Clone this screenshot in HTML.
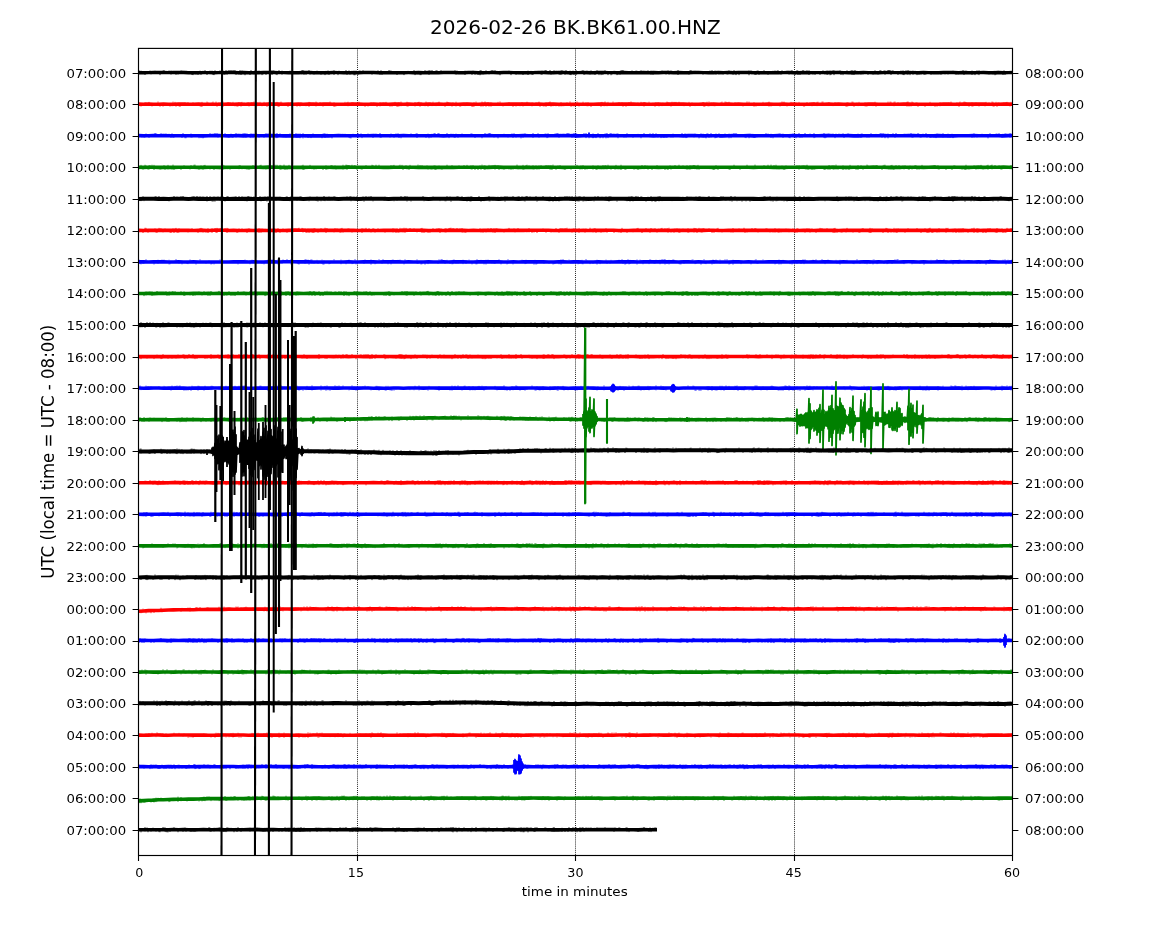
<!DOCTYPE html>
<html><head><meta charset="utf-8"><title>dayplot</title><style>html,body{margin:0;padding:0;background:#fff;overflow:hidden}svg{display:block}</style></head><body>
<svg width="1150" height="950" viewBox="0 0 1150 950">
<rect width="1150" height="950" fill="#fff"/>
<defs><clipPath id="ax"><rect x="138.5" y="48.4" width="874" height="807.1"/></clipPath></defs>
<line x1="357.5" y1="48.4" x2="357.5" y2="855.5" stroke="#1a1a1a" stroke-width="0.95" stroke-dasharray="1 1.06"/>
<line x1="575.5" y1="48.4" x2="575.5" y2="855.5" stroke="#1a1a1a" stroke-width="0.95" stroke-dasharray="1 1.06"/>
<line x1="794.5" y1="48.4" x2="794.5" y2="855.5" stroke="#1a1a1a" stroke-width="0.95" stroke-dasharray="1 1.06"/>
<g clip-path="url(#ax)">
<path d="M138.5 72.75l5 0.02l5 -0.13l5 -0.08l5 0.02l5 -0.03l5 0.06l5 -0.06l5 0.04l5 0l5 0.08l5 0.07l5 -0.03l5 -0.08l5 0l5 0.03l5 -0.04l5 -0.01l5 -0.07l5 0.06l5 0.16l5 -0.2l5 0.09l5 0.03l5 0.06l5 -0.16l5 0.02l5 -0.01l5 0.04l5 0.01l5 0.12l5 -0.03l5 0.01l5 -0.2l5 0l5 0.16l5 0.04l5 -0.1l5 0.03l5 -0.14l5 0.09l5 0.13l5 -0.02l5 0.01l5 0.02l5 -0.17l5 -0.03l5 0.01l5 0.09l5 0.03l5 0.07l5 -0.06l5 -0.01l5 0.02l5 -0.07l5 0.02l5 -0.12l5 0.18l5 -0.13l5 0.16l5 -0.07l5 -0.08l5 -0.04l5 0.03l5 0.09l5 0.02l5 -0.14l5 -0.01l5 0.11l5 0.01l5 -0.05l5 -0.04l5 0.09l5 -0.14l5 0.07l5 0.04l5 0.12l5 -0.08l5 0.06l5 -0.1l5 -0.05l5 0l5 0.17l5 -0.06l5 -0.1l5 -0.06l5 0.11l5 0.04l5 -0.06l5 -0.04l5 0.1l5 0.06l5 -0.17l5 -0.04l5 0.07l5 0.02l5 0.06l5 -0.11l5 0.14l5 -0.01l5 -0.06l5 -0.07l5 0.18l5 -0.16l5 0.13l5 -0.14l5 -0.01l5 0.13l5 -0.11l5 0.16l5 -0.11l5 -0.08l5 0.01l5 0.05l5 0.06l5 0.07l5 -0.19l5 0.05l5 -0.04l5 0.18l5 -0.2l5 -0.02l5 0l5 0.08l5 0.13l5 -0.01l5 -0.03l5 0.06l5 -0.02l5 -0.14l5 -0.04l5 0.18l5 -0.04l5 -0.17l5 0.15l5 -0.07l5 0l5 -0.01l5 -0.04l5 -0.04l5 0.07l5 0.01l5 0.15l5 -0.2l5 0.2l5 -0.18l5 0.04l5 0.11l5 0l5 -0.1l5 -0.09l5 0.1l5 -0.02l5 0.13l5 -0.17l5 0.04l5 0.13l5 -0.21l5 0.09l5 0.09l5 -0.01l5 -0.17l5 0l5 0.01l5 0.2l5 -0.16l5 0.12l5 0.04l5 -0.14l5 -0.01l5 0.16l5 -0.08l5 -0.09l5 0.11l5 -0.09l4 -0.01" fill="none" stroke="#000000" stroke-width="3.46"/>
<path d="M139 71.2v-0.9m2 0.9v-0.5m4 3.4v0.9m5 -3.8v-0.5m1 3.4v0.3m4 -3.2v-0.4m5 3.3v1m3 -3.9v-0.5m1 0.5v-1m5 1v-0.7m2 0.7v-0.5m0 3.4v0.5m5 -0.5v0.8m2 -0.8v0.5m3 -3.4v-0.6m1 0.6v-0.5m2 0.5v-0.4m2 0.4v-0.4m6 3.3v0.9m1 -0.9v1m3 -1v0.3m2 -0.3v0.8m2 -3.7v-0.5m1 3.4v0.7m2 -3.6v-0.4m2 0.4v-1m2 3.9v0.9m3 -3.8v-0.5m2 0.5v-0.5m1 3.4v0.7m1 -0.7v1m1 -3.9v-0.8m5 0.8v-0.8m3 0.8v-0.7m0 3.6v0.4m1 -0.4v0.7m1 -0.7v0.8m1 -3.7v-0.9m1 3.8v0.7m2 -3.6v-1m2 1v-1.1m2 1.1v-0.9m1 0.9v-0.6m1 0.6v-1m1 3.9v0.7m3 -0.7v0.4m1 -3.3v-1m1 3.9v0.9m1 -3.8v-0.7m3 3.6v1.1m5 -1.1v0.9m1 -3.8v-1m3 3.9v0.3m1 -3.2v-0.8m2 0.8v-0.5m1 0.5v-0.3m1 0.3v-0.6m3 3.5v1m1 -1v0.4m3 -0.4v0.8m5 -3.7v-0.7m1 3.6v0.9m1 -3.8v-0.7m1 0.7v-0.5m2 3.4v0.5m1 -0.5v1m2 -3.9v-1m3 1v-0.5m0 3.4v0.6m8 -3.5v-0.5m12 0.5v-1m0 3.9v0.3m1 -3.2v-1m1 1v-0.3m0 3.2v0.9m2 -0.9v0.8m3 -3.7v-1m1 3.9v0.5m1 -3.4v-0.3m3 3.2v0.4m3 -3.3v-0.5m4 3.4v0.6m4 -0.6v1m1 -3.9v-0.3m2 0.3v-0.7m1 3.6v0.7m5 -3.6v-0.8m0 3.7v0.9m4 -0.9v1m1 -3.9v-0.5m7 0.5v-1m1 3.9v0.7m2 -3.6v-0.7m1 3.6v0.5m2 -3.4v-0.4m2 0.4v-0.6m0 3.5v1.1m1 -1.1v1.1m1 -4v-0.6m2 3.5v0.8m1 -3.7v-0.5m1 0.5v-0.6m3 0.6v-0.8m9 3.7v0.6m6 -3.5v-0.8m2 3.7v0.7m1 -3.6v-0.9m1 3.8v0.8m7 -3.7v-1.1m1 1.1v-0.5m1 0.5v-0.6m6 3.5v0.9m7 -0.9v1m4 -3.9v-0.3m6 0.3v-1m1 3.9v1m1 -1v0.3m2 -0.3v0.4m2 -0.4v1m1 -1v1m4 -3.9v-0.9m4 0.9v-0.7m0 3.6v0.7m1 -3.6v-0.7m2 0.7v-1m4 1v-0.8m1 0.8v-0.8m4 0.8v-0.9m14 0.9v-0.9m1 3.8v0.5m1 -3.4v-0.5m8 0.5v-0.4m0 3.3v0.9m7 -0.9v0.8m1 -3.7v-0.4m2 3.3v0.6m3 -0.6v0.8m1 -0.8v0.3m1 -3.2v-0.8m0 3.7v1.1m1 -4v-1m0 3.9v0.3m2 -0.3v0.3m3 -3.2v-0.8m3 3.7v0.3m2 -3.2v-0.5m1 0.5v-1m1 1v-0.6m2 0.6v-0.9m5 3.8v1.1m9 -4v-0.5m2 3.4v1m5 -1v0.7m7 -0.7v0.9m5 -3.8v-0.5m0 3.4v0.9m3 -3.8v-0.3m1 3.2v0.8m1 -0.8v0.8m2 -3.7v-0.3m6 3.2v0.5m1 -3.4v-0.4m0 3.3v0.7m3 -3.6v-0.8m1 0.8v-1.1m4 1.1v-1.1m1 4v0.5m3 -3.4v-0.9m2 0.9v-0.4m3 3.3v0.6m1 -0.6v0.7m1 -3.6v-0.5m0 3.4v0.8m1 -3.7v-0.9m0 3.8v0.3m3 -0.3v0.7m1 -3.6v-1m4 1v-0.5m0 3.4v0.9m1 -0.9v1m2 -3.9v-0.5m1 3.4v0.7m2 -3.6v-1.1m0 4v1m6 -3.9v-0.5m1 0.5v-0.9m1 3.8v0.9m1 -0.9v0.3m2 -3.2v-0.6m2 0.6v-0.4m1 3.3v0.4m1 -3.3v-0.8m4 3.7v0.9m2 -3.8v-0.9m2 3.8v1m2 -1v1m1 -1v0.6m1 -0.6v0.7m2 -3.6v-0.9m3 3.8v1m3 -1v1.1m1 -1.1v0.4m2 -3.3v-0.4m1 0.4v-0.3m2 3.2v1m1 -1v0.4m2 -0.4v0.6m1 -3.5v-0.8m1 0.8v-0.8m1 0.8v-1m9 1v-0.7m4 0.7v-0.6m1 0.6v-0.4m4 0.4v-0.8m7 0.8v-0.8m3 0.8v-0.4m0 3.3v0.5m2 -0.5v0.7m9 -3.6v-0.6m4 3.5v0.4m2 -3.3v-0.6m1 3.5v0.5m2 -3.4v-0.6m7 0.6v-1m0 3.9v0.9m11 -0.9v0.5m1 -3.4v-0.8m1 0.8v-1m4 1v-0.3m8 3.2v0.6m7 -3.5v-0.6m2 0.6v-1m3 1v-0.5m1 3.4v0.4m3 -0.4v0.6m2 -0.6v0.5m2 -0.5v0.7m4 -0.7v0.4m1 -0.4v0.4m1 -3.3v-0.7m2 0.7v-0.3m2 3.2v0.5m1 -3.4v-1m2 3.9v1m3 -1v1m10 -3.9v-0.6m0 3.5v1.1m2 -4v-0.7m1 3.6v0.4m2 -0.4v0.5m1 -0.5v0.8m1 -0.8v0.9m1 -3.8v-0.5m1 0.5v-0.7m1 3.6v0.6m5 -3.5v-0.9m4 3.8v0.7m5 -3.6v-0.4m2 0.4v-0.7m2 0.7v-0.5m1 0.5v-0.9m3 3.8v0.5m1 -3.4v-0.8m5 0.8v-0.4m2 0.4v-0.3m0 3.2v0.5m2 -3.4v-0.5m1 0.5v-1m3 3.9v1m2 -3.9v-1m1 1v-0.5m0 3.4v0.9m2 -0.9v0.9m3 -3.8v-1.1m4 1.1v-0.9m2 0.9v-0.9m0 3.8v0.9m4 -0.9v0.6m2 -0.6v0.9m5 -0.9v0.8m3 -3.7v-0.8m2 3.7v0.5m2 -3.4v-0.5m0 3.4v0.9m1 -0.9v0.6m2 -3.5v-0.4m0 3.3v1.1m1 -1.1v0.9m2 -3.8v-0.7m1 0.7v-0.7m0 3.6v1m4 -3.9v-0.3m2 0.3v-0.8m1 3.7v0.9m2 -0.9v1m4 -3.9v-0.8m4 0.8v-0.5m1 0.5v-0.9m0 3.8v0.7m1 -0.7v0.3m1 -0.3v0.9m1 -3.8v-1m6 3.9v0.5m2 -0.5v0.4m5 -0.4v0.8m5 -0.8v0.5m2 -3.4v-0.8m3 3.7v0.4m2 -3.3v-1m1 1v-0.7m3 0.7v-0.7m1 0.7v-0.6m0 3.5v0.7m3 -3.6v-1.1m1 1.1v-1m1 1v-1.1m1 4v0.9m1 -3.8v-0.5m1 0.5v-0.8m5 3.7v0.9m3 -3.8v-0.6m2 0.6v-0.8m0 3.7v0.7m1 -0.7v1m2 -3.9v-0.7m1 3.6v0.3m1 -3.2v-0.9m0 3.8v0.7m2 -0.7v1m3 -3.9v-0.6m0 3.5v0.7m2 -3.6v-0.4m2 3.3v1m2 -1v0.6m2 -0.6v0.4m3 -0.4v0.8m1 -0.8v0.7m1 -0.7v0.4m5 -0.4v0.7m10 -0.7v0.6m4 -0.6v0.3m3 -0.3v0.4m5 -3.3v-0.4m3 3.3v0.7m2 -0.7v0.4m5 -3.3v-0.9m1 3.8v0.9m2 -3.8v-0.5m6 0.5v-0.6m0 3.5v0.8m3 -0.8v1m2 -3.9v-0.8m1 3.7v0.4m1 -3.3v-0.9m0 3.8v1m10 -1v0.3m4 -0.3v0.3m1 -3.2v-0.3m1 3.2v1.1m1 -1.1v0.4m2 -3.3v-0.3m5 3.2v0.9m1 -3.8v-0.8m1 3.7v0.8" fill="none" stroke="#000000" stroke-width="0.9"/>
<path d="M138.5 104.13l5 0.08l5 -0.1l5 0.17l5 0l5 -0.14l5 0.12l5 0.01l5 -0.13l5 0.01l5 0.04l5 0.1l5 -0.18l5 0.13l5 -0.02l5 -0.04l5 0.03l5 0.08l5 -0.16l5 0.16l5 -0.13l5 0.1l5 0.02l5 -0.16l5 0.16l5 0.03l5 -0.16l5 -0.07l5 0.02l5 0.21l5 -0.23l5 0.21l5 -0.18l5 0.14l5 -0.15l5 0.02l5 0.12l5 -0.14l5 0.06l5 0.14l5 -0.05l5 0.04l5 0.02l5 -0.23l5 0.05l5 0.14l5 -0.03l5 -0.16l5 0.12l5 -0.07l5 0.05l5 -0.08l5 -0.02l5 0.23l5 -0.16l5 0.14l5 -0.19l5 0.09l5 -0.08l5 0.07l5 -0.06l5 0.12l5 -0.13l5 0.14l5 -0.05l5 -0.1l5 0.06l5 0.03l5 0.11l5 -0.14l5 -0.03l5 0.18l5 -0.02l5 -0.04l5 -0.11l5 -0.02l5 0.02l5 -0.05l5 0l5 0.11l5 -0.03l5 0.04l5 -0.05l5 -0.08l5 0.16l5 -0.01l5 -0.02l5 0l5 0.03l5 0.07l5 -0.03l5 -0.03l5 -0.08l5 -0.02l5 0.03l5 0.13l5 -0.14l5 0l5 0l5 -0.06l5 0.2l5 -0.23l5 0.14l5 0.08l5 -0.16l5 0.08l5 -0.05l5 -0.04l5 -0.01l5 -0.02l5 0.18l5 -0.02l5 0.03l5 -0.2l5 0.15l5 -0.09l5 0.08l5 -0.02l5 -0.06l5 0.16l5 -0.23l5 0.17l5 0.03l5 -0.08l5 0.02l5 0.09l5 -0.18l5 0.1l5 0.02l5 -0.08l5 0.08l5 -0.08l5 0.03l5 0.02l5 0.02l5 -0.09l5 0.08l5 -0.02l5 -0.08l5 0.09l5 -0.08l5 0.15l5 -0.1l5 0.06l5 -0.05l5 -0.01l5 -0.06l5 -0.02l5 0.19l5 -0.1l5 0l5 0l5 0.07l5 -0.14l5 -0.01l5 0.15l5 -0.08l5 0.04l5 0.04l5 0.02l5 -0.01l5 -0.19l5 0.08l5 0.1l5 0l5 -0.17l5 0.01l5 0.03l5 -0.04l5 0.06l5 0.11l5 -0.07l5 -0.02l5 -0.08l5 0.07l4 0.14" fill="none" stroke="#ff0000" stroke-width="3.6"/>
<path d="M141 105.7v0.8m4 -3.8v-0.5m1 0.5v-0.4m3 0.4v-0.8m3 3.8v0.7m6 -3.7v-1.1m2 4.1v0.9m3 -0.9v0.8m7 -0.8v0.8m2 -0.8v0.5m1 -3.5v-1m0 4v0.4m2 -3.4v-0.8m1 3.8v0.9m3 -0.9v0.6m1 -0.6v1.1m5 -4.1v-0.5m3 0.5v-0.7m5 0.7v-0.6m7 3.6v0.6m1 -0.6v1m1 -4v-0.8m0 3.8v1m5 -4v-1m1 1v-0.4m4 0.4v-0.3m1 0.3v-1m3 1v-1m1 4v0.9m2 -3.9v-0.6m2 0.6v-0.7m2 0.7v-1m0 4v1m5 -4v-0.7m2 0.7v-0.4m3 0.4v-0.8m2 3.8v0.6m2 -0.6v0.9m1 -0.9v0.7m1 -3.7v-0.7m2 0.7v-0.7m0 3.7v0.8m1 -3.8v-0.8m2 0.8v-0.4m3 0.4v-0.4m1 0.4v-0.7m1 0.7v-0.7m0 3.7v0.7m2 -3.7v-0.6m1 0.6v-0.5m2 0.5v-1.1m3 4.1v0.5m1 -3.5v-0.6m2 0.6v-0.8m2 3.8v0.5m2 -3.5v-0.8m3 3.8v1.1m2 -4.1v-0.5m1 3.5v0.6m1 -3.6v-0.5m6 0.5v-0.8m1 3.8v0.9m1 -0.9v1.1m2 -4.1v-1m7 4v1.1m3 -4.1v-0.7m6 3.7v0.8m3 -0.8v0.7m1 -3.7v-0.4m5 3.4v0.5m3 -3.5v-0.8m0 3.8v1m1 -4v-0.5m6 0.5v-1m0 4v0.7m1 -3.7v-0.4m3 0.4v-0.7m3 3.7v0.8m7 -3.8v-1m4 1v-0.6m0 3.6v1.1m1 -1.1v0.8m1 -0.8v0.6m9 -3.6v-0.8m2 0.8v-0.7m1 0.7v-0.9m0 3.9v0.5m1 -3.5v-0.5m2 0.5v-0.5m1 0.5v-0.6m1 0.6v-0.5m6 0.5v-0.9m6 3.9v1m3 -1v0.7m3 -3.7v-0.5m6 3.5v1m3 -4v-0.6m0 3.6v0.6m6 -3.6v-0.8m4 3.8v0.9m2 -0.9v0.8m3 -3.8v-0.8m2 3.8v1m1 -1v0.8m1 -3.8v-0.5m0 3.5v0.7m2 -3.7v-1m0 4v0.5m6 -3.5v-0.9m0 3.9v0.7m1 -0.7v0.8m7 -3.8v-0.7m0 3.7v0.7m3 -3.7v-0.6m1 0.6v-0.9m1 3.9v0.9m1 -3.9v-0.5m4 3.5v0.5m1 -3.5v-1m2 4v0.8m2 -3.8v-0.4m2 3.4v0.4m1 -3.4v-0.9m3 3.9v0.4m3 -3.4v-1m4 4v0.3m2 -0.3v1m2 -4v-1m1 1v-0.6m4 3.6v0.8m1 -3.8v-0.5m3 0.5v-0.9m0 3.9v0.7m4 -0.7v1m1 -1v0.5m4 -0.5v0.4m2 -3.4v-0.3m4 3.3v0.3m1 -0.3v1.1m1 -1.1v0.9m1 -3.9v-0.7m0 3.7v0.9m2 -3.9v-1m3 4v0.3m2 -0.3v0.9m1 -3.9v-1m1 4v0.8m2 -3.8v-1.1m1 4.1v0.9m2 -3.9v-0.6m1 3.6v0.8m2 -3.8v-0.4m0 3.4v0.9m7 -3.9v-0.8m2 0.8v-1.1m3 4.1v0.7m6 -3.7v-0.5m4 3.5v1m3 -1v0.7m4 -0.7v0.5m2 -3.5v-0.5m1 3.5v0.7m4 -3.7v-0.9m5 0.9v-0.4m0 3.4v0.6m1 -3.6v-0.4m3 0.4v-0.4m3 0.4v-1m1 4v1m3 -1v0.5m1 -0.5v0.8m2 -3.8v-0.4m0 3.4v1.1m3 -4.1v-0.3m1 0.3v-1.1m1 4.1v0.9m2 -0.9v0.5m3 -0.5v0.5m3 -0.5v0.8m2 -3.8v-0.7m0 3.7v0.7m1 -0.7v0.4m1 -0.4v0.5m1 -0.5v0.4m3 -3.4v-0.5m3 0.5v-1.1m1 4.1v1m1 -1v0.5m2 -0.5v0.7m3 -3.7v-1.1m1 1.1v-0.3m1 3.3v0.7m4 -3.7v-0.9m3 0.9v-0.5m1 3.5v0.5m1 -3.5v-0.7m0 3.7v0.5m3 -0.5v1.1m10 -4.1v-0.6m0 3.6v1m1 -4v-0.8m2 3.8v0.5m1 -3.5v-1.1m0 4.1v0.4m2 -0.4v0.5m1 -3.5v-0.8m5 0.8v-1m0 4v0.3m6 -3.3v-0.5m3 0.5v-0.4m1 3.4v0.9m3 -0.9v0.9m3 -3.9v-0.7m2 0.7v-1.1m7 1.1v-0.5m1 3.5v0.4m2 -3.4v-0.8m3 0.8v-0.7m0 3.7v0.8m1 -3.8v-0.6m4 0.6v-0.9m4 0.9v-0.3m2 0.3v-0.3m0 3.3v0.9m1 -3.9v-0.5m2 0.5v-0.4m1 3.4v0.6m3 -0.6v0.4m1 -3.4v-0.4m4 0.4v-1m1 1v-0.4m3 3.4v0.8m1 -3.8v-0.9m2 0.9v-0.8m1 0.8v-0.5m1 0.5v-0.8m3 0.8v-0.9m5 3.9v0.5m5 -3.5v-0.8m0 3.8v0.3m1 -0.3v1m2 -4v-0.4m3 3.4v0.4m8 -3.4v-0.7m1 3.7v1.1m1 -1.1v0.7m2 -3.7v-0.9m1 3.9v0.6m1 -3.6v-1.1m0 4.1v0.5m1 -0.5v0.4m1 -3.4v-0.4m1 3.4v0.4m2 -0.4v0.5m1 -0.5v0.5m6 -3.5v-0.5m1 0.5v-1m3 1v-1m1 1v-0.9m1 0.9v-0.6m2 0.6v-0.9m6 0.9v-0.5m8 3.5v0.7m4 -3.7v-1.1m2 1.1v-1m5 1v-0.6m0 3.6v0.9m1 -0.9v0.4m1 -0.4v0.7m7 -3.7v-0.8m6 0.8v-1m0 4v0.8m2 -0.8v0.7m9 -0.7v0.7m2 -3.7v-1.1m2 1.1v-1m3 4v0.7m4 -3.7v-0.8m4 3.8v0.3m4 -3.3v-0.8m5 3.8v1.1m1 -1.1v0.4m2 -3.4v-0.7m3 0.7v-0.4m2 0.4v-0.5m0 3.5v0.5m2 -3.5v-0.7m3 0.7v-0.8m0 3.8v0.4m1 -3.4v-0.9m4 0.9v-1m1 1v-1m6 1v-0.6m4 3.6v0.4m2 -3.4v-0.6m11 3.6v0.9m1 -3.9v-0.5m0 3.5v0.9m1 -3.9v-0.5m0 3.5v0.5m4 -3.5v-1m1 1v-0.9m1 3.9v1m2 -1v0.3m1 -3.3v-0.3m1 3.3v0.4m1 -3.4v-0.8m6 0.8v-0.4m0 3.4v0.6m1 -0.6v0.7m1 -0.7v0.7m6 -0.7v0.4m2 -3.4v-0.9m1 3.9v0.9m12 -3.9v-1m2 1v-1m1 1v-0.9m3 0.9v-0.9m0 3.9v0.5m1 -3.5v-1m3 1v-0.7m9 0.7v-0.9m0 3.9v0.8m1 -3.8v-1.1m1 4.1v0.8m2 -0.8v0.7m1 -3.7v-1m1 1v-0.7m3 0.7v-0.4m1 0.4v-0.4m1 3.4v1m7 -1v1m5 -4v-0.8m1 3.8v0.4m4 -0.4v1m2 -1v0.8m3 -3.8v-0.5m0 3.5v0.5m9 -3.5v-0.3m2 0.3v-1m3 4v0.3m3 -3.3v-0.6m2 0.6v-0.5m0 3.5v1m1 -4v-1m4 1v-1m1 1v-0.9m1 0.9v-0.6m3 3.6v0.9m3 -3.9v-0.4m0 3.4v0.8m1 -0.8v0.7m3 -3.7v-0.3m3 3.3v0.7m6 -3.7v-0.4m0 3.4v0.6m1 -3.6v-0.8m3 0.8v-0.5m2 3.5v0.3m1 -3.3v-1m1 1v-0.8m0 3.8v0.7m1 -0.7v0.9m2 -3.9v-0.8m1 3.8v1m1 -4v-0.5m1 0.5v-0.4m5 0.4v-0.4m2 0.4v-0.7m1 0.7v-0.8m3 3.8v0.7m1 -3.7v-0.8" fill="none" stroke="#ff0000" stroke-width="0.9"/>
<path d="M138.5 135.63l5 0.16l5 0.02l5 -0.16l5 0.05l5 -0.07l5 0.13l5 0.03l5 -0.09l5 0.09l5 -0.08l5 0.08l5 -0.1l5 0.16l5 -0.12l5 -0.11l5 0.02l5 0.15l5 0.04l5 -0.06l5 -0.11l5 0.17l5 -0.04l5 -0.14l5 0.06l5 0.07l5 -0.16l5 0.01l5 0.07l5 0.13l5 0.03l5 -0.16l5 0.14l5 -0.03l5 0.02l5 -0.07l5 0.09l5 -0.08l5 0.08l5 -0.09l5 -0.09l5 0.07l5 0l5 -0.04l5 0.01l5 0.03l5 0.02l5 -0.09l5 0.02l5 0.05l5 0l5 -0.02l5 0.06l5 -0.12l5 0.09l5 -0.06l5 0.11l5 -0.01l5 0.02l5 -0.07l5 -0.06l5 0.16l5 -0.1l5 -0.03l5 -0.02l5 0.03l5 0.07l5 0.03l5 -0.08l5 0.06l5 -0.13l5 0.06l5 -0.02l5 -0.02l5 0.02l5 0.09l5 0l5 -0.13l5 0.01l5 0.13l5 -0.03l5 0l5 -0.01l5 0.02l5 -0.1l5 -0.06l5 0.08l5 -0.08l5 0.22l5 -0.1l5 0.03l5 0.07l5 -0.04l5 -0.13l5 0.02l5 -0.05l5 0.16l5 -0.01l5 -0.06l5 -0.03l5 -0.03l5 0.06l5 0.05l5 0.04l5 -0.01l5 0.01l5 -0.1l5 -0.01l5 -0.02l5 0.15l5 -0.19l5 0l5 0.03l5 0.15l5 -0.02l5 -0.12l5 0.12l5 0.01l5 -0.11l5 -0.05l5 0.14l5 -0.1l5 -0.06l5 0.19l5 -0.11l5 -0.01l5 0.04l5 -0.08l5 -0.06l5 0.09l5 0l5 -0.09l5 0.09l5 0.09l5 -0.1l5 0.08l5 -0.01l5 -0.1l5 -0.05l5 0.16l5 -0.01l5 -0.08l5 -0.02l5 0.16l5 0.01l5 -0.16l5 0.08l5 0l5 -0.06l5 -0.07l5 0.07l5 0.07l5 -0.01l5 -0.02l5 -0.09l5 0.02l5 0.02l5 0.03l5 -0.01l5 0.13l5 -0.19l5 0.21l5 -0.18l5 0.15l5 -0.15l5 0.08l5 -0.05l5 -0.08l5 0.18l5 0l5 -0.13l5 0.13l5 -0.08l5 0.13l5 -0.23l4 0.08" fill="none" stroke="#0000ff" stroke-width="3.6"/>
<path d="M142 137.2v0.5m2 -0.5v0.7m1 -0.7v0.4m1 -3.4v-0.6m3 3.6v0.7m6 -3.7v-1.1m1 1.1v-0.8m5 0.8v-0.8m5 0.8v-0.5m3 0.5v-0.4m2 3.4v0.8m1 -3.8v-0.7m1 3.7v0.7m1 -0.7v0.5m8 -0.5v0.8m1 -3.8v-1m2 4v1m1 -1v1m5 -4v-0.6m0 3.6v0.4m1 -0.4v0.4m7 -0.4v1m2 -1v0.9m2 -0.9v1.1m7 -4.1v-0.9m5 0.9v-1m2 1v-0.9m1 3.9v0.5m4 -3.5v-0.9m3 0.9v-0.9m4 3.9v0.4m2 -3.4v-0.5m1 3.5v0.4m1 -0.4v0.7m3 -3.7v-1m0 4v0.3m7 -3.3v-0.8m1 0.8v-0.7m1 0.7v-1m1 1v-0.5m0 3.5v0.5m1 -3.5v-0.7m3 3.7v0.5m1 -3.5v-0.6m0 3.6v0.9m2 -0.9v0.9m3 -3.9v-1.1m3 4.1v0.6m5 -0.6v0.6m2 -3.6v-0.8m2 0.8v-0.5m3 3.5v0.7m2 -0.7v0.8m3 -0.8v0.9m1 -3.9v-1m0 4v0.9m1 -0.9v0.6m2 -3.6v-0.7m6 3.7v0.3m4 -3.3v-0.7m3 3.7v0.7m3 -3.7v-1m0 4v0.5m1 -0.5v0.6m1 -3.6v-0.7m0 3.7v0.4m1 -0.4v0.4m1 -3.4v-0.7m0 3.7v1m3 -4v-0.9m0 3.9v1.1m2 -1.1v0.4m3 -0.4v0.6m3 -0.6v0.9m2 -3.9v-0.7m9 3.7v1m1 -4v-0.5m1 0.5v-0.7m1 0.7v-0.8m0 3.8v0.7m2 -3.7v-0.5m5 3.5v1.1m11 -4.1v-0.4m2 0.4v-0.4m4 3.4v0.6m1 -0.6v1m1 -1v1.1m2 -4.1v-0.4m5 0.4v-1m0 4v0.9m3 -3.9v-0.7m1 3.7v0.9m6 -3.9v-0.6m5 3.6v0.8m3 -3.8v-0.4m4 0.4v-1.1m0 4.1v0.4m1 -0.4v0.7m9 -0.7v0.4m1 -3.4v-0.6m3 3.6v0.6m2 -3.6v-0.7m2 0.7v-0.9m1 3.9v0.8m2 -0.8v1m10 -4v-0.7m5 0.7v-0.6m1 0.6v-0.9m0 3.9v0.8m9 -0.8v0.7m2 -3.7v-0.5m1 3.5v1m2 -1v0.6m1 -3.6v-0.4m2 0.4v-0.9m1 0.9v-1m3 1v-1m1 1v-0.9m8 0.9v-1m2 4v0.9m2 -3.9v-0.5m2 0.5v-0.4m1 3.4v0.4m1 -0.4v0.8m1 -3.8v-0.5m2 3.5v0.6m4 -3.6v-0.6m9 0.6v-0.7m1 0.7v-0.6m3 3.6v0.8m7 -0.8v1m3 -4v-1m4 1v-0.9m1 0.9v-1.1m4 4.1v0.4m4 -0.4v1.1m6 -4.1v-0.4m4 3.4v0.4m4 -3.4v-0.7m1 3.7v0.7m1 -3.7v-0.9m2 3.9v0.4m5 -0.4v1.1m2 -1.1v0.6m2 -3.6v-0.7m8 0.7v-1m0 4v0.7m5 -3.7v-0.9m1 3.9v0.5m6 -3.5v-0.5m1 0.5v-0.6m1 3.6v0.9m1 -3.9v-0.9m0 3.9v0.4m7 -3.4v-0.6m1 0.6v-0.6m1 0.6v-1m1 1v-1m1 4v0.6m1 -3.6v-0.4m7 0.4v-1m1 1v-1m1 1v-0.9m3 3.9v0.8m2 -3.8v-0.9m0 3.9v0.5m1 -3.5v-0.4m1 0.4v-0.9m0 3.9v0.8m1 -0.8v0.5m7 -3.5v-1m2 1v-1.1m0 4.1v0.9m3 -0.9v1m4 -4v-0.7m0 3.7v1m3 -1v0.9m2 -3.9v-1m2 4v1m1 -1v0.4m2 -0.4v1m2 -4v-0.6m1 0.6v-0.6m0 3.6v1.1m1 -4.1v-1.1m1 4.1v0.9m2 -3.9v-0.7m1 0.7v-1m6 1v-0.6m1 0.6v-0.6m0 3.6v1m6 -1v0.6m2 -0.6v0.5m1 -3.5v-0.9m6 3.9v0.6m5 -3.6v-0.3m3 3.3v1m3 -4v-1m6 1v-0.8m2 0.8v-0.3m1 0.3v-0.9m3 0.9v-0.8m2 3.8v0.5m3 -0.5v0.9m3 -0.9v0.6m2 -0.6v0.4m1 -0.4v0.5m4 -0.5v0.5m2 -3.5v-0.5m0 3.5v0.5m9 -3.5v-1m3 1v-0.6m1 3.6v0.9m1 -0.9v0.5m7 -0.5v0.3m1 -3.3v-0.5m4 3.5v1.1m2 -4.1v-0.8m2 0.8v-0.5m3 3.5v1.1m1 -4.1v-0.8m1 0.8v-0.6m1 3.6v0.8m2 -3.8v-1m0 4v0.4m4 -0.4v1m1 -4v-0.6m0 3.6v0.8m1 -0.8v0.5m2 -3.5v-0.8m1 3.8v0.8m1 -0.8v0.4m1 -0.4v0.6m3 -3.6v-0.6m4 0.6v-0.5m0 3.5v1m2 -1v0.9m3 -3.9v-0.9m2 0.9v-1m9 4v0.5m1 -0.5v0.9m3 -0.9v1m1 -4v-0.4m3 0.4v-0.3m1 3.3v0.7m1 -0.7v0.7m11 -3.7v-1m2 1v-0.6m3 0.6v-0.4m0 3.4v0.8m2 -0.8v1m6 -4v-0.4m1 0.4v-0.6m3 0.6v-0.5m0 3.5v0.7m6 -0.7v0.7m1 -0.7v1m3 -4v-0.5m1 3.5v0.3m2 -0.3v1m3 -4v-1.1m1 4.1v0.7m2 -0.7v0.6m3 -3.6v-1.1m5 1.1v-0.6m4 0.6v-1m0 4v0.9m1 -0.9v0.4m9 -3.4v-1m0 4v0.7m1 -0.7v1m1 -1v0.6m2 -3.6v-0.4m1 0.4v-0.5m2 0.5v-0.3m2 0.3v-0.6m2 3.6v0.9m1 -3.9v-0.5m3 0.5v-0.6m2 0.6v-0.4m2 0.4v-0.9m1 3.9v0.8m4 -3.8v-0.7m10 0.7v-0.5m3 0.5v-0.4m0 3.4v0.6m1 -3.6v-0.7m5 3.7v0.5m2 -0.5v0.5m2 -3.5v-0.9m5 0.9v-0.3m4 0.3v-0.6m1 0.6v-1.1m1 4.1v0.6m1 -3.6v-0.9m2 0.9v-0.3m0 3.3v1m3 -4v-0.6m0 3.6v1.1m5 -4.1v-0.9m2 3.9v0.6m1 -3.6v-1.1m8 1.1v-0.4m1 0.4v-0.3m6 0.3v-1m1 4v0.5m1 -0.5v0.5m5 -3.5v-1.1m1 1.1v-0.4m1 3.4v0.3m1 -0.3v0.5m2 -3.5v-0.5m3 0.5v-1m1 4v0.5m3 -0.5v0.7m1 -0.7v0.6m3 -0.6v0.3m2 -0.3v0.9m1 -3.9v-0.6m6 0.6v-0.9m0 3.9v0.4m5 -3.4v-0.5m0 3.5v0.4m2 -0.4v0.5m2 -3.5v-0.4m1 3.4v0.9m19 -0.9v0.7m2 -3.7v-0.7m0 3.7v0.4m3 -0.4v0.3m5 -3.3v-0.4m6 3.4v1.1m2 -4.1v-0.9m6 0.9v-0.5m1 0.5v-0.6m2 0.6v-1m3 4v0.7m1 -3.7v-0.4m2 0.4v-0.7m1 0.7v-0.5m4 0.5v-1m0 4v0.5m1 -3.5v-0.7" fill="none" stroke="#0000ff" stroke-width="0.9"/>
<path d="M589 132.5L589 137" fill="none" stroke="#0000ff" stroke-width="1.75" stroke-linejoin="round"/>
<path d="M138.5 167.2l5 0.14l5 -0.05l5 -0.05l5 0.13l5 0.02l5 0l5 0.01l5 -0.22l5 0.08l5 0.01l5 -0.04l5 0.11l5 0.04l5 -0.18l5 0.09l5 0.11l5 -0.02l5 -0.11l5 -0.08l5 0.08l5 0.02l5 0.06l5 -0.14l5 0.02l5 0.17l5 -0.23l5 0.14l5 -0.12l5 0.16l5 -0.08l5 0.12l5 -0.17l5 0.16l5 -0.16l5 -0.04l5 0.01l5 -0.01l5 0.08l5 0.14l5 -0.15l5 0.09l5 -0.17l5 0.12l5 0l5 -0.1l5 0.11l5 -0.03l5 -0.03l5 0.12l5 -0.03l5 -0.14l5 0l5 -0.01l5 0.05l5 0.09l5 0.08l5 0l5 -0.03l5 -0.18l5 0.17l5 -0.01l5 -0.07l5 0.12l5 -0.09l5 -0.12l5 0.03l5 -0.02l5 0.11l5 0l5 0.06l5 -0.2l5 0l5 0.23l5 -0.17l5 0l5 0.14l5 -0.18l5 0.17l5 0.02l5 -0.08l5 0.01l5 -0.14l5 0.14l5 0l5 0.04l5 -0.06l5 -0.1l5 0.03l5 0.1l5 -0.14l5 0.01l5 0.04l5 0.13l5 -0.06l5 -0.05l5 0.15l5 -0.1l5 -0.08l5 0.08l5 0.07l5 -0.12l5 0.02l5 0.03l5 0.1l5 -0.08l5 -0.11l5 0.09l5 -0.06l5 0.04l5 0.06l5 -0.17l5 0.12l5 -0.05l5 0.07l5 0.05l5 -0.08l5 0.04l5 -0.09l5 0l5 0.06l5 0l5 -0.07l5 0.13l5 -0.07l5 -0.03l5 -0.02l5 0.14l5 0.01l5 0.01l5 -0.17l5 -0.04l5 0.14l5 -0.15l5 0.2l5 -0.04l5 -0.08l5 0.02l5 0.06l5 -0.13l5 0.05l5 0.1l5 -0.02l5 -0.02l5 -0.12l5 0.03l5 0.01l5 -0.06l5 0.15l5 -0.02l5 0.09l5 -0.09l5 0.09l5 -0.11l5 0.01l5 -0.06l5 0.05l5 0.11l5 -0.11l5 -0.11l5 0.08l5 -0.04l5 0.1l5 -0.02l5 -0.01l5 0.11l5 -0.04l5 -0.16l5 -0.02l5 0.16l5 -0.02l5 0.01l5 -0.03l5 -0.12l5 0.1l4 0.1" fill="none" stroke="#008000" stroke-width="3.6"/>
<path d="M139 168.8v0.4m2 -3.4v-0.9m2 3.9v0.7m2 -3.7v-1m1 1v-0.4m2 3.4v0.8m1 -3.8v-0.6m0 3.6v0.7m1 -3.7v-0.8m2 0.8v-1m2 1v-0.9m0 3.9v1.1m6 -1.1v0.7m1 -0.7v0.5m3 -3.5v-0.7m1 3.7v0.9m3 -3.9v-0.9m0 3.9v0.5m4 -0.5v0.6m1 -3.6v-1.1m1 4.1v1m7 -1v1m3 -4v-0.6m6 3.6v0.6m1 -3.6v-0.7m3 0.7v-1m1 1v-1.1m4 4.1v0.9m2 -3.9v-0.4m2 3.4v0.8m1 -3.8v-0.7m1 0.7v-0.9m5 3.9v0.6m3 -0.6v0.3m1 -0.3v1.1m6 -1.1v0.4m2 -0.4v1m1 -4v-1m0 4v0.8m1 -3.8v-0.5m4 3.5v0.4m2 -0.4v0.8m9 -3.8v-0.4m0 3.4v0.4m1 -3.4v-0.8m2 3.8v0.4m5 -0.4v0.6m2 -0.6v0.9m4 -3.9v-0.8m3 3.8v0.4m4 -3.4v-0.7m1 0.7v-1m5 4v0.7m2 -0.7v0.5m2 -0.5v0.4m2 -3.4v-0.7m3 0.7v-1m2 1v-1m3 1v-0.9m0 3.9v0.8m1 -3.8v-0.3m0 3.3v0.8m3 -3.8v-1.1m1 4.1v1m2 -1v0.8m2 -3.8v-0.9m13 0.9v-0.3m1 0.3v-1m0 4v1m1 -1v0.9m6 -3.9v-0.9m2 3.9v0.4m2 -0.4v0.9m2 -0.9v0.6m7 -0.6v1.1m3 -4.1v-0.5m0 3.5v1m1 -1v0.5m1 -0.5v0.5m3 -3.5v-0.7m1 0.7v-0.7m3 0.7v-0.4m1 3.4v0.6m7 -3.6v-1m0 4v0.6m3 -3.6v-1.1m1 1.1v-0.9m0 3.9v0.9m1 -3.9v-0.4m1 0.4v-0.7m3 0.7v-1m2 1v-0.6m1 0.6v-0.8m2 3.8v1m4 -1v0.5m1 -0.5v0.8m4 -3.8v-0.7m6 0.7v-1m1 1v-0.7m3 0.7v-1m3 1v-1m12 1v-0.7m2 0.7v-0.5m1 0.5v-0.9m5 0.9v-0.3m1 0.3v-1m2 1v-0.9m1 3.9v1m3 -4v-0.6m1 3.6v0.5m1 -0.5v0.3m1 -0.3v1m1 -4v-0.9m8 0.9v-1.1m2 1.1v-0.8m2 0.8v-0.7m5 0.7v-0.4m1 3.4v0.6m3 -0.6v0.5m1 -0.5v0.5m2 -3.5v-0.4m1 0.4v-0.4m0 3.4v0.9m1 -0.9v0.9m3 -3.9v-0.3m2 3.3v0.4m1 -0.4v0.8m5 -3.8v-1m5 1v-0.7m7 0.7v-0.5m5 0.5v-0.8m3 0.8v-0.9m4 0.9v-0.6m0 3.6v0.5m1 -0.5v0.7m1 -3.7v-0.8m2 3.8v1m3 -1v1.1m2 -4.1v-0.5m1 3.5v0.8m1 -3.8v-1.1m2 1.1v-0.5m0 3.5v0.7m1 -3.7v-0.5m0 3.5v1m2 -1v0.4m2 -3.4v-0.9m2 0.9v-0.4m2 0.4v-0.5m2 0.5v-0.9m0 3.9v0.7m3 -3.7v-0.3m1 3.3v1m5 -1v0.7m5 -0.7v0.7m2 -0.7v1.1m2 -1.1v0.8m4 -3.8v-1.1m1 4.1v0.4m5 -3.4v-0.9m0 3.9v0.8m1 -0.8v0.6m2 -3.6v-0.7m1 0.7v-1m2 1v-0.5m4 0.5v-0.6m0 3.6v0.4m1 -0.4v0.5m2 -3.5v-0.4m1 3.4v0.7m2 -3.7v-0.4m0 3.4v0.7m2 -3.7v-0.7m5 0.7v-0.6m4 3.6v0.8m1 -3.8v-0.5m0 3.5v0.6m1 -0.6v1m1 -4v-1.1m3 4.1v0.9m2 -3.9v-0.4m2 0.4v-0.8m4 3.8v0.4m1 -0.4v1m6 -1v0.8m6 -3.8v-0.9m3 3.9v0.7m1 -3.7v-0.4m1 3.4v0.6m1 -3.6v-0.8m2 3.8v0.9m2 -0.9v0.6m6 -3.6v-0.5m0 3.5v0.7m3 -0.7v0.9m1 -0.9v1m1 -4v-0.5m1 3.5v0.5m2 -0.5v0.5m2 -3.5v-0.8m2 0.8v-0.7m1 0.7v-0.5m1 3.5v0.5m1 -3.5v-1m3 4v0.8m4 -0.8v0.7m1 -3.7v-0.9m5 0.9v-1m0 4v1m4 -1v0.9m1 -0.9v0.7m8 -0.7v0.8m4 -0.8v1m4 -4v-0.8m2 3.8v0.4m1 -3.4v-0.7m2 0.7v-0.3m1 3.3v0.8m4 -0.8v1m5 -4v-0.7m8 3.7v1.1m2 -1.1v0.6m1 -0.6v1.1m2 -4.1v-0.5m1 3.5v0.7m4 -3.7v-0.8m4 0.8v-1m4 1v-0.5m4 0.5v-0.5m0 3.5v0.7m2 -0.7v0.3m1 -3.3v-0.5m0 3.5v0.6m4 -3.6v-0.8m1 3.8v0.4m2 -0.4v0.8m1 -3.8v-0.9m1 3.9v0.9m14 -0.9v0.7m1 -0.7v1.1m2 -4.1v-0.6m2 3.6v1m11 -1v0.7m1 -0.7v1m4 -4v-1m6 4v0.9m7 -3.9v-1m8 1v-1.1m7 4.1v0.3m2 -3.3v-0.7m4 0.7v-1m3 1v-1.1m3 1.1v-0.8m2 0.8v-1m1 4v0.4m2 -0.4v0.5m3 -3.5v-0.3m1 3.3v0.3m1 -0.3v1m1 -1v0.6m1 -3.6v-0.4m11 0.4v-0.7m2 0.7v-0.7m0 3.7v0.8m7 -0.8v0.6m1 -3.6v-1m1 4v0.9m4 -0.9v1m2 -1v0.7m1 -0.7v0.4m9 -0.4v0.9m1 -0.9v1m3 -1v0.6m1 -3.6v-0.8m1 0.8v-0.4m0 3.4v0.7m2 -3.7v-0.7m1 0.7v-0.3m0 3.3v0.6m1 -3.6v-0.7m0 3.7v0.9m2 -3.9v-1.1m0 4.1v0.8m2 -0.8v0.9m5 -3.9v-0.5m0 3.5v1m3 -1v0.6m3 -0.6v1m1 -4v-0.9m6 3.9v0.9m1 -0.9v0.4m1 -3.4v-0.7m0 3.7v1m3 -4v-0.6m2 3.6v0.8m4 -3.8v-1.1m1 1.1v-0.4m8 0.4v-0.5m1 0.5v-0.8m5 3.8v1m1 -4v-0.4m1 0.4v-0.9m1 0.9v-1m4 4v0.6m2 -3.6v-0.7m0 3.7v0.7m1 -3.7v-0.9m1 3.9v0.8m1 -0.8v0.8m2 -3.8v-0.7m3 0.7v-0.7m1 3.7v0.4m3 -3.4v-0.4m1 3.4v0.6m1 -3.6v-0.6m3 3.6v0.4m1 -0.4v1m1 -4v-0.3m2 3.3v0.6m3 -3.6v-0.7m1 0.7v-0.6m1 3.6v0.9m2 -0.9v0.8m3 -3.8v-0.9m12 0.9v-0.4m1 0.4v-0.8m3 0.8v-0.6m0 3.6v0.4m1 -0.4v0.8m7 -0.8v1m5 -1v0.3m1 -0.3v1m2 -4v-0.6m1 0.6v-0.3m7 3.3v0.6m3 -0.6v1m1 -4v-1m0 4v0.7m3 -0.7v0.5m5 -3.5v-0.6m2 3.6v0.8m2 -0.8v0.5m3 -3.5v-0.9m2 3.9v0.5m4 -3.5v-0.6m1 0.6v-1m0 4v0.8m3 -3.8v-0.8m1 0.8v-1.1m0 4.1v0.5m3 -3.5v-0.8m4 0.8v-0.6m2 3.6v0.8m1 -0.8v0.6m9 -3.6v-0.7" fill="none" stroke="#008000" stroke-width="0.9"/>
<path d="M138.5 198.94l5 -0.09l5 -0.06l5 0.05l5 0.09l5 -0.05l5 0.03l5 -0.06l5 0.01l5 -0.12l5 0.17l5 -0.05l5 0.01l5 -0.09l5 0.11l5 -0.05l5 -0.05l5 0.16l5 -0.05l5 -0.03l5 0.04l5 -0.03l5 -0.08l5 0.14l5 -0.01l5 -0.06l5 -0.06l5 0.02l5 -0.11l5 0.2l5 -0.01l5 -0.06l5 -0.03l5 0.08l5 -0.18l5 0.09l5 -0.04l5 0.09l5 -0.07l5 0.07l5 0.07l5 -0.12l5 -0.07l5 -0.03l5 0.2l5 -0.09l5 0l5 -0.1l5 0.01l5 -0.02l5 0.21l5 -0.2l5 0.07l5 0.03l5 0.03l5 -0.09l5 0.1l5 0l5 0.09l5 -0.22l5 0.05l5 -0.05l5 0.05l5 -0.02l5 -0.04l5 0.18l5 -0.12l5 0.11l5 0.02l5 -0.01l5 -0.18l5 0.13l5 0.06l5 -0.05l5 -0.01l5 -0.04l5 0.1l5 -0.07l5 -0.05l5 0.04l5 -0.01l5 -0.07l5 0.12l5 0.04l5 -0.04l5 -0.16l5 0.1l5 0.08l5 -0.15l5 0.09l5 0.04l5 -0.03l5 -0.05l5 -0.08l5 0.17l5 -0.13l5 0.1l5 -0.01l5 0.04l5 -0.14l5 0.2l5 -0.05l5 0.03l5 -0.17l5 0.13l5 -0.08l5 0.08l5 0l5 -0.07l5 0.13l5 -0.12l5 0l5 0.06l5 -0.13l5 0.17l5 -0.13l5 0.13l5 -0.18l5 0l5 0.11l5 -0.08l5 0.05l5 -0.06l5 0.12l5 0.01l5 -0.02l5 -0.13l5 -0.02l5 0.13l5 -0.12l5 0.15l5 -0.04l5 0.09l5 -0.02l5 -0.04l5 0.04l5 -0.08l5 -0.05l5 -0.06l5 0.16l5 -0.01l5 -0.01l5 -0.03l5 -0.01l5 0.11l5 -0.13l5 -0.06l5 0.2l5 -0.05l5 0.04l5 0.02l5 -0.14l5 -0.06l5 0.08l5 0l5 -0.03l5 0.1l5 -0.13l5 0.17l5 -0.18l5 0.02l5 0.13l5 -0.14l5 0.11l5 -0.1l5 0.03l5 0.01l5 -0.05l5 0.14l5 0.03l5 -0.01l5 -0.18l5 -0.03l5 0.1l5 0.07l4 -0.05" fill="none" stroke="#000000" stroke-width="4.02"/>
<path d="M141 200.5v0.6m2 -4v-0.7m1 4.1v0.6m11 -4v-0.6m1 0.6v-0.9m2 0.9v-0.4m1 0.4v-1m10 4.4v0.8m5 -4.2v-1m3 1v-0.4m4 0.4v-0.8m2 0.8v-1.1m9 1.1v-0.5m1 0.5v-0.5m1 0.5v-0.8m3 0.8v-1m3 1v-0.6m3 0.6v-0.4m4 0.4v-0.9m0 4.3v0.9m3 -4.3v-0.9m2 4.3v0.9m1 -0.9v1m1 -4.4v-0.5m0 3.9v0.7m1 -0.7v1m3 -4.4v-0.5m3 0.5v-0.6m2 0.6v-0.7m2 4.1v0.9m2 -4.3v-0.8m1 0.8v-0.9m7 0.9v-0.4m1 0.4v-0.7m3 0.7v-1m3 1v-0.7m3 4.1v0.6m2 -0.6v0.9m1 -4.3v-1m1 1v-0.7m2 0.7v-0.4m3 0.4v-0.7m6 0.7v-0.9m1 4.3v0.8m2 -0.8v0.3m2 -3.7v-0.5m2 3.9v1m1 -4.4v-0.8m8 4.2v0.5m4 -3.9v-0.4m6 0.4v-0.4m1 0.4v-0.8m2 4.2v0.3m1 -0.3v0.7m1 -4.1v-0.7m6 4.1v0.5m3 -3.9v-0.6m1 0.6v-0.7m8 4.1v0.7m1 -4.1v-0.5m6 3.9v0.5m1 -3.9v-0.5m0 3.9v0.6m1 -0.6v0.9m3 -0.9v0.7m3 -4.1v-1.1m0 4.5v0.5m1 -0.5v0.6m3 -0.6v0.5m1 -3.9v-0.5m1 3.9v0.5m2 -0.5v0.3m2 -3.7v-0.7m1 0.7v-0.5m12 0.5v-0.6m3 0.6v-0.8m1 0.8v-0.5m0 3.9v0.7m3 -4.1v-0.3m3 0.3v-0.8m1 4.2v0.5m3 -0.5v0.5m2 -3.9v-0.5m1 3.9v1m2 -4.4v-0.8m3 0.8v-0.5m2 0.5v-1m2 4.4v0.8m11 -0.8v0.5m1 -3.9v-0.4m4 3.8v0.5m5 -0.5v0.7m3 -0.7v0.5m4 -3.9v-0.9m4 0.9v-1.1m2 1.1v-0.8m0 4.2v0.9m4 -0.9v0.9m12 -4.3v-0.9m1 4.3v0.7m9 -4.1v-0.5m7 3.9v0.6m5 -0.6v0.7m1 -0.7v0.7m1 -4.1v-0.8m3 0.8v-0.5m1 3.9v1.1m6 -4.5v-0.7m1 0.7v-0.7m4 0.7v-0.8m5 4.2v0.9m3 -0.9v0.9m1 -4.3v-0.8m0 4.2v0.9m1 -4.3v-0.4m7 0.4v-1m2 4.4v1.1m3 -1.1v0.6m5 -4v-0.9m0 4.3v0.7m1 -0.7v0.8m3 -0.8v0.5m5 -3.9v-0.4m1 3.8v0.3m1 -0.3v0.3m1 -3.7v-0.4m4 0.4v-0.8m0 4.2v1m2 -4.4v-0.7m6 0.7v-0.9m4 0.9v-0.4m1 0.4v-0.6m1 0.6v-1m3 1v-0.7m2 4.1v0.6m1 -0.6v0.9m1 -4.3v-0.8m1 0.8v-1.1m3 1.1v-0.6m6 0.6v-0.9m1 4.3v1m1 -1v0.4m5 -3.8v-1m4 4.4v0.5m2 -0.5v0.8m1 -4.2v-0.5m0 3.9v0.7m3 -0.7v1m2 -4.4v-1m1 4.4v0.7m3 -0.7v0.9m6 -4.3v-0.9m2 0.9v-1m2 1v-0.6m1 0.6v-0.6m0 4v0.4m2 -3.8v-1m1 1v-0.4m2 0.4v-0.6m1 0.6v-0.7m1 4.1v0.8m1 -4.2v-0.4m0 3.8v0.7m1 -4.1v-0.5m0 3.9v1m1 -4.4v-0.8m3 4.2v0.9m1 -4.3v-0.7m0 4.1v0.7m2 -0.7v0.7m5 -0.7v0.5m3 -0.5v0.8m1 -4.2v-0.7m3 0.7v-1m4 1v-0.3m4 0.3v-0.5m3 0.5v-0.6m0 4v1m1 -4.4v-0.6m1 0.6v-0.5m6 3.9v1m10 -1v0.7m2 -4.1v-0.5m1 3.9v0.9m1 -4.3v-0.6m1 0.6v-0.8m1 4.2v0.8m3 -4.2v-1.1m2 1.1v-0.9m3 0.9v-0.8m0 4.2v0.5m1 -3.9v-0.4m4 3.8v1m2 -4.4v-0.4m3 0.4v-0.9m1 4.3v1m3 -1v1.1m1 -1.1v1m2 -4.4v-0.5m1 0.5v-0.5m0 3.9v0.8m1 -4.2v-0.9m2 4.3v0.6m6 -0.6v0.4m4 -0.4v0.6m5 -0.6v0.4m5 -0.4v0.5m1 -3.9v-0.4m4 0.4v-0.8m0 4.2v0.4m2 -3.8v-0.3m2 0.3v-0.3m3 3.7v0.4m2 -3.8v-0.5m3 0.5v-0.6m1 0.6v-0.7m8 0.7v-0.4m1 0.4v-1.1m12 1.1v-0.9m2 0.9v-0.7m2 4.1v0.3m1 -0.3v0.5m4 -0.5v0.6m1 -4v-1.1m1 4.5v1m3 -4.4v-0.7m2 4.1v0.7m2 -0.7v0.4m3 -0.4v1m4 -1v0.8m4 -0.8v1m11 -1v0.4m3 -3.8v-0.6m1 0.6v-0.7m3 0.7v-0.3m2 0.3v-0.9m1 4.3v0.7m2 -0.7v1m3 -1v0.7m1 -4.1v-0.3m0 3.7v0.6m1 -0.6v0.4m4 -0.4v0.4m2 -0.4v0.8m3 -0.8v0.9m2 -0.9v0.5m4 -0.5v0.3m1 -3.7v-0.3m1 0.3v-0.7m3 4.1v0.4m1 -3.8v-0.5m1 0.5v-0.8m0 4.2v0.7m4 -4.1v-0.9m1 4.3v0.4m9 -0.4v0.3m4 -0.3v0.5m7 -0.5v0.7m11 -0.7v0.4m1 -3.8v-0.8m1 4.2v0.8m8 -4.2v-0.5m0 3.9v0.5m3 -3.9v-0.6m0 4v0.5m2 -3.9v-0.5m3 3.9v0.8m2 -4.2v-0.3m1 0.3v-0.6m8 4v0.6m5 -4v-0.3m0 3.7v0.6m4 -0.6v0.7m2 -0.7v0.7m1 -0.7v0.4m1 -0.4v0.9m2 -4.3v-0.9m1 0.9v-0.4m1 3.8v0.4m1 -0.4v0.6m1 -4v-0.4m2 0.4v-0.6m0 4v0.7m1 -4.1v-0.6m4 0.6v-1m2 4.4v0.5m3 -3.9v-0.6m1 0.6v-0.8m4 0.8v-1m1 4.4v0.9m1 -4.3v-0.4m0 3.8v0.6m5 -4v-0.5m3 0.5v-0.5m7 3.9v0.7m1 -4.1v-0.7m1 0.7v-0.4m2 0.4v-0.6m1 0.6v-0.8m2 0.8v-0.7m5 4.1v1m2 -1v0.7m1 -4.1v-0.3m2 0.3v-1m6 1v-0.4m8 0.4v-0.8m3 0.8v-0.9m1 0.9v-0.7m0 4.1v1.1m1 -4.5v-0.8m1 0.8v-1m2 1v-0.6m0 4v0.5m2 -0.5v0.5m3 -3.9v-0.6m3 4v1.1m6 -1.1v0.8m1 -4.2v-1.1m2 4.5v0.7m1 -4.1v-0.7m4 0.7v-0.7m1 4.1v0.6m1 -0.6v0.6m3 -4v-0.7m1 0.7v-0.7m2 4.1v0.3m6 -0.3v0.9m5 -0.9v0.8m2 -4.2v-0.5m1 0.5v-1m8 4.4v0.7m3 -0.7v0.8" fill="none" stroke="#000000" stroke-width="0.9"/>
<path d="M138.5 230.33l5 0.16l5 -0.09l5 -0.12l5 0.05l5 -0.05l5 0.09l5 0.01l5 -0.05l5 0.09l5 -0.06l5 0.09l5 -0.03l5 -0.1l5 0.13l5 -0.19l5 0.05l5 -0.05l5 0.22l5 -0.1l5 0.08l5 0.03l5 -0.21l5 0.19l5 -0.21l5 0.16l5 0.03l5 -0.1l5 0.12l5 -0.03l5 -0.07l5 -0.05l5 -0.03l5 -0.02l5 0.11l5 0l5 -0.08l5 0.08l5 -0.11l5 0.06l5 0.09l5 -0.13l5 0.09l5 -0.09l5 0.18l5 -0.16l5 0.17l5 0l5 0.01l5 -0.17l5 0.1l5 -0.15l5 0.22l5 -0.07l5 -0.16l5 0.03l5 -0.01l5 0.06l5 0.14l5 -0.04l5 -0.11l5 0.12l5 -0.19l5 0.13l5 -0.04l5 -0.08l5 0.21l5 -0.07l5 0.08l5 -0.08l5 -0.01l5 -0.11l5 0.08l5 0.1l5 -0.08l5 0.02l5 -0.04l5 -0.03l5 -0.08l5 0.05l5 -0.01l5 -0.02l5 -0.01l5 0.17l5 0.05l5 -0.07l5 0.03l5 -0.14l5 0.15l5 -0.11l5 0.11l5 -0.15l5 0.02l5 0.05l5 -0.07l5 0.01l5 0.11l5 0.01l5 0.05l5 -0.08l5 -0.07l5 0.03l5 0.03l5 0l5 0.08l5 -0.09l5 0.1l5 -0.12l5 -0.01l5 -0.1l5 0.07l5 0.04l5 -0.11l5 0.1l5 -0.08l5 0.04l5 0.15l5 0l5 -0.19l5 0.12l5 -0.03l5 -0.1l5 0.06l5 0.05l5 -0.02l5 0.03l5 -0.12l5 0.13l5 0l5 -0.1l5 0.09l5 0.09l5 -0.01l5 -0.07l5 -0.02l5 0.05l5 -0.07l5 0.06l5 -0.08l5 0.05l5 0.04l5 -0.03l5 0l5 -0.05l5 -0.01l5 0.07l5 -0.05l5 0l5 -0.01l5 -0.03l5 0.09l5 0.06l5 -0.17l5 0.11l5 -0.03l5 0.03l5 0l5 -0.06l5 -0.09l5 0.08l5 0.04l5 0.03l5 0.07l5 -0.07l5 0l5 -0.07l5 0.11l5 -0.16l5 0.18l5 -0.1l5 -0.01l5 0.06l5 -0.03l5 0.1l5 -0.21l4 -0.01" fill="none" stroke="#ff0000" stroke-width="3.6"/>
<path d="M143 231.9v1.1m2 -4.1v-1.1m1 1.1v-1m2 4v0.8m7 -3.8v-0.5m1 3.5v0.7m1 -0.7v0.9m2 -3.9v-1m1 1v-0.4m1 0.4v-0.6m2 3.6v0.4m2 -3.4v-0.4m5 3.4v0.6m1 -0.6v1.1m2 -4.1v-0.5m1 3.5v1m1 -4v-0.4m1 0.4v-1m1 4v0.7m1 -0.7v0.9m1 -3.9v-0.6m0 3.6v0.4m9 -0.4v0.5m4 -3.5v-0.7m6 3.7v0.9m2 -3.9v-0.8m1 0.8v-1m1 1v-0.7m1 3.7v0.5m3 -0.5v0.6m2 -3.6v-0.8m0 3.8v1.1m4 -4.1v-0.6m0 3.6v0.9m3 -3.9v-0.9m1 0.9v-0.6m0 3.6v0.9m1 -3.9v-1m0 4v1m1 -4v-0.7m2 0.7v-0.9m1 0.9v-0.7m1 0.7v-0.9m3 0.9v-0.9m1 0.9v-0.4m1 0.4v-1m0 4v1m1 -4v-0.8m9 3.8v1m1 -1v0.4m1 -3.4v-0.5m3 0.5v-0.5m5 3.5v1m2 -4v-0.5m7 0.5v-0.7m3 0.7v-0.6m0 3.6v0.9m2 -0.9v0.8m4 -3.8v-0.3m9 0.3v-0.7m0 3.7v0.7m2 -0.7v1m2 -4v-0.8m2 3.8v0.8m3 -3.8v-0.5m4 3.5v0.8m6 -0.8v0.4m1 -3.4v-0.9m1 0.9v-0.4m1 0.4v-0.9m2 0.9v-0.9m1 0.9v-1.1m3 1.1v-1m1 1v-0.7m0 3.7v0.6m2 -3.6v-0.5m1 3.5v0.8m1 -0.8v0.8m1 -3.8v-0.4m1 3.4v0.9m1 -3.9v-0.3m0 3.3v0.3m2 -3.3v-0.4m0 3.4v0.6m1 -0.6v1m1 -4v-0.8m0 3.8v0.8m1 -3.8v-0.5m3 3.5v0.8m3 -3.8v-0.7m4 0.7v-1.1m1 1.1v-0.4m0 3.4v1m1 -4v-0.8m7 3.8v0.4m1 -3.4v-0.8m2 0.8v-0.5m3 3.5v0.7m1 -3.7v-0.5m0 3.5v0.6m1 -3.6v-1m1 4v0.6m5 -3.6v-0.5m1 0.5v-0.4m3 3.4v0.6m10 -3.6v-0.6m0 3.6v1m4 -4v-1m3 1v-0.8m2 3.8v0.5m2 -3.5v-0.8m1 0.8v-0.4m1 3.4v0.6m3 -3.6v-0.7m7 3.7v0.7m8 -3.7v-0.7m0 3.7v0.5m2 -3.5v-0.4m1 3.4v0.9m1 -3.9v-0.7m1 3.7v0.7m1 -0.7v0.5m1 -3.5v-1m2 1v-0.7m1 3.7v0.3m1 -3.3v-1.1m1 4.1v0.8m1 -3.8v-1m4 1v-0.9m4 0.9v-0.5m3 3.5v0.5m4 -3.5v-0.6m1 0.6v-1m0 4v0.9m2 -0.9v0.9m4 -0.9v0.8m1 -0.8v0.4m1 -0.4v0.7m3 -3.7v-0.8m4 0.8v-0.5m2 0.5v-0.9m1 3.9v1m1 -4v-0.5m4 0.5v-0.5m0 3.5v0.4m1 -3.4v-0.6m0 3.6v0.5m3 -3.5v-0.9m1 0.9v-1m1 1v-1.1m2 1.1v-0.9m1 0.9v-0.3m3 0.3v-0.9m3 0.9v-0.5m2 0.5v-0.9m0 3.9v0.5m1 -0.5v0.6m2 -0.6v0.9m1 -0.9v0.6m14 -3.6v-0.6m1 3.6v0.5m2 -0.5v0.7m3 -0.7v0.4m2 -3.4v-0.5m3 0.5v-0.9m2 3.9v0.6m1 -3.6v-0.5m1 3.5v1m1 -4v-0.6m1 0.6v-0.5m7 3.5v0.5m5 -3.5v-1m5 1v-0.5m1 3.5v0.4m3 -3.4v-0.9m9 3.9v0.4m2 -3.4v-0.8m0 3.8v0.5m3 -0.5v1m2 -1v0.6m3 -0.6v1.1m6 -4.1v-0.4m3 3.4v0.8m5 -0.8v0.5m5 -3.5v-0.9m3 3.9v0.8m1 -3.8v-0.7m1 0.7v-0.6m1 0.6v-0.5m1 0.5v-0.4m2 0.4v-0.8m1 0.8v-0.5m1 0.5v-1.1m2 1.1v-0.4m3 3.4v0.6m2 -3.6v-0.5m3 0.5v-0.4m2 0.4v-0.9m0 3.9v0.8m6 -0.8v0.7m1 -3.7v-0.4m4 0.4v-1.1m3 4.1v0.4m1 -3.4v-0.4m1 0.4v-0.7m1 3.7v0.9m5 -0.9v0.7m5 -3.7v-0.6m1 3.6v0.7m7 -0.7v1m5 -1v0.4m2 -0.4v1m1 -4v-1m5 4v0.9m6 -0.9v0.3m4 -3.3v-0.7m1 0.7v-1m4 4v1.1m4 -4.1v-0.8m4 3.8v0.8m1 -3.8v-0.9m4 0.9v-0.7m2 3.7v0.6m1 -3.6v-0.3m1 0.3v-0.5m2 0.5v-0.9m1 0.9v-1m3 1v-0.8m2 0.8v-0.9m1 0.9v-0.7m0 3.7v0.7m1 -3.7v-1.1m2 4.1v0.5m3 -0.5v0.7m1 -3.7v-0.4m2 0.4v-0.7m2 0.7v-0.3m0 3.3v0.9m1 -0.9v0.6m3 -3.6v-0.3m5 0.3v-0.6m0 3.6v0.8m1 -0.8v0.4m5 -3.4v-1m0 4v0.5m1 -3.5v-0.8m1 0.8v-0.7m1 3.7v0.9m2 -3.9v-1m2 1v-0.6m0 3.6v0.4m1 -0.4v0.6m1 -3.6v-0.9m1 0.9v-0.6m5 0.6v-0.6m3 3.6v1m1 -1v0.3m1 -0.3v0.9m3 -3.9v-0.6m1 0.6v-1m4 4v0.5m9 -0.5v0.5m2 -3.5v-0.9m0 3.9v0.6m6 -3.6v-0.5m5 0.5v-1.1m1 4.1v0.9m2 -0.9v0.5m5 -3.5v-0.8m3 0.8v-0.9m1 0.9v-0.5m2 3.5v0.5m8 -3.5v-0.6m1 0.6v-0.5m3 3.5v0.4m3 -0.4v0.4m2 -3.4v-0.7m0 3.7v0.5m3 -0.5v0.5m1 -3.5v-0.3m0 3.3v0.7m2 -0.7v0.4m5 -3.4v-0.3m3 3.3v0.3m4 -3.3v-0.7m2 3.7v1m2 -4v-0.8m0 3.8v0.7m1 -3.7v-0.6m7 3.6v0.7m2 -3.7v-0.5m2 0.5v-0.4m1 3.4v0.6m2 -3.6v-0.4m4 3.4v0.9m4 -3.9v-1m1 1v-0.4m1 0.4v-0.7m5 0.7v-0.7m6 3.7v0.8m1 -3.8v-0.7m0 3.7v0.7m1 -3.7v-1m0 4v0.9m2 -0.9v0.8m4 -0.8v0.5m1 -0.5v0.6m4 -0.6v0.5m1 -3.5v-1m6 4v0.6m6 -0.6v0.8m1 -0.8v0.6m2 -3.6v-0.4m1 0.4v-0.9m6 3.9v0.6m1 -3.6v-1m0 4v1m1 -1v0.9m1 -3.9v-0.6m11 3.6v1m3 -4v-1m1 1v-0.7m1 3.7v0.9m3 -0.9v0.5m3 -3.5v-1m0 4v0.5m2 -3.5v-0.6m0 3.6v0.6m1 -0.6v0.9m1 -3.9v-0.5m7 3.5v0.8m3 -3.8v-0.7m9 0.7v-0.9m4 3.9v1m4 -4v-0.6m2 3.6v0.9m1 -0.9v0.7m1 -3.7v-0.7m0 3.7v0.7m1 -3.7v-1.1m2 4.1v1m1 -1v0.6m4 -0.6v0.6m2 -3.6v-0.8m0 3.8v0.4m7 -3.4v-1m0 4v0.8m1 -3.8v-0.9m1 0.9v-1m5 4v0.5m2 -3.5v-0.4m1 3.4v1m3 -4v-0.3m0 3.3v0.7m2 -3.7v-0.4m0 3.4v0.6m2 -3.6v-0.8m0 3.8v0.5m5 -0.5v0.8m4 -3.8v-0.7m2 0.7v-1.1m0 4.1v0.9m3 -3.9v-0.8m0 3.8v0.6m1 -3.6v-0.5m0 3.5v0.7m1 -3.7v-0.5m4 3.5v1.1m2 -1.1v0.5m1 -0.5v1m2 -4v-0.7m2 0.7v-0.9m5 3.9v0.3m1 -0.3v0.8m1 -3.8v-0.9m0 3.9v0.9m5 -3.9v-0.5m1 3.5v1m2 -1v0.8m1 -0.8v0.6m1 -3.6v-1m4 1v-0.8" fill="none" stroke="#ff0000" stroke-width="0.9"/>
<path d="M138.5 261.88l5 -0.05l5 0.11l5 -0.1l5 0.01l5 0.04l5 0.15l5 -0.07l5 -0.12l5 0.15l5 0.03l5 -0.15l5 0.11l5 -0.04l5 -0.02l5 0.09l5 -0.06l5 0l5 0.06l5 -0.11l5 -0.08l5 -0.03l5 0.17l5 -0.06l5 0.1l5 0.02l5 -0.17l5 -0.01l5 0.09l5 -0.13l5 0.01l5 0l5 0.05l5 0.04l5 -0.06l5 0.12l5 0.01l5 0.02l5 -0.07l5 0.05l5 0.01l5 -0.02l5 -0.09l5 0.06l5 0.06l5 -0.14l5 0.03l5 -0.09l5 0.14l5 -0.11l5 0.08l5 -0.07l5 -0.01l5 0.18l5 -0.13l5 0.15l5 -0.05l5 -0.04l5 -0.02l5 0.04l5 0.03l5 -0.14l5 0.08l5 -0.07l5 -0.02l5 0.01l5 0.14l5 0.03l5 -0.12l5 -0.06l5 0l5 0.03l5 0.02l5 0.12l5 -0.08l5 -0.01l5 0.03l5 -0.11l5 0.05l5 0.02l5 -0.09l5 0.05l5 0.07l5 0l5 -0.08l5 -0.04l5 0.12l5 -0.1l5 -0.04l5 0.23l5 -0.05l5 0.04l5 -0.14l5 0.1l5 0.02l5 -0.05l5 -0.14l5 0.06l5 0.02l5 0.02l5 0.03l5 -0.1l5 0.01l5 -0.04l5 0.09l5 -0.07l5 0.03l5 -0.06l5 0.2l5 -0.15l5 0.07l5 0.02l5 -0.13l5 0.12l5 0.06l5 -0.13l5 0.09l5 0.02l5 -0.04l5 -0.04l5 0.03l5 0.04l5 -0.06l5 0.08l5 0l5 0l5 -0.08l5 -0.06l5 0l5 0.03l5 0.06l5 -0.12l5 0.06l5 -0.03l5 0.09l5 -0.08l5 0.15l5 -0.18l5 0.07l5 0.09l5 0.02l5 -0.11l5 0.14l5 -0.02l5 -0.07l5 -0.06l5 -0.03l5 0.12l5 -0.16l5 0.15l5 -0.1l5 -0.02l5 0.11l5 -0.06l5 -0.08l5 0.03l5 0.15l5 -0.1l5 0.1l5 -0.04l5 -0.15l5 0.08l5 0.06l5 -0.08l5 -0.03l5 0.21l5 -0.16l5 0.08l5 -0.05l5 0.13l5 -0.19l5 -0.04l5 0.15l5 0.01l5 0.03l4 -0.17" fill="none" stroke="#0000ff" stroke-width="3.6"/>
<path d="M139 260.4v-0.7m1 0.7v-0.4m0 3.4v0.6m1 -3.6v-0.3m0 3.3v0.9m2 -0.9v0.6m1 -0.6v0.4m2 -3.4v-1m8 4v1m3 -4v-0.4m1 0.4v-0.6m0 3.6v0.5m4 -3.5v-0.7m2 0.7v-0.7m5 0.7v-0.6m0 3.6v0.9m1 -0.9v0.8m6 -3.8v-1.1m3 4.1v0.4m3 -0.4v0.9m5 -0.9v0.6m1 -0.6v0.7m2 -3.7v-0.8m6 3.8v1m4 -4v-1m6 4v0.4m3 -3.4v-0.4m2 3.4v1m1 -1v0.7m2 -0.7v0.9m6 -3.9v-0.9m18 3.9v0.9m6 -3.9v-0.3m1 0.3v-0.7m2 0.7v-0.4m3 3.4v0.8m2 -3.8v-0.6m10 3.6v0.4m2 -0.4v0.9m4 -3.9v-0.6m4 0.6v-0.9m6 0.9v-0.9m0 3.9v1m1 -4v-1m3 4v0.4m1 -3.4v-0.8m4 0.8v-1.1m4 1.1v-1m0 4v1m7 -4v-0.4m0 3.4v0.7m1 -0.7v1m6 -4v-0.9m0 3.9v0.5m1 -3.5v-1m2 1v-0.7m1 3.7v1.1m2 -4.1v-0.9m1 0.9v-0.7m0 3.7v0.3m2 -0.3v0.5m3 -3.5v-0.5m1 3.5v0.6m4 -3.6v-0.7m0 3.7v0.5m1 -0.5v1.1m1 -4.1v-0.3m0 3.3v1m5 -1v0.8m1 -0.8v0.6m4 -3.6v-1m7 1v-0.7m0 3.7v0.8m5 -0.8v0.8m3 -3.8v-0.7m3 3.7v0.7m1 -0.7v0.6m2 -3.6v-1.1m1 4.1v0.9m8 -0.9v0.6m1 -3.6v-0.8m6 0.8v-0.8m0 3.8v1.1m4 -1.1v0.8m1 -0.8v0.3m3 -3.3v-1m3 4v0.5m1 -3.5v-1m5 4v0.8m3 -3.8v-0.4m0 3.4v0.9m1 -3.9v-0.5m1 0.5v-0.8m5 0.8v-0.5m1 0.5v-0.4m1 0.4v-0.7m4 3.7v0.9m1 -3.9v-0.9m12 0.9v-0.9m0 3.9v0.4m1 -0.4v0.6m3 -0.6v1m1 -1v0.8m3 -0.8v1.1m3 -1.1v0.7m10 -0.7v0.6m1 -3.6v-0.9m2 0.9v-0.9m1 0.9v-1.1m3 4.1v0.6m2 -3.6v-0.5m3 3.5v0.6m2 -0.6v0.8m1 -3.8v-0.5m0 3.5v0.7m1 -3.7v-0.8m2 3.8v0.4m2 -0.4v0.4m5 -3.4v-0.6m0 3.6v0.7m3 -3.7v-0.4m0 3.4v0.6m3 -3.6v-0.7m3 3.7v0.9m4 -0.9v0.9m1 -3.9v-1m0 4v0.8m4 -3.8v-0.5m3 3.5v0.9m2 -3.9v-0.6m0 3.6v1m2 -4v-0.7m4 3.7v0.3m2 -0.3v0.5m1 -0.5v0.6m4 -3.6v-0.9m2 3.9v0.9m6 -0.9v0.9m1 -3.9v-1m0 4v0.4m5 -0.4v0.9m9 -3.9v-0.6m3 3.6v0.7m1 -3.7v-0.6m0 3.6v0.6m8 -0.6v1.1m1 -4.1v-0.5m1 3.5v1.1m1 -1.1v0.7m7 -0.7v0.5m5 -0.5v0.5m4 -0.5v1m1 -1v0.7m1 -0.7v0.6m4 -0.6v0.8m2 -3.8v-0.9m0 3.9v1.1m2 -4.1v-1.1m6 1.1v-0.7m2 3.7v0.5m2 -0.5v0.5m5 -0.5v0.8m1 -0.8v0.5m1 -0.5v0.4m2 -3.4v-0.5m0 3.5v0.7m1 -0.7v0.8m3 -3.8v-1.1m1 1.1v-0.3m3 3.3v0.7m3 -0.7v0.5m4 -3.5v-0.6m0 3.6v1m3 -1v0.7m6 -3.7v-0.7m1 3.7v0.6m3 -0.6v0.4m1 -3.4v-0.5m8 0.5v-0.6m3 0.6v-1m1 4v0.6m2 -0.6v1.1m1 -1.1v0.7m2 -3.7v-1m1 4v0.9m1 -3.9v-0.5m0 3.5v0.6m7 -3.6v-0.8m0 3.8v1m3 -4v-0.7m1 0.7v-0.4m2 3.4v0.8m6 -0.8v0.7m1 -3.7v-1m1 1v-0.5m3 3.5v0.4m1 -0.4v0.5m1 -3.5v-0.6m4 0.6v-0.6m0 3.6v0.8m2 -3.8v-1.1m1 1.1v-0.6m1 0.6v-0.9m1 0.9v-1.1m0 4.1v1m2 -1v0.5m2 -3.5v-0.5m0 3.5v0.9m4 -3.9v-0.9m1 0.9v-0.6m5 3.6v0.7m1 -0.7v0.9m1 -3.9v-0.4m0 3.4v0.9m3 -0.9v0.5m8 -3.5v-0.7m1 0.7v-0.8m2 3.8v0.7m1 -0.7v0.5m5 -0.5v1.1m3 -4.1v-1m1 4v0.5m1 -0.5v0.7m6 -0.7v1m1 -4v-0.7m1 3.7v0.5m2 -3.5v-0.7m1 0.7v-0.4m3 0.4v-0.7m0 3.7v0.3m5 -3.3v-0.9m2 0.9v-1m2 4v1m1 -1v0.7m3 -3.7v-0.6m0 3.6v1.1m8 -1.1v0.7m10 -0.7v0.9m4 -3.9v-0.5m1 0.5v-1m1 4v0.5m1 -0.5v0.5m5 -3.5v-0.8m12 3.8v0.9m1 -0.9v0.3m3 -3.3v-0.7m0 3.7v1m2 -1v0.9m2 -3.9v-0.5m7 3.5v0.7m2 -0.7v1m5 -1v0.5m4 -0.5v0.6m2 -3.6v-0.9m1 3.9v0.7m1 -3.7v-0.9m8 0.9v-0.6m3 0.6v-0.9m6 0.9v-1m3 4v0.7m3 -3.7v-0.7m8 0.7v-0.5m1 3.5v0.6m2 -0.6v0.5m1 -3.5v-0.5m0 3.5v1m7 -4v-0.5m6 3.5v0.5m1 -0.5v0.7m3 -3.7v-1m3 4v0.5m1 -3.5v-0.4m4 3.4v0.5m2 -0.5v0.8m3 -0.8v0.5m3 -3.5v-0.6m0 3.6v0.9m1 -3.9v-0.8m3 3.8v0.7m1 -0.7v0.3m6 -0.3v0.6m3 -0.6v0.7m1 -0.7v0.4m4 -0.4v0.6m3 -3.6v-0.9m2 0.9v-1m1 1v-1m6 4v0.7m8 -0.7v0.8m8 -0.8v0.4m1 -3.4v-0.4m3 3.4v1.1m1 -4.1v-0.4m6 0.4v-0.5m0 3.5v0.3m2 -3.3v-0.4m4 0.4v-1.1m2 1.1v-0.3m1 0.3v-0.5m4 0.5v-0.8m2 3.8v0.5m1 -3.5v-0.4m4 0.4v-0.5m2 3.5v0.9m5 -0.9v0.5m1 -3.5v-0.6m0 3.6v0.5m1 -3.5v-0.7m3 0.7v-0.3m1 0.3v-0.6m8 0.6v-0.4m5 3.4v0.6m3 -0.6v0.5m6 -0.5v1.1m3 -1.1v0.6m1 -3.6v-1m2 1v-0.5m2 0.5v-0.4m4 3.4v0.3m5 -3.3v-0.6m2 0.6v-0.9m1 3.9v1m2 -4v-0.6m1 3.6v0.6m2 -0.6v0.5m1 -3.5v-0.7" fill="none" stroke="#0000ff" stroke-width="0.9"/>
<path d="M138.5 293.53l5 -0.01l5 -0.14l5 0.2l5 -0.23l5 0.04l5 0.11l5 0l5 -0.06l5 0.07l5 -0.06l5 -0.03l5 0l5 0.03l5 -0.08l5 0.15l5 -0.13l5 0.09l5 0.09l5 -0.03l5 0l5 -0.15l5 0.15l5 -0.19l5 0.05l5 0.01l5 0.1l5 0.07l5 -0.18l5 0.06l5 -0.05l5 0.11l5 -0.17l5 0.21l5 -0.14l5 -0.03l5 0.15l5 -0.02l5 0.01l5 0.03l5 -0.11l5 0l5 0.09l5 -0.08l5 -0.06l5 0.09l5 -0.04l5 0.08l5 0.02l5 -0.01l5 -0.18l5 0.12l5 -0.03l5 -0.09l5 0.05l5 -0.06l5 0.16l5 -0.11l5 -0.01l5 0.16l5 -0.14l5 0.1l5 -0.01l5 0l5 -0.14l5 0.04l5 0.14l5 -0.1l5 -0.02l5 0.04l5 -0.11l5 0.17l5 0.01l5 0.05l5 -0.16l5 0.09l5 0.06l5 -0.02l5 -0.09l5 0.11l5 -0.09l5 0l5 0l5 -0.09l5 0.05l5 0.03l5 0.06l5 -0.05l5 -0.05l5 0.15l5 -0.22l5 0.03l5 0.04l5 0.15l5 -0.12l5 -0.02l5 0.1l5 -0.14l5 0.14l5 -0.18l5 0.13l5 0.08l5 -0.08l5 -0.09l5 0l5 0.14l5 -0.13l5 0.16l5 -0.12l5 -0.08l5 0.15l5 0l5 -0.01l5 -0.16l5 0.08l5 0.03l5 0.1l5 -0.19l5 0.08l5 -0.02l5 0.07l5 -0.05l5 -0.03l5 0.04l5 0.02l5 -0.13l5 0.07l5 -0.01l5 0l5 0.02l5 -0.02l5 0.02l5 0.08l5 -0.11l5 0.17l5 -0.21l5 0.06l5 0.1l5 -0.02l5 -0.08l5 -0.01l5 0.11l5 -0.08l5 0.1l5 0.02l5 -0.18l5 0.13l5 -0.11l5 0.08l5 0.08l5 -0.06l5 0.06l5 -0.13l5 -0.02l5 0.07l5 -0.05l5 0.04l5 -0.06l5 -0.02l5 0.1l5 -0.12l5 0.03l5 -0.03l5 0.14l5 -0.13l5 0.03l5 0.14l5 -0.08l5 -0.01l5 -0.04l5 0.05l5 0.06l5 -0.1l5 -0.05l5 0.01l4 0.12" fill="none" stroke="#008000" stroke-width="3.6"/>
<path d="M144 295v1.1m2 -4.1v-0.4m0 3.4v0.4m4 -3.4v-0.5m2 0.5v-0.5m0 3.5v0.8m5 -3.8v-1m9 1v-0.6m1 3.6v0.8m2 -3.8v-0.4m0 3.4v0.7m1 -3.7v-0.5m2 0.5v-0.7m1 0.7v-1m2 1v-0.9m6 0.9v-0.7m3 0.7v-0.5m0 3.5v1m1 -1v0.5m5 -0.5v0.3m3 -0.3v1m2 -1v0.5m4 -3.5v-0.4m3 3.4v0.4m2 -3.4v-0.8m4 3.8v0.8m2 -0.8v0.8m1 -3.8v-0.9m8 0.9v-1.1m5 4.1v1m2 -1v0.4m1 -0.4v0.4m2 -3.4v-0.7m2 3.7v0.8m2 -0.8v0.7m2 -0.7v1m3 -4v-1m6 1v-0.4m2 3.4v0.5m4 -3.5v-0.9m5 0.9v-1m2 4v0.7m8 -0.7v1.1m1 -4.1v-0.3m0 3.3v0.6m3 -3.6v-0.9m1 3.9v0.9m2 -3.9v-0.7m1 0.7v-0.6m1 0.6v-1.1m6 1.1v-1.1m1 1.1v-1m0 4v0.9m5 -3.9v-0.6m0 3.6v1m2 -4v-0.7m2 3.7v1m2 -1v0.5m4 -0.5v0.7m1 -3.7v-0.5m1 3.5v0.3m11 -0.3v0.3m1 -3.3v-1m2 4v0.7m2 -3.7v-1m1 4v0.9m4 -3.9v-0.8m1 3.8v0.9m1 -0.9v0.5m2 -0.5v1m2 -4v-0.9m2 0.9v-1.1m2 1.1v-0.7m2 0.7v-0.7m4 0.7v-0.5m1 0.5v-0.3m3 0.3v-0.9m2 0.9v-0.7m3 0.7v-0.9m0 3.9v1m2 -4v-0.7m1 3.7v0.5m2 -0.5v1.1m5 -4.1v-0.8m1 0.8v-0.8m2 0.8v-0.9m0 3.9v1m7 -4v-0.7m2 0.7v-0.9m1 0.9v-0.3m1 3.3v0.4m2 -3.4v-0.7m1 3.7v0.3m1 -0.3v0.7m2 -0.7v0.4m10 -0.4v0.7m2 -0.7v0.8m3 -3.8v-0.7m0 3.7v0.9m1 -0.9v1.1m4 -1.1v0.3m8 -3.3v-0.8m3 0.8v-0.7m1 3.7v0.4m1 -3.4v-0.9m0 3.9v0.7m7 -0.7v0.8m2 -3.8v-0.5m4 0.5v-0.5m1 3.5v0.5m6 -3.5v-0.9m1 0.9v-1.1m1 4.1v0.4m4 -0.4v0.5m2 -0.5v0.6m1 -0.6v0.8m1 -3.8v-0.7m1 0.7v-1m1 4v0.8m3 -0.8v0.6m4 -0.6v0.9m2 -3.9v-0.8m2 3.8v1.1m2 -4.1v-1m4 1v-0.3m0 3.3v0.4m3 -3.4v-0.6m5 0.6v-0.5m6 3.5v0.6m8 -0.6v1m7 -1v0.5m1 -0.5v0.9m9 -0.9v0.8m2 -3.8v-0.5m1 3.5v0.5m1 -0.5v0.7m2 -0.7v0.7m1 -3.7v-0.7m1 3.7v0.7m1 -0.7v0.4m3 -3.4v-1.1m1 4.1v0.9m1 -3.9v-0.8m1 3.8v0.7m1 -3.7v-0.4m1 3.4v1.1m1 -4.1v-0.5m2 0.5v-0.9m2 0.9v-0.5m0 3.5v1m3 -1v0.6m4 -3.6v-1m0 4v0.6m1 -0.6v0.7m1 -0.7v0.8m4 -3.8v-0.9m1 3.9v1m6 -1v1m2 -4v-0.4m4 3.4v0.7m1 -0.7v1m7 -4v-0.9m5 3.9v0.3m1 -0.3v1m2 -4v-0.6m0 3.6v0.9m1 -3.9v-0.4m1 0.4v-1m3 1v-0.4m0 3.4v0.5m1 -0.5v0.8m2 -3.8v-0.6m2 3.6v0.9m1 -3.9v-0.7m1 0.7v-0.3m5 0.3v-0.5m9 3.5v0.6m2 -3.6v-0.8m1 3.8v0.7m3 -0.7v0.3m1 -0.3v0.3m2 -3.3v-0.4m2 0.4v-0.6m4 3.6v0.3m3 -0.3v0.7m1 -3.7v-0.5m3 3.5v0.9m2 -3.9v-0.7m2 3.7v0.6m5 -0.6v0.4m7 -3.4v-0.6m2 0.6v-0.6m4 3.6v0.9m7 -0.9v0.4m3 -3.4v-0.5m1 0.5v-0.4m4 3.4v0.7m2 -3.7v-0.9m1 3.9v1m1 -4v-0.3m2 3.3v0.3m5 -0.3v0.9m7 -0.9v0.9m4 -3.9v-0.4m1 0.4v-0.8m2 0.8v-1m6 1v-0.9m4 3.9v0.4m3 -0.4v0.9m1 -3.9v-0.4m0 3.4v1m3 -4v-0.7m1 0.7v-0.9m0 3.9v0.7m1 -3.7v-0.4m0 3.4v0.6m1 -0.6v0.7m3 -0.7v1m3 -1v0.9m2 -0.9v0.8m1 -0.8v0.7m8 -3.7v-0.3m1 3.3v0.5m2 -0.5v1m4 -4v-0.6m0 3.6v0.4m4 -0.4v0.7m1 -3.7v-0.9m1 0.9v-0.6m0 3.6v1m4 -4v-0.6m4 3.6v0.9m1 -0.9v0.9m1 -3.9v-0.6m1 0.6v-0.8m2 3.8v0.5m4 -0.5v0.5m3 -0.5v0.9m1 -0.9v0.5m2 -3.5v-0.8m4 0.8v-1m1 4v0.5m1 -0.5v0.5m1 -3.5v-0.8m5 0.8v-1.1m2 4.1v1.1m2 -1.1v0.6m2 -3.6v-0.8m0 3.8v0.7m1 -0.7v0.7m1 -0.7v0.7m8 -3.7v-0.4m1 0.4v-0.3m3 0.3v-0.4m0 3.4v0.9m5 -0.9v0.9m1 -3.9v-1.1m8 4.1v0.8m1 -0.8v1m1 -1v1.1m2 -1.1v0.5m7 -3.5v-0.4m1 3.4v0.6m8 -3.6v-0.6m1 3.6v0.8m1 -3.8v-0.5m1 3.5v0.8m1 -3.8v-0.4m1 0.4v-0.9m2 3.9v1m10 -1v0.6m2 -3.6v-0.3m1 0.3v-0.6m1 0.6v-0.7m1 0.7v-0.6m5 0.6v-0.8m1 3.8v1m1 -4v-0.3m1 3.3v1.1m1 -1.1v0.8m1 -0.8v0.4m1 -3.4v-0.6m1 0.6v-1.1m6 1.1v-1m1 1v-0.6m3 0.6v-0.6m2 3.6v0.9m1 -0.9v1.1m1 -4.1v-0.7m7 0.7v-0.4m0 3.4v0.5m5 -3.5v-0.8m1 3.8v1.1m4 -4.1v-1m2 4v0.7m3 -3.7v-1m1 4v1m3 -1v0.7m1 -3.7v-1m3 1v-0.6m5 0.6v-1.1m1 1.1v-1m4 1v-0.4m3 3.4v1m1 -1v0.5m2 -0.5v0.3m1 -3.3v-0.4m2 0.4v-0.8m1 3.8v0.9m1 -3.9v-1m3 1v-0.8m1 3.8v0.6m1 -0.6v0.4m4 -0.4v0.4m3 -3.4v-0.6m4 3.6v0.8m4 -3.8v-0.4m1 0.4v-0.9m1 0.9v-1.1m3 4.1v0.6m4 -3.6v-0.9m1 3.9v0.8m1 -0.8v0.7m1 -3.7v-0.8m6 0.8v-0.5m0 3.5v0.9m4 -3.9v-0.5m2 0.5v-0.6m2 0.6v-1.1m3 4.1v1m1 -4v-1m7 1v-0.3m2 0.3v-1.1m3 4.1v0.4m1 -0.4v0.8m4 -3.8v-0.5m6 3.5v0.3m2 -3.3v-0.4m2 3.4v1.1m3 -1.1v1.1m1 -4.1v-0.6m2 0.6v-0.6m0 3.6v0.8m4 -3.8v-0.6m4 0.6v-0.7m4 0.7v-0.8m2 0.8v-0.8m2 3.8v1m2 -4v-0.7m2 0.7v-0.4m1 3.4v0.4m1 -3.4v-1m0 4v0.4" fill="none" stroke="#008000" stroke-width="0.9"/>
<path d="M138.5 324.96l5 -0.06l5 0.18l5 -0.01l5 -0.05l5 0.11l5 -0.02l5 -0.08l5 -0.1l5 0.14l5 -0.18l5 0.23l5 -0.04l5 -0.03l5 -0.13l5 0.16l5 0l5 0.04l5 -0.13l5 -0.01l5 0.12l5 -0.11l5 0.06l5 0.02l5 -0.13l5 0.09l5 0.05l5 0.05l5 -0.18l5 0.02l5 0.03l5 -0.07l5 -0.04l5 0.16l5 0.02l5 -0.08l5 -0.07l5 0.07l5 -0.07l5 0.12l5 -0.13l5 0.05l5 -0.06l5 0.11l5 0.1l5 -0.06l5 -0.13l5 0l5 0.13l5 -0.14l5 0.12l5 -0.13l5 0.01l5 0.19l5 -0.11l5 -0.02l5 -0.07l5 0.17l5 -0.05l5 0.04l5 -0.15l5 0.07l5 -0.01l5 -0.08l5 0.1l5 0.03l5 -0.01l5 0.05l5 -0.06l5 0l5 -0.07l5 0.06l5 -0.04l5 0.04l5 0.06l5 -0.04l5 -0.07l5 0.13l5 -0.15l5 0.17l5 0.01l5 -0.16l5 -0.01l5 0.09l5 -0.12l5 0.11l5 0l5 0.07l5 -0.14l5 0.13l5 -0.16l5 0.1l5 -0.02l5 -0.01l5 0.03l5 -0.04l5 0.09l5 -0.01l5 -0.16l5 0.1l5 -0.03l5 0.09l5 0.04l5 -0.01l5 0.03l5 0l5 -0.09l5 -0.13l5 0.17l5 0.04l5 0.01l5 -0.12l5 -0.07l5 0.09l5 -0.08l5 0.03l5 -0.03l5 0.16l5 0.03l5 -0.03l5 -0.06l5 0.07l5 0.01l5 -0.12l5 -0.01l5 -0.02l5 -0.02l5 0.15l5 -0.12l5 0.02l5 0.11l5 -0.07l5 -0.13l5 0.14l5 -0.13l5 0.1l5 -0.06l5 0.13l5 -0.05l5 -0.03l5 0.07l5 0.04l5 -0.12l5 0.07l5 -0.13l5 0.19l5 -0.21l5 0.14l5 -0.07l5 -0.07l5 0.01l5 0.07l5 -0.06l5 0.09l5 0.11l5 -0.06l5 0.03l5 -0.1l5 -0.07l5 -0.03l5 0.13l5 -0.04l5 0.06l5 -0.09l5 0l5 0.08l5 0.07l5 -0.11l5 0.07l5 -0.17l5 0.11l5 0.09l5 -0.2l5 0.18l5 -0.09l4 -0.08" fill="none" stroke="#000000" stroke-width="4.02"/>
<path d="M140 326.7v0.7m1 -4.1v-1.1m1 4.5v0.6m1 -4v-0.4m2 3.8v1.1m2 -4.5v-1.1m3 1.1v-1m3 1v-0.7m3 4.1v0.9m1 -4.3v-0.4m0 3.8v0.5m3 -0.5v1m3 -4.4v-1m1 4.4v0.3m4 -3.7v-0.8m1 0.8v-0.7m8 4.1v0.8m3 -0.8v0.6m2 -0.6v0.6m1 -0.6v0.6m4 -4v-0.7m0 4.1v0.4m3 -3.8v-0.8m1 4.2v0.5m3 -0.5v0.8m2 -4.2v-0.6m4 4v0.8m3 -4.2v-0.6m3 0.6v-0.5m4 0.5v-0.8m1 0.8v-0.6m1 4v0.6m3 -4v-0.3m6 0.3v-0.4m3 0.4v-1m5 4.4v0.5m5 -0.5v1m1 -1v0.4m1 -0.4v0.7m1 -4.1v-0.7m0 4.1v0.5m1 -0.5v0.7m2 -4.1v-0.5m2 3.9v0.3m3 -0.3v0.5m2 -3.9v-0.8m0 4.2v0.8m1 -0.8v0.5m1 -3.9v-0.7m3 4.1v1m2 -4.4v-0.7m0 4.1v1m1 -4.4v-0.4m5 0.4v-0.9m2 0.9v-0.4m1 3.8v0.6m2 -4v-0.8m1 0.8v-0.3m3 0.3v-1.1m1 1.1v-0.5m1 3.9v0.3m17 -0.3v0.4m5 -3.8v-0.9m1 4.3v0.6m1 -4v-0.8m0 4.2v0.4m1 -0.4v0.3m4 -3.7v-0.3m5 3.7v0.7m1 -0.7v0.9m2 -0.9v1m4 -1v0.5m1 -3.9v-0.7m5 0.7v-0.5m2 0.5v-0.5m1 0.5v-0.8m0 4.2v0.4m2 -0.4v0.5m3 -0.5v0.5m4 -0.5v0.5m1 -0.5v1m8 -1v1m1 -1v1m2 -4.4v-0.8m3 0.8v-0.5m5 0.5v-0.4m1 0.4v-0.5m1 3.9v0.6m7 -4v-0.6m0 4v0.5m1 -3.9v-0.8m1 0.8v-1m2 1v-0.3m0 3.7v0.4m2 -3.8v-1m3 4.4v0.6m7 -0.6v0.9m3 -0.9v0.9m3 -4.3v-0.7m0 4.1v0.6m3 -4v-0.7m0 4.1v0.9m1 -0.9v0.6m2 -0.6v0.9m2 -4.3v-0.4m0 3.8v0.7m1 -4.1v-0.3m1 0.3v-0.3m4 0.3v-0.8m3 0.8v-1m2 1v-0.4m5 3.8v0.9m2 -0.9v1.1m8 -1.1v0.7m2 -4.1v-1.1m1 1.1v-0.6m0 4v1m2 -4.4v-0.7m1 0.7v-0.6m2 4v0.8m1 -0.8v0.4m2 -3.8v-1m4 4.4v0.6m1 -4v-1m0 4.4v0.7m2 -4.1v-0.5m5 0.5v-1m0 4.4v0.8m2 -4.2v-0.4m3 3.8v0.8m1 -4.2v-0.3m2 3.7v1m1 -4.4v-0.7m3 0.7v-1.1m5 1.1v-0.5m1 0.5v-0.8m0 4.2v0.9m3 -4.3v-0.8m7 4.2v0.6m3 -4v-0.6m1 0.6v-0.4m1 3.8v0.7m1 -0.7v0.9m4 -0.9v0.6m10 -4v-1m2 1v-0.8m0 4.2v0.8m6 -0.8v0.6m7 -4v-0.7m0 4.1v1m1 -1v0.6m2 -4v-0.6m3 0.6v-0.5m3 3.9v0.4m1 -0.4v0.9m3 -0.9v0.7m2 -4.1v-0.7m2 0.7v-0.3m3 3.7v0.3m3 -3.7v-0.4m1 3.8v0.4m6 -3.8v-0.8m4 0.8v-0.8m2 4.2v1.1m5 -4.5v-0.7m0 4.1v1m2 -4.4v-1m0 4.4v0.3m3 -0.3v0.4m1 -3.8v-1.1m0 4.5v0.8m1 -0.8v0.9m2 -4.3v-0.4m2 0.4v-0.8m0 4.2v0.5m4 -0.5v0.5m1 -0.5v0.7m4 -4.1v-0.7m1 0.7v-0.4m1 3.8v0.5m3 -3.9v-0.4m1 3.8v0.7m7 -4.1v-0.9m1 0.9v-0.6m1 4v1m1 -1v0.9m2 -0.9v0.6m4 -0.6v1m1 -4.4v-0.4m2 3.8v0.9m2 -0.9v1m4 -4.4v-0.9m1 0.9v-1m2 4.4v0.8m2 -4.2v-0.5m3 0.5v-0.7m0 4.1v0.6m2 -4v-0.7m4 4.1v0.8m1 -4.2v-0.8m0 4.2v0.7m4 -0.7v0.4m1 -3.8v-0.3m1 3.7v1.1m2 -4.5v-0.8m5 4.2v0.6m2 -4v-0.9m1 0.9v-0.7m4 0.7v-0.6m0 4v1m1 -4.4v-1m0 4.4v0.4m6 -0.4v0.7m1 -0.7v0.6m3 -0.6v1m1 -1v0.7m1 -4.1v-0.7m5 0.7v-0.8m0 4.2v1m1 -4.4v-1m3 4.4v0.7m2 -0.7v0.3m1 -3.7v-0.3m0 3.7v0.5m2 -3.9v-1m1 4.4v0.7m1 -4.1v-0.4m5 0.4v-0.4m0 3.8v0.9m1 -0.9v1m1 -4.4v-0.5m9 3.9v0.6m3 -4v-0.3m2 0.3v-1.1m1 1.1v-0.7m1 0.7v-0.5m3 0.5v-0.4m1 0.4v-0.5m4 0.5v-1m1 4.4v0.8m3 -4.2v-1.1m1 4.5v0.4m8 -3.8v-0.6m1 4v0.6m5 -4v-0.5m0 3.9v0.8m1 -4.2v-0.5m4 3.9v0.3m3 -0.3v0.5m1 -0.5v0.8m3 -4.2v-0.7m1 0.7v-0.7m0 4.1v0.6m2 -4v-0.6m2 4v0.9m1 -0.9v0.6m1 -0.6v0.4m1 -0.4v0.6m5 -4v-1m1 4.4v1m3 -1v0.5m8 -3.9v-0.6m6 0.6v-0.8m1 0.8v-0.5m0 3.9v0.7m1 -0.7v1m7 -4.4v-0.7m1 0.7v-1m3 1v-0.7m1 0.7v-0.5m7 3.9v0.7m1 -0.7v0.4m1 -3.8v-0.5m5 0.5v-0.9m5 0.9v-0.7m3 0.7v-0.6m5 4v1m1 -4.4v-0.8m5 4.2v0.6m1 -0.6v0.9m1 -0.9v0.9m4 -4.3v-0.4m10 0.4v-0.4m3 0.4v-0.9m3 4.3v1.1m4 -1.1v0.5m5 -3.9v-0.4m2 3.8v0.6m3 -0.6v0.8m8 -0.8v0.5m5 -0.5v0.9m2 -4.3v-0.7m5 0.7v-1m2 1v-0.6m0 4v0.5m2 -3.9v-0.9m0 4.3v0.3m1 -0.3v0.8m1 -0.8v1m4 -4.4v-0.8m1 0.8v-0.7m3 0.7v-0.9m4 0.9v-0.7m2 4.1v1.1m4 -1.1v0.9m1 -0.9v0.6m3 -4v-0.3m1 3.7v0.8m1 -4.2v-0.3m2 3.7v1m3 -4.4v-1.1m0 4.5v0.8m2 -0.8v0.5m6 -3.9v-1m3 4.4v0.7m2 -4.1v-1m2 4.4v0.9m3 -0.9v1m2 -1v0.9m1 -0.9v0.4m1 -3.8v-0.6m5 4v0.4m1 -3.8v-0.7m1 0.7v-0.7m3 4.1v1.1m1 -1.1v1m2 -1v0.8m4 -0.8v0.7m2 -0.7v0.7m2 -4.1v-0.7m0 4.1v0.7m6 -4.1v-0.9m3 4.3v0.3m4 -3.7v-0.4m1 0.4v-0.3m1 0.3v-1m1 1v-0.8m1 0.8v-0.3m1 3.7v0.4m2 -0.4v0.4m8 -0.4v0.3m3 -0.3v0.5m1 -0.5v1m6 -4.4v-0.9m2 4.3v0.4m8 -3.8v-0.7m0 4.1v1m1 -4.4v-0.5m0 3.9v0.9m3 -0.9v0.7m1 -0.7v1.1m2 -1.1v0.4m4 -0.4v1m2 -4.4v-1m2 1v-0.6m2 0.6v-0.6m3 0.6v-0.6m4 4v1m3 -1v0.9m1 -0.9v0.6m2 -0.6v1.1" fill="none" stroke="#000000" stroke-width="0.9"/>
<path d="M138.5 356.58l5 -0.14l5 0.23l5 -0.13l5 0.04l5 0.05l5 -0.04l5 -0.15l5 0.16l5 -0.08l5 0.04l5 0.06l5 -0.16l5 0.01l5 0.02l5 0.18l5 -0.1l5 0l5 0.05l5 0.04l5 0.01l5 -0.18l5 0.18l5 0l5 -0.13l5 -0.1l5 0.16l5 -0.12l5 -0.03l5 0.11l5 0.09l5 -0.19l5 0.1l5 0.08l5 -0.07l5 0.09l5 -0.01l5 -0.19l5 0.03l5 0.12l5 -0.13l5 0.07l5 0.04l5 -0.13l5 0.06l5 0.12l5 0.03l5 -0.12l5 -0.1l5 0.02l5 -0.02l5 0.15l5 0.01l5 -0.08l5 0.05l5 0.09l5 -0.17l5 0.06l5 0.01l5 -0.08l5 -0.01l5 0.14l5 -0.06l5 0.1l5 -0.15l5 0.01l5 0.09l5 0.01l5 -0.04l5 0.09l5 -0.07l5 -0.05l5 -0.03l5 0.14l5 -0.1l5 0.04l5 -0.16l5 0.12l5 -0.01l5 0.09l5 -0.14l5 0.08l5 0.02l5 0.02l5 -0.02l5 -0.05l5 -0.07l5 0.01l5 0.09l5 -0.14l5 0.15l5 0.04l5 -0.14l5 0.1l5 -0.11l5 0.19l5 -0.07l5 0.06l5 -0.16l5 -0.06l5 0.16l5 0.05l5 -0.01l5 0.02l5 -0.19l5 0.06l5 0.14l5 -0.09l5 0.09l5 -0.14l5 -0.05l5 0.12l5 0.01l5 0.01l5 0l5 0.05l5 -0.01l5 -0.06l5 -0.09l5 0.04l5 -0.1l5 0.08l5 -0.01l5 0l5 0.11l5 -0.18l5 0.08l5 -0.01l5 0l5 0.08l5 -0.03l5 0.08l5 -0.03l5 0l5 0.03l5 0.01l5 -0.08l5 -0.09l5 0l5 0.1l5 0l5 -0.11l5 0.19l5 -0.1l5 -0.13l5 0.06l5 0.09l5 -0.09l5 0.08l5 -0.01l5 0.1l5 -0.23l5 0l5 0.06l5 0.13l5 -0.11l5 0.01l5 0.11l5 0.03l5 -0.04l5 0.01l5 -0.07l5 -0.03l5 -0.01l5 -0.07l5 0.08l5 -0.1l5 0.11l5 -0.02l5 -0.09l5 0.13l5 -0.05l5 0.06l5 0.07l5 0l4 -0.13" fill="none" stroke="#ff0000" stroke-width="3.6"/>
<path d="M141 358.1v1.1m6 -1.1v0.5m7 -0.5v1m3 -4v-0.4m4 3.4v1m1 -1v0.8m1 -3.8v-0.9m5 3.9v0.7m4 -0.7v0.6m4 -0.6v0.4m2 -3.4v-0.5m5 0.5v-0.7m1 0.7v-0.6m0 3.6v0.7m1 -0.7v1m2 -1v0.7m1 -0.7v0.4m1 -3.4v-1m4 1v-1.1m2 4.1v1m2 -1v0.8m8 -0.8v0.9m2 -0.9v0.7m4 -3.7v-0.9m0 3.9v0.8m7 -3.8v-0.6m1 3.6v0.9m1 -0.9v0.9m6 -3.9v-0.4m2 0.4v-0.9m0 3.9v0.5m1 -3.5v-0.4m4 0.4v-0.8m6 0.8v-1m3 4v1.1m1 -1.1v0.8m1 -3.8v-1m3 1v-0.8m5 0.8v-0.9m1 0.9v-0.9m3 3.9v0.5m3 -3.5v-0.6m1 3.6v1.1m8 -4.1v-0.8m0 3.8v0.6m5 -3.6v-0.7m2 3.7v1.1m3 -1.1v1m2 -1v0.8m2 -0.8v0.8m3 -0.8v1m8 -1v0.6m9 -0.6v0.4m2 -3.4v-0.8m3 3.8v0.9m12 -3.9v-1m0 4v1m6 -1v0.7m1 -0.7v0.3m1 -0.3v0.9m9 -3.9v-0.4m2 3.4v0.3m1 -3.3v-0.3m2 3.3v0.7m2 -3.7v-0.9m0 3.9v0.5m3 -3.5v-0.7m1 0.7v-0.9m5 0.9v-1m4 4v1.1m4 -4.1v-0.4m1 0.4v-0.7m3 0.7v-0.7m2 0.7v-0.9m2 0.9v-1m2 4v1m2 -4v-1m0 4v0.9m3 -0.9v0.7m1 -3.7v-0.7m8 0.7v-0.8m1 0.8v-0.4m0 3.4v1.1m1 -1.1v0.7m2 -0.7v0.6m8 -0.6v0.6m3 -3.6v-0.8m1 0.8v-1m0 4v0.5m1 -3.5v-0.8m0 3.8v0.4m1 -3.4v-0.7m0 3.7v0.8m2 -0.8v1.1m1 -1.1v0.9m1 -3.9v-0.6m5 3.6v1m4 -4v-0.6m2 3.6v0.7m6 -3.7v-0.6m2 0.6v-0.5m2 0.5v-0.3m0 3.3v0.8m3 -0.8v0.5m2 -3.5v-0.4m6 3.4v0.8m2 -3.8v-0.7m1 3.7v0.3m3 -3.3v-0.5m8 3.5v1.1m3 -4.1v-0.9m3 3.9v0.8m3 -0.8v0.9m2 -3.9v-0.8m0 3.8v0.4m3 -3.4v-0.7m1 0.7v-0.4m1 3.4v0.9m2 -3.9v-0.5m2 3.5v0.3m6 -3.3v-0.4m4 3.4v0.5m1 -0.5v1m2 -1v1.1m1 -1.1v0.6m3 -0.6v0.5m2 -0.5v0.8m6 -0.8v0.3m4 -3.3v-0.8m1 3.8v0.9m5 -0.9v0.4m2 -3.4v-0.9m0 3.9v0.8m2 -0.8v0.6m5 -3.6v-1m0 4v0.8m5 -3.8v-1m1 4v0.7m7 -3.7v-0.3m1 3.3v0.3m2 -0.3v0.7m5 -0.7v1m6 -4v-0.4m0 3.4v0.6m1 -3.6v-0.8m0 3.8v0.9m4 -3.9v-0.9m1 0.9v-0.5m3 0.5v-0.9m1 0.9v-0.8m1 3.8v1m10 -4v-0.6m1 0.6v-0.3m1 3.3v0.7m1 -0.7v0.5m3 -0.5v0.5m2 -3.5v-0.9m4 3.9v0.6m2 -3.6v-1.1m1 1.1v-0.6m0 3.6v0.6m1 -3.6v-0.6m3 3.6v1m2 -1v1m2 -4v-1m1 1v-0.8m3 0.8v-0.7m1 0.7v-1m8 1v-0.6m2 3.6v0.6m1 -0.6v0.4m7 -3.4v-0.6m1 3.6v0.3m1 -0.3v0.8m5 -3.8v-0.9m2 3.9v0.5m1 -3.5v-0.7m1 0.7v-0.7m2 3.7v0.5m3 -3.5v-0.5m0 3.5v0.7m2 -3.7v-1m0 4v1m8 -4v-0.6m4 3.6v0.9m2 -0.9v0.7m3 -3.7v-0.4m0 3.4v0.4m3 -3.4v-0.8m1 3.8v1m10 -1v0.4m3 -0.4v1m1 -4v-0.9m3 3.9v1m2 -1v0.7m4 -0.7v0.3m1 -0.3v0.8m1 -0.8v0.5m2 -0.5v1.1m5 -4.1v-1m2 1v-0.5m2 0.5v-0.5m0 3.5v0.4m1 -0.4v0.3m2 -0.3v0.8m1 -3.8v-0.6m1 0.6v-0.7m0 3.7v0.3m1 -0.3v0.4m1 -0.4v0.7m7 -0.7v0.6m4 -0.6v0.5m2 -3.5v-0.7m2 3.7v1m2 -1v1m2 -1v0.5m6 -0.5v0.7m1 -0.7v0.5m4 -3.5v-0.8m0 3.8v0.7m4 -3.7v-0.7m1 3.7v0.8m1 -3.8v-0.3m0 3.3v0.5m15 -0.5v0.3m4 -3.3v-0.9m1 3.9v0.6m1 -3.6v-0.5m7 0.5v-0.8m4 0.8v-0.9m7 0.9v-0.7m5 0.7v-0.3m0 3.3v1m4 -4v-0.7m2 0.7v-0.6m3 3.6v1.1m3 -4.1v-0.5m7 3.5v0.8m1 -3.8v-0.4m3 0.4v-0.6m1 0.6v-0.7m7 0.7v-0.4m0 3.4v0.6m5 -0.6v0.7m1 -3.7v-0.4m1 3.4v1m1 -4v-0.9m2 0.9v-0.7m0 3.7v0.9m2 -0.9v0.4m1 -3.4v-0.6m4 0.6v-1.1m4 1.1v-0.4m0 3.4v1.1m1 -4.1v-0.6m6 0.6v-1m5 4v0.3m1 -3.3v-0.7m0 3.7v0.7m1 -3.7v-0.4m2 0.4v-0.7m4 0.7v-0.4m0 3.4v1m3 -1v1.1m6 -4.1v-0.8m5 3.8v0.4m4 -0.4v0.8m1 -3.8v-0.7m5 3.7v1m3 -1v0.7m6 -3.7v-0.8m3 0.8v-0.3m1 0.3v-0.8m0 3.8v0.6m2 -3.6v-0.8m2 3.8v1.1m8 -4.1v-0.5m11 0.5v-1m3 1v-1m1 4v0.5m4 -0.5v0.8m2 -0.8v0.5m1 -3.5v-0.8m0 3.8v1m2 -1v0.8m2 -0.8v1m3 -1v0.9m4 -3.9v-0.5m1 3.5v0.7m2 -3.7v-0.7m1 3.7v0.5m5 -0.5v0.9m7 -3.9v-0.4m6 0.4v-0.9m0 3.9v0.5m1 -3.5v-1m1 4v0.5m1 -0.5v0.6m1 -0.6v0.4m4 -3.4v-0.3m1 0.3v-1m1 1v-0.9m2 3.9v0.9m2 -0.9v0.5m3 -3.5v-0.7m1 3.7v0.8m3 -3.8v-0.8m1 0.8v-0.7m3 3.7v0.4m2 -3.4v-0.4m3 3.4v0.6m4 -3.6v-1m2 4v0.5m2 -0.5v0.8m5 -0.8v0.9m2 -3.9v-0.6m1 0.6v-0.8m1 0.8v-0.5m2 0.5v-0.8m3 3.8v0.4m2 -0.4v0.9m1 -3.9v-1m6 4v0.6m3 -3.6v-0.4m0 3.4v0.8" fill="none" stroke="#ff0000" stroke-width="0.9"/>
<path d="M138.5 387.99l5 0.21l5 -0.07l5 -0.1l5 0.04l5 0.12l5 -0.18l5 0.1l5 -0.02l5 0.02l5 0.07l5 -0.14l5 0.07l5 -0.09l5 0.08l5 -0.1l5 0.01l5 0.1l5 0.05l5 -0.05l5 -0.12l5 0.14l5 0.05l5 0l5 -0.19l5 0.17l5 -0.17l5 0.16l5 -0.06l5 -0.09l5 0.06l5 -0.02l5 0.12l5 -0.09l5 0.01l5 0.01l5 -0.11l5 0l5 0.07l5 0.11l5 -0.07l5 -0.07l5 -0.02l5 0.15l5 -0.05l5 -0.11l5 0.08l5 0.15l5 -0.13l5 0.11l5 0.01l5 -0.22l5 0.04l5 0.16l5 -0.2l5 0.03l5 0.05l5 0.09l5 -0.09l5 -0.06l5 0.11l5 -0.03l5 0.01l5 -0.11l5 0.16l5 -0.07l5 -0.07l5 0.16l5 -0.08l5 0.04l5 -0.13l5 0.05l5 0.07l5 0l5 0.07l5 -0.13l5 0.07l5 0.02l5 -0.16l5 0.06l5 0.09l5 -0.16l5 0.2l5 -0.07l5 -0.04l5 0.01l5 0.1l5 -0.13l5 0.03l5 0.05l5 -0.07l5 0.04l5 0.09l5 -0.01l5 0.02l5 -0.1l5 -0.02l5 -0.06l5 0.17l5 -0.2l5 0.16l5 -0.03l5 0.03l5 -0.17l5 0.03l5 0.09l5 -0.06l5 0l5 0.15l5 -0.13l5 -0.04l5 0.01l5 0.01l5 0.02l5 0.09l5 -0.16l5 0.14l5 0l5 0.01l5 -0.02l5 -0.13l5 0.11l5 -0.05l5 0.05l5 0.04l5 -0.05l5 0.03l5 -0.01l5 0.1l5 -0.06l5 -0.02l5 -0.01l5 -0.11l5 -0.01l5 0.13l5 -0.07l5 0l5 -0.02l5 0l5 0.04l5 -0.07l5 0.04l5 0.02l5 -0.06l5 0.19l5 0.02l5 -0.1l5 0.09l5 -0.06l5 0.01l5 -0.11l5 0.13l5 -0.01l5 -0.12l5 -0.02l5 0.05l5 0.02l5 0.01l5 -0.02l5 -0.06l5 0.09l5 0.08l5 0l5 -0.08l5 0.05l5 0.03l5 -0.21l5 0.13l5 0.02l5 -0.15l5 -0.01l5 0.22l5 0l5 -0.15l5 0.17l4 -0.15" fill="none" stroke="#0000ff" stroke-width="3.6"/>
<path d="M140 386.6v-1m1 4v0.5m5 -3.5v-0.9m2 0.9v-0.4m3 0.4v-0.3m8 0.3v-0.5m4 0.5v-0.4m1 0.4v-0.7m1 0.7v-0.4m6 3.4v0.9m1 -3.9v-0.9m3 0.9v-0.7m1 0.7v-0.5m1 0.5v-1m2 1v-0.8m0 3.8v0.3m1 -3.3v-1m2 4v0.3m2 -0.3v1m2 -1v0.9m2 -0.9v0.8m1 -3.8v-0.4m2 3.4v1.1m1 -4.1v-0.8m6 0.8v-0.8m0 3.8v0.9m1 -3.9v-0.7m5 3.7v0.9m1 -3.9v-0.8m6 0.8v-0.7m0 3.7v0.5m1 -3.5v-0.8m0 3.8v0.4m1 -3.4v-0.6m6 0.6v-0.3m0 3.3v0.5m2 -3.5v-0.8m3 3.8v0.5m2 -3.5v-0.8m3 0.8v-0.5m2 0.5v-0.4m4 0.4v-0.8m4 0.8v-0.8m3 0.8v-1m1 1v-0.4m1 0.4v-1m1 1v-0.9m1 0.9v-0.6m2 3.6v0.3m3 -3.3v-1m9 1v-0.9m1 0.9v-0.8m7 0.8v-0.7m0 3.7v1.1m1 -1.1v0.4m2 -3.4v-0.4m2 0.4v-0.6m4 0.6v-1m2 1v-1m2 1v-1.1m1 1.1v-0.4m2 0.4v-0.3m9 0.3v-0.7m1 0.7v-0.8m3 0.8v-0.9m2 3.9v0.9m1 -0.9v0.5m3 -0.5v1m3 -1v0.5m1 -3.5v-0.7m2 3.7v0.3m3 -3.3v-1.1m0 4.1v0.8m3 -0.8v0.4m6 -3.4v-1m0 4v0.8m4 -3.8v-0.7m1 3.7v1m1 -4v-1m1 4v0.6m2 -0.6v1m2 -1v0.4m3 -3.4v-1.1m2 1.1v-0.7m2 0.7v-1m4 1v-1m6 4v0.7m3 -3.7v-1.1m2 1.1v-0.3m1 3.3v0.4m1 -0.4v0.9m7 -3.9v-0.4m2 0.4v-0.9m3 0.9v-0.4m3 3.4v0.7m5 -3.7v-0.7m0 3.7v0.4m1 -3.4v-0.7m0 3.7v0.5m2 -0.5v1m6 -1v0.7m1 -3.7v-0.7m0 3.7v1m2 -4v-0.7m2 3.7v0.7m1 -0.7v0.7m1 -0.7v1.1m2 -1.1v0.9m2 -0.9v0.3m13 -0.3v0.4m1 -0.4v0.5m4 -0.5v0.6m1 -3.6v-0.8m4 0.8v-1m0 4v0.7m9 -0.7v0.9m1 -3.9v-0.7m10 0.7v-0.6m0 3.6v1m3 -1v0.3m8 -0.3v0.8m2 -3.8v-0.9m0 3.9v0.9m2 -3.9v-0.3m1 0.3v-0.8m3 0.8v-1.1m4 4.1v0.8m2 -3.8v-0.7m1 0.7v-0.9m4 0.9v-0.5m0 3.5v0.4m1 -0.4v0.8m2 -0.8v0.5m1 -3.5v-0.5m0 3.5v0.6m1 -0.6v0.4m1 -0.4v0.7m3 -3.7v-0.5m1 0.5v-0.7m1 0.7v-0.5m2 0.5v-0.8m2 0.8v-0.4m0 3.4v0.9m2 -3.9v-0.6m3 3.6v0.3m6 -3.3v-0.7m2 3.7v0.7m7 -3.7v-1.1m0 4.1v0.3m1 -0.3v0.6m2 -0.6v1m3 -1v1m2 -4v-0.6m1 3.6v0.6m3 -3.6v-1.1m1 1.1v-0.7m3 3.7v0.9m5 -0.9v0.9m2 -0.9v0.4m5 -3.4v-1m3 4v0.8m1 -0.8v0.9m1 -3.9v-0.4m2 3.4v0.6m1 -0.6v0.8m3 -3.8v-0.4m0 3.4v0.6m7 -3.6v-0.5m0 3.5v0.7m5 -3.7v-0.3m2 3.3v0.7m1 -3.7v-0.6m0 3.6v1.1m5 -4.1v-0.7m1 3.7v0.8m4 -0.8v0.6m7 -0.6v1m2 -1v0.8m4 -3.8v-0.7m4 3.7v1m3 -4v-0.7m9 3.7v0.8m1 -3.8v-0.5m1 3.5v0.4m5 -3.4v-1.1m0 4.1v0.7m11 -0.7v1m1 -1v0.6m2 -0.6v1m2 -4v-0.7m4 3.7v1.1m2 -4.1v-0.3m1 3.3v0.4m2 -3.4v-0.9m4 0.9v-0.8m5 0.8v-0.8m0 3.8v0.5m1 -3.5v-0.9m1 3.9v0.5m1 -0.5v0.9m3 -0.9v0.6m3 -0.6v0.3m1 -3.3v-0.7m1 3.7v0.7m1 -3.7v-0.5m5 3.5v0.4m1 -3.4v-1.1m0 4.1v0.7m5 -3.7v-0.9m0 3.9v0.3m2 -3.3v-0.5m3 3.5v0.8m6 -3.8v-0.6m0 3.6v0.4m1 -3.4v-0.4m2 3.4v0.9m2 -0.9v0.4m2 -0.4v0.5m6 -0.5v0.3m3 -3.3v-1m5 1v-0.9m1 0.9v-0.7m1 3.7v1m1 -1v1.1m3 -1.1v1m1 -1v0.8m1 -0.8v1m6 -4v-0.4m1 0.4v-0.4m0 3.4v0.8m1 -3.8v-0.5m3 0.5v-0.6m0 3.6v1.1m3 -1.1v0.6m1 -0.6v0.8m1 -0.8v0.8m3 -3.8v-0.8m1 3.8v0.6m1 -3.6v-0.8m2 3.8v1m2 -4v-1m3 1v-0.7m1 3.7v0.4m4 -0.4v0.5m1 -3.5v-0.8m1 0.8v-0.6m1 0.6v-1m1 4v1.1m4 -1.1v0.6m2 -0.6v0.8m1 -3.8v-0.6m4 3.6v0.7m3 -0.7v0.7m1 -0.7v0.8m2 -3.8v-1m1 1v-0.9m1 0.9v-1m4 4v0.7m2 -3.7v-0.3m2 3.3v0.4m2 -0.4v0.7m4 -3.7v-0.7m1 0.7v-0.9m1 0.9v-0.5m5 3.5v0.7m1 -0.7v0.9m2 -0.9v0.9m2 -0.9v1m2 -4v-1m1 1v-0.9m1 0.9v-0.6m2 0.6v-1.1m0 4.1v0.9m1 -3.9v-0.7m3 3.7v0.9m4 -3.9v-0.4m1 3.4v0.7m2 -0.7v1.1m4 -4.1v-0.3m1 3.3v0.9m2 -3.9v-1m2 1v-0.7m1 0.7v-0.8m3 3.8v0.7m1 -3.7v-0.5m3 0.5v-0.4m10 0.4v-0.7m5 0.7v-1m6 4v0.4m6 -3.4v-0.4m1 3.4v0.5m5 -3.5v-1.1m1 1.1v-0.6m0 3.6v0.5m1 -0.5v1m2 -1v0.6m8 -3.6v-0.4m1 3.4v0.4m1 -3.4v-0.8m3 3.8v1m3 -1v0.8m8 -0.8v0.8m1 -0.8v1m4 -1v1m5 -4v-0.7m1 3.7v0.6m1 -0.6v0.7m4 -0.7v0.7m1 -3.7v-0.4m1 3.4v0.9m4 -3.9v-0.6m2 3.6v0.8m6 -3.8v-0.5m2 3.5v1m5 -1v0.5m5 -3.5v-0.8m1 3.8v0.5m2 -0.5v0.9m2 -0.9v0.8m1 -0.8v0.8m1 -3.8v-0.8m0 3.8v0.7m2 -0.7v1m9 -4v-0.6m0 3.6v0.9m5 -3.9v-0.8m8 0.8v-1m1 1v-0.7m3 0.7v-1.1m1 1.1v-0.8m2 0.8v-0.5m1 0.5v-0.3m1 0.3v-0.5m2 0.5v-0.9m0 3.9v0.8m4 -3.8v-0.9m0 3.9v0.4m2 -0.4v0.6m3 -3.6v-0.5m2 3.5v0.3m1 -3.3v-0.8m2 3.8v0.5m15 -0.5v0.8m1 -0.8v0.8m2 -0.8v0.6m1 -0.6v0.8m1 -3.8v-1m6 1v-0.9m0 3.9v1m5 -4v-1m2 1v-0.5m1 0.5v-0.7m1 3.7v0.8m1 -3.8v-0.9" fill="none" stroke="#0000ff" stroke-width="0.9"/>
<path d="M611 386.5L611 390.5L612 385.5L612 391L613 384.4L613 391.8L614 385L614 391.3L615 386.5L615 390.5M671 386.5L671 390.5L672 385.5L672 391L673 384.6L673 392L674 385L674 391.5L675 386.5L675 390.5" fill="none" stroke="#0000ff" stroke-width="1.75" stroke-linejoin="round"/>
<path d="M138.5 419.56l5 0.12l5 -0.01l5 0l5 -0.07l5 -0.02l5 0.17l5 -0.04l5 -0.16l5 0.03l5 0.03l5 0.02l5 -0.08l5 0.19l5 -0.05l5 -0.09l5 0.02l5 -0.06l5 0.02l5 0l5 0.15l5 -0.08l5 -0.12l5 0.19l5 -0.14l5 -0.07l5 0.16l5 0l5 0l5 -0.18l5 0.18l5 -0.19l5 0.09l5 0.07l5 -0.1l5 -0.1l5 0.03l5 -0.07l5 -0.01l5 -0.06l5 0.03l5 -0.1l5 -0.15l5 0.03l5 -0.09l5 -0.18l5 0.03l5 -0.11l5 -0.18l5 0.01l5 -0.09l5 -0.09l5 -0.02l5 -0.11l5 -0.03l5 -0.24l5 0.1l5 -0.06l5 -0.25l5 0.06l5 0.07l5 -0.16l5 0.15l5 -0.21l5 0.2l5 0.06l5 -0.05l5 0.01l5 0.07l5 0.02l5 0.05l5 0.18l5 0l5 0.13l5 -0.05l5 0.31l5 0.08l5 -0.08l5 0.19l5 0.03l5 0.14l5 -0.07l5 0.22l5 -0.02l5 0.09l5 0.06l5 -0.09l5 0.15l5 0.09l5 -0.1l5 0.1l5 0.05l5 -0.06l5 0.16l5 -0.1l5 0.06l5 0.04l5 -0.09l5 0.16l5 -0.18l5 0.04l5 0.15l5 -0.02l5 0.02l5 0.04l5 -0.04l5 0.02l5 -0.14l5 0.18l5 -0.06l5 -0.08l5 0.1l5 -0.13l5 0.14l5 -0.03l5 -0.13l5 0.18l5 -0.04l5 -0.07l5 0.09l5 -0.08l5 0.1l5 -0.21l5 0.01l5 0.15l5 -0.05l5 0.01l5 -0.05l5 0.09l5 0.07l5 -0.12l5 0.07l5 -0.09l5 0.02l5 0.01l5 0.08l5 -0.12l5 -0.07l5 0.17l5 0.03l5 0.01l5 -0.14l5 -0.04l5 -0.03l5 0.05l5 0.07l5 -0.06l5 0.03l5 0.06l5 -0.05l5 -0.03l5 -0.05l5 0.17l5 -0.2l5 0.12l5 0l5 0.09l5 -0.12l5 0.06l5 -0.03l5 0.07l5 -0.07l5 0.1l5 -0.09l5 -0.11l5 0.2l5 -0.2l5 -0.01l5 0.07l5 0.07l5 -0.01l5 -0.12l5 0.12l5 0.02l5 0l4 -0.02" fill="none" stroke="#008000" stroke-width="3.6"/>
<path d="M139 421.1v0.4m1 -3.4v-0.7m2 3.7v0.8m2 -3.8v-1m0 4v0.8m5 -0.8v0.6m1 -3.6v-0.5m4 0.5v-0.3m8 3.3v1m4 -4v-0.8m1 3.8v0.7m1 -0.7v0.3m1 -0.3v0.8m8 -0.8v0.6m3 -0.6v1.1m1 -1.1v0.4m1 -3.4v-0.8m0 3.8v0.9m2 -0.9v0.9m2 -0.9v1m1 -4v-0.6m6 0.6v-0.8m0 3.8v0.4m8 -0.4v1m2 -4v-0.6m3 3.6v0.5m5 -0.5v0.8m5 -0.8v0.4m1 -0.4v0.8m5 -0.8v0.3m2 -3.3v-0.8m1 0.8v-0.4m4 3.4v0.5m1 -3.5v-0.7m4 0.7v-0.6m4 0.6v-0.4m2 0.4v-0.5m3 0.5v-0.4m4 0.4v-0.9m1 3.9v0.3m2 -0.3v1m2 -4v-0.6m2 0.6v-0.9m2 0.9v-0.7m0 3.7v0.3m2 -0.3v1m4 -4v-0.5m1 0.5v-1.1m1 4.1v0.9m2 -0.9v0.5m1 -0.5v1.1m5 -1.1v1m2 -4v-0.5m0 3.5v0.3m1 -0.3v0.9m1 -3.9v-1.1m2 1.1v-1.1m1 4.1v0.5m5 -3.5v-1m0 4v0.3m2 -3.3v-1.1m2 1.1v-0.7m1 3.7v0.9m2 -3.9v-0.5m1 3.5v1m1 -4v-0.7m4 3.6v0.9m4 -3.9v-0.9m1 3.9v0.8m1 -0.8v0.6m8 -3.6v-0.9m0 3.9v0.9m7 -4v-0.6m2 3.6v0.6m7 -0.6v0.9m4 -4v-1.1m1 1.1v-0.5m2 0.5v-0.5m3 3.5v1m8 -4.1v-0.6m2 0.6v-0.6m1 3.5v0.4m2 -0.4v1.1m4 -4.1v-0.5m6 3.4v0.4m1 -3.4v-0.3m0 3.3v0.6m4 -0.7v0.9m2 -0.9v0.8m2 -3.9v-0.9m2 0.9v-0.9m1 0.9v-1.1m0 4.1v0.4m4 -3.5v-1m3 1v-0.7m5 0.6v-0.5m1 0.5v-0.8m4 3.7v0.8m3 -3.8v-0.4m0 3.4v1.1m7 -1.3v1m2 -4v-0.4m6 3.3v1.1m3 -4.1v-0.9m1 3.9v0.5m2 -3.6v-0.7m1 3.7v0.9m2 -3.9v-0.8m1 0.8v-0.6m2 3.5v0.5m1 -3.5v-0.9m3 0.9v-0.5m1 0.5v-1m3 4v0.9m5 -1v0.9m1 -0.9v0.9m2 -3.9v-0.6m4 3.6v0.6m6 -3.6v-0.7m1 3.6v0.4m2 -0.4v0.3m3 -3.3v-0.9m2 3.9v0.7m1 -3.7v-0.8m2 0.9v-0.8m3 0.8v-0.7m2 3.7v1m7 -4v-1m0 4v0.4m3 -0.4v0.6m7 -3.5v-1.1m0 4.1v0.4m1 -3.4v-0.7m2 0.7v-0.5m0 3.5v0.6m3 -3.5v-0.7m3 0.7v-0.6m1 0.6v-0.8m2 3.9v0.5m7 -3.4v-1m4 1v-0.8m0 3.8v0.7m1 -3.6v-0.8m2 0.8v-1.1m1 1.1v-0.4m0 3.4v0.8m1 -0.8v1.1m2 -4v-0.4m2 3.4v0.7m1 -3.7v-0.8m3 3.9v0.4m6 -3.3v-0.7m2 0.7v-0.3m1 3.3v0.4m2 -0.4v0.4m1 -0.3v0.6m2 -0.6v0.6m2 -3.6v-0.8m6 0.9v-1m2 4.1v0.4m2 -3.4v-0.7m2 0.7v-1.1m5 4.2v0.6m2 -3.6v-0.9m1 3.9v1m4 -0.9v0.7m1 -3.7v-0.5m1 0.5v-1m2 4v0.4m6 -3.3v-0.8m2 0.8v-0.3m3 0.3v-0.9m1 3.9v0.8m1 -3.8v-0.7m0 3.7v0.8m1 -3.7v-1.1m1 1.1v-0.3m4 3.3v0.7m3 -3.7v-0.4m1 0.4v-0.8m3 3.8v0.5m1 -3.4v-0.9m1 0.9v-0.6m0 3.6v0.8m2 -3.8v-1m2 4v0.8m3 -3.8v-0.4m0 3.4v0.6m1 -0.6v0.7m1 -0.7v0.4m2 -3.4v-1.1m5 4.1v0.4m2 -0.4v0.8m1 -0.7v0.7m5 -3.7v-0.8m2 0.8v-0.8m0 3.8v0.9m1 -0.9v0.8m1 -3.8v-0.9m1 0.9v-0.6m4 3.6v0.3m6 -0.3v0.6m2 -3.6v-0.6m0 3.6v0.7m1 -3.7v-1m1 4v0.6m1 -3.6v-0.6m5 0.6v-0.8m3 3.8v0.4m1 -3.4v-0.5m4 3.5v0.8m1 -0.8v0.6m1 -3.6v-1m2 1v-0.6m1 3.6v0.8m6 -3.8v-0.8m2 3.8v1m9 -1v0.9m1 -0.9v1m1 -1v0.8m2 -3.8v-0.9m2 0.9v-0.6m9 0.6v-0.8m1 3.8v0.5m1 -3.5v-0.5m3 3.5v0.8m4 -3.8v-0.7m0 3.7v1m3 -4v-0.4m4 3.4v0.7m2 -0.7v0.3m8 -3.3v-0.7m1 3.7v1m3 -1v0.5m3 -0.5v1m2 -4v-0.4m1 3.4v0.6m5 -0.6v0.7m5 -0.7v0.6m1 -3.6v-1m2 1v-0.7m2 0.7v-0.5m3 0.5v-0.6m2 0.6v-0.8m1 0.8v-1m3 4v0.6m2 -3.6v-0.6m4 3.6v0.8m2 -0.8v1m4 -4v-0.4m2 3.4v0.8m5 -3.8v-0.4m4 0.4v-1m1 4v0.7m4 -0.7v0.4m1 -3.4v-0.7m1 0.7v-0.7m2 0.7v-0.7m0 3.7v0.9m3 -0.9v0.4m5 -0.4v1m4 -1v0.6m2 -3.6v-0.8m1 0.8v-0.7m1 0.7v-1m2 1v-0.6m1 0.6v-0.7m2 0.7v-0.7m0 3.7v0.5m1 -0.5v0.9m1 -0.9v0.9m3 -3.9v-0.5m0 3.5v1.1m2 -1.1v0.8m1 -0.8v0.6m2 -0.6v1m4 -4v-0.5m2 0.5v-0.9m1 3.9v0.4m1 -3.4v-0.9m1 3.9v0.8m1 -3.8v-0.7m0 3.7v1m5 -1v0.6m1 -0.6v0.8m1 -3.8v-0.4m1 0.4v-0.9m1 0.9v-1m1 4v0.6m3 -3.6v-1m8 1v-0.7m1 0.7v-0.7m14 0.7v-0.9m0 3.9v0.8m1 -3.8v-0.7m1 0.7v-0.6m3 0.6v-0.3m4 0.3v-0.8m0 3.8v0.5m1 -3.5v-0.4m1 0.4v-1m2 4v0.7m1 -3.7v-0.9m0 3.9v1.1m2 -1.1v0.6m1 -0.6v0.9m6 -0.9v1m3 -4v-0.4m1 3.4v0.4m2 -3.4v-0.4m3 0.4v-0.6m2 0.6v-0.6m1 0.6v-0.5m2 0.5v-0.5m0 3.5v1.1m1 -4.1v-0.5m2 3.5v0.8m2 -3.8v-0.9m1 3.9v0.8m3 -0.8v0.9m1 -0.9v0.6m1 -3.6v-0.5m0 3.5v1.1m2 -4.1v-0.3m0 3.3v1.1m5 -1.1v0.5m6 -3.5v-0.9m1 0.9v-1m1 4v0.7m1 -3.7v-0.8m6 3.8v0.3m7 -0.3v0.7m3 -3.7v-1.1m1 1.1v-0.9m1 0.9v-1m2 1v-0.7m4 3.7v1m1 -4v-1m5 4v0.6m1 -0.6v0.5m4 -0.5v1m1 -4v-0.6m0 3.6v1m3 -4v-0.4m1 0.4v-0.5m3 3.5v0.4m2 -0.4v0.5m4 -0.5v0.7m3 -3.7v-0.7m1 3.7v0.3m1 -0.3v1m2 -4v-0.7m1 0.7v-0.9m6 0.9v-0.7m0 3.7v0.4m2 -0.4v1m1 -4v-0.4m5 0.4v-0.9m0 3.9v0.6m1 -3.6v-1m1 1v-0.9m3 0.9v-0.5m1 3.5v0.8m6 -3.8v-0.6m1 3.6v0.7m2 -0.7v0.5m10 -0.5v1m1 -1v0.7" fill="none" stroke="#008000" stroke-width="0.9"/>
<path d="M313 416.5L313 423L314 417L314 422.5M345 417L345 422M583 414L583 425L584 411L584 428L585 328L585 503.6L586 399L586 436.7L587 411L587 428L588 413L588 426L589 408L589 431L590 397.3L590 432.7L591 412L591 427L592 410L592 428L593 413L593 426L594 399L594 436.4L595 412L595 426L596 414L596 424L597 416.5L597 422M607 399L607 443.4M653 417.5L653 421.5M687 417L687 422M796 418.26L796 421.13L797 409.25L797 433.65L798 415.18L798 424.26L799 415.95L799 424.61L800 414.94L800 426.01L801 414.3L801 425.7L802 415.42L802 425.27L803 415.26L803 425.63L804 415.22L804 425.08L805 413.85L805 425.71L806 412.79L806 427.93L807 414.11L807 427.17L808 412.28L808 427.73L809 398.65L809 442.95L810 403.82L810 438.47L811 411.21L811 429.57L812 412.61L812 428.07L813 413.82L813 426.08L814 410.59L814 431.01L815 412.98L815 428.63L816 412.09L816 429.89L817 409.85L817 435.08L818 411.27L818 431.69L819 408.38L819 432.37L820 404.71L820 442.26L821 415.11L821 424.6L822 410.21L822 430.04L823 389.85L823 448.85L824 410.48L824 428.54L825 415.61L825 424.49L826 411.66L826 425.99L827 413.29L827 426.04L828 411.17L828 428.66L829 406.35L829 441.2L830 408.87L830 430.5L831 405.6L831 437.2L832 395.35L832 445.45L833 408.97L833 433.11L834 410.88L834 429.6L835 412.16L835 428.33L836 381.85L836 454.75L837 406.48L837 430.78L838 406.85L838 433.01L839 411.1L839 427.05L840 398.25L840 439.65L841 403.04L841 433.44L842 405.38L842 429.96L843 405.94L843 433.67L844 408.57L844 431.19L845 410.17L845 427.26L846 415.37L846 423.82L847 417.17L847 422.4L848 416.63L848 424.34L849 414.58L849 425.52L850 407.55L850 432.87L851 412.15L851 428.38L852 408.38L852 431.97L853 396.15L853 440.35L854 411.53L854 426.43L855 415.66L855 424.77L856 418.21L856 420.89L857 418.05L857 421.26L858 418.28L858 420.77L859 418.41L859 421.04L860 418.69L860 420.72L861 399.95L861 442.05L862 410.93L862 427.62L863 407.2L863 432.34L864 402.16L864 437.14L865 393.65L865 446.65L866 412.29L866 428.94L867 413.94L867 427.46L868 411.3L868 428.49L869 408.99L869 429.34L870 410.11L870 428.3L871 387.35L871 453.45L872 407.83L872 428.7L873 417.06L873 421.83L874 418.46L874 420.94L875 417.98L875 421.16L876 412.35L876 425.42L877 414.46L877 425.08L878 412.08L878 425.6L879 417.97L879 421.79L880 418.43L880 420.96L881 417.79L881 421.9L882 417.25L882 421.95L883 383.95L883 448.85L884 412.97L884 425.44L885 412.36L885 424.61L886 415.4L886 423.92L887 414.1L887 423.42L888 415.76L888 423.45L889 410.6L889 427.14L890 412.23L890 427.32L891 413.63L891 424.9L892 407.95L892 429.66L893 411.63L893 430.4L894 413.1L894 428.35L895 410.75L895 430.35L896 412.38L896 426.23L897 402.45L897 431.45L898 412.82L898 424.25L899 407.87L899 427.08L900 408.66L900 426.51L901 414.64L901 423.97L902 413.68L902 425.32L903 417.94L903 420.89L904 417.29L904 421.46L905 417.13L905 422.32L906 418.23L906 421.07L907 417.13L907 421.96L908 406.13L908 429.72L909 389.45L909 444.15L910 408.04L910 428.75L911 403.38L911 436.01L912 408.88L912 431.89L913 405.03L913 437.63L914 412.86L914 426.48L915 413.63L915 424.32L916 413.44L916 426.54L917 401.15L917 433.15L918 416.02L918 422.93L919 415.59L919 424.28L920 416.76L920 423.03L921 415.25L921 424.73L922 413.52L922 428.3L923 405.35L923 442.95L924 417.79L924 421.54L925 417.8L925 421.31" fill="none" stroke="#008000" stroke-width="1.75" stroke-linejoin="round"/>
<path d="M138.5 451.5l5 -0.05l5 -0.06l5 -0.07l5 0l5 0.02l5 0.15l5 -0.15l5 0.12l5 0.02l5 -0.05l5 -0.05l5 0.08l5 0.03l5 -0.07l5 0.01l5 0.03l5 -0.19l5 0.07l5 0.1l5 -0.08l5 0.01l5 -0.07l5 0.13l5 -0.02l5 -0.18l5 0.04l5 0.01l5 -0.01l5 0.06l5 -0.01l5 -0.01l5 -0.17l5 0.01l5 0.03l5 0.13l5 -0.13l5 0.24l5 -0.13l5 0.1l5 0.12l5 0.25l5 -0.05l5 0.1l5 0.11l5 0.25l5 -0.02l5 0.16l5 0.31l5 0.05l5 0.06l5 0.17l5 0.12l5 -0.13l5 0.23l5 -0.15l5 0.22l5 -0.09l5 0.07l5 -0.03l5 -0.21l5 -0.14l5 -0.06l5 0l5 -0.09l5 -0.08l5 -0.33l5 -0.16l5 -0.04l5 -0.12l5 -0.08l5 -0.23l5 -0.21l5 0.01l5 -0.05l5 -0.15l5 -0.13l5 -0.22l5 -0.01l5 -0.17l5 0.03l5 0.01l5 -0.06l5 -0.15l5 -0.06l5 0.12l5 -0.09l5 -0.06l5 0.01l5 -0.17l5 0.16l5 -0.06l5 0.04l5 -0.15l5 0.07l5 -0.08l5 0.14l5 -0.14l5 -0.02l5 0.01l5 0.06l5 -0.05l5 0.03l5 0.13l5 -0.14l5 -0.07l5 0.02l5 0.19l5 -0.22l5 0.03l5 -0.01l5 0.12l5 0.04l5 0l5 -0.11l5 0.01l5 0.15l5 -0.06l5 -0.03l5 -0.13l5 0.07l5 -0.07l5 0.01l5 0.06l5 -0.05l5 0.08l5 0.05l5 -0.13l5 0.11l5 -0.13l5 0.04l5 -0.03l5 0.14l5 -0.03l5 0.08l5 -0.08l5 0.03l5 0.07l5 -0.02l5 0l5 -0.06l5 -0.01l5 0.06l5 -0.03l5 -0.12l5 0.08l5 0.1l5 -0.05l5 -0.16l5 0.13l5 0.06l5 -0.12l5 0.02l5 -0.07l5 0.19l5 -0.06l5 -0.12l5 0.05l5 0.04l5 0l5 -0.09l5 0.07l5 0.03l5 0.05l5 -0.09l5 0.1l5 -0.18l5 0.17l5 -0.09l5 0.04l5 -0.03l5 0.06l5 -0.14l5 0.09l5 0.01l4 -0.11" fill="none" stroke="#000000" stroke-width="4.02"/>
<path d="M140 449.7v-1m1 1v-1.1m0 4.5v0.4m8 -0.4v0.6m1 -0.6v0.9m2 -0.9v0.4m2 -3.8v-0.4m0 3.8v0.5m1 -0.5v0.9m6 -4.3v-0.9m0 4.3v0.6m1 -0.6v0.9m2 -0.9v0.3m3 -0.3v0.9m1 -4.3v-0.5m2 0.5v-0.4m0 3.8v0.5m5 -3.9v-0.7m1 4.1v0.6m1 -4v-1.1m0 4.5v1m2 -4.4v-0.8m2 0.8v-0.3m0 3.7v0.7m1 -4.1v-0.5m1 3.9v1m4 -1v0.7m2 -0.7v0.6m2 -4v-0.9m0 4.3v0.7m1 -4.1v-1.1m2 1.1v-0.9m0 4.3v0.5m7 -3.9v-0.4m0 3.8v1m3 -4.4v-0.5m0 3.9v0.7m5 -4.1v-0.6m2 4v1m1 -1v0.8m5 -0.8v1m2 -1v1.1m1 -4.5v-1m2 4.4v0.6m4 -0.6v0.3m2 -0.3v0.7m6 -0.7v0.7m1 -0.7v0.6m2 -4v-0.6m9 4v0.8m1 -0.8v0.7m11 -0.7v0.7m6 -0.8v0.8m1 -4.2v-0.3m2 0.3v-0.9m1 4.3v0.4m5 -0.4v0.9m4 -0.9v0.5m1 -0.5v0.8m2 -4.2v-0.7m3 0.7v-0.6m3 4v0.5m2 -4v-0.4m1 3.9v0.7m1 -4.2v-0.8m5 0.8v-0.6m0 4v0.5m3 -0.5v0.8m4 -4.2v-1m0 4.4v0.5m1 -0.5v0.5m1 -3.9v-0.4m3 0.4v-0.4m1 0.4v-1m1 4.4v0.4m2 -3.8v-0.3m0 3.7v0.4m3 -0.3v0.4m1 -0.4v0.3m4 -0.3v0.6m2 -0.6v0.3m2 -3.7v-0.6m5 0.7v-0.3m1 3.7v0.9m1 -4.3v-1.1m2 4.5v0.3m1 -0.2v0.5m2 -3.9v-0.4m7 0.5v-0.7m3 0.8v-1m2 4.4v0.9m2 -0.8v1m1 -1v1m2 -4.4v-0.5m3 0.6v-0.6m1 0.6v-0.8m2 4.3v0.8m1 -0.8v0.9m2 -4.2v-0.9m0 4.3v0.7m4 -0.6v1m3 -0.9v0.9m1 -4.3v-0.5m2 3.9v1m3 -4.3v-1m5 1.1v-1m2 4.5v0.9m2 -4.3v-1m4 4.5v0.3m3 -3.6v-0.7m3 0.7v-0.7m2 4.2v0.9m2 -4.3v-1m2 4.4v0.7m2 -4v-1m1 4.4v0.8m2 -4.2v-0.4m0 3.8v0.5m2 -0.5v0.5m4 -3.9v-0.9m11 1v-1m4 1v-0.9m1 0.9v-1m2 1v-0.6m3 0.5v-0.6m2 4v0.8m1 -4.2v-1m2 1v-0.9m0 4.3v1.1m1 -1.1v0.9m2 -4.4v-1m7 0.9v-0.7m2 0.7v-1m0 4.4v0.7m5 -0.8v0.4m6 -0.5v1.1m8 -4.8v-0.4m1 0.4v-0.8m6 0.7v-0.5m2 3.8v0.9m12 -1.2v0.9m2 -4.4v-0.7m1 4.1v1m6 -1.2v0.4m1 -3.8v-1m0 4.4v0.5m1 -0.5v0.8m5 -4.4v-0.8m1 4.2v0.7m3 -4.2v-0.6m0 4.1v0.8m1 -4.3v-0.7m0 4.1v1.1m2 -1.1v0.8m4 -0.9v0.8m4 -0.9v0.4m1 -3.8v-0.8m3 0.7v-1m5 0.9v-1m5 1v-0.3m2 0.2v-0.9m2 0.9v-1m2 1v-0.5m2 3.9v1m4 -4.5v-0.5m1 0.5v-0.9m4 0.8v-1m3 1v-0.5m0 3.9v0.7m1 -0.7v0.8m2 -0.8v0.4m4 -0.4v0.8m1 -0.8v0.6m1 -4v-0.3m3 0.2v-0.9m4 0.9v-0.8m2 4.2v0.9m1 -4.3v-0.8m0 4.2v1m1 -4.4v-0.5m0 3.9v0.6m2 -4v-1m3 4.4v0.7m10 -4.2v-0.3m1 3.8v0.3m2 -3.8v-1m3 1v-0.4m1 3.8v0.4m5 -3.8v-0.7m2 4.1v0.4m2 -3.8v-0.8m4 0.8v-1.1m0 4.5v1.1m5 -4.5v-1.1m2 1.1v-0.5m1 0.5v-0.5m0 3.9v0.9m1 -4.3v-0.4m2 3.8v0.6m6 -0.6v1m1 -4.4v-0.9m1 0.9v-0.7m9 4.1v1m5 -1v0.4m1 -0.4v0.7m2 -4.1v-0.9m0 4.3v1m2 -1v0.5m1 -0.5v0.8m1 -4.2v-0.3m0 3.7v0.8m6 -4.2v-0.6m1 0.6v-1m0 4.4v0.4m4 -0.4v0.4m1 -3.8v-0.3m0 3.7v0.7m7 -4.1v-0.6m6 0.6v-1m3 1v-0.8m9 0.8v-0.5m5 0.5v-0.7m1 0.7v-0.9m9 0.9v-0.9m2 4.3v0.5m1 -3.9v-0.6m2 0.6v-0.7m3 4.1v1m1 -4.4v-0.8m1 4.2v0.6m7 -0.6v1.1m1 -1.1v0.8m1 -0.8v0.8m6 -0.8v0.7m1 -4.1v-0.7m8 4.1v0.5m1 -0.5v0.3m4 -3.7v-0.9m4 4.3v0.7m7 -0.7v0.4m2 -0.4v1m1 -4.4v-0.7m1 0.7v-1.1m1 4.5v0.4m3 -3.8v-0.7m1 0.7v-0.9m2 0.9v-0.5m0 3.9v0.6m6 -4v-0.7m1 0.7v-1.1m0 4.5v0.6m5 -4v-0.7m4 4.1v0.6m2 -4v-0.4m2 0.4v-0.3m9 0.3v-0.6m1 0.6v-0.8m0 4.2v0.5m2 -3.9v-1.1m3 1.1v-0.3m2 0.3v-0.3m1 0.3v-1m0 4.4v0.8m1 -4.2v-0.7m4 4.1v0.7m2 -4.1v-0.8m1 0.8v-0.6m0 4v0.9m1 -4.3v-1m1 4.4v0.8m1 -0.8v1.1m1 -4.5v-0.8m0 4.2v0.7m2 -4.1v-0.5m3 0.5v-1m1 4.4v0.6m2 -0.6v0.8m2 -0.8v0.6m2 -4v-0.8m6 4.2v0.6m2 -0.6v0.7m2 -0.7v0.9m1 -4.3v-1m0 4.4v0.4m4 -0.4v0.5m2 -3.9v-0.3m0 3.7v0.5m1 -0.5v0.9m1 -0.9v0.6m2 -0.6v0.5m2 -3.9v-0.4m0 3.8v0.9m1 -4.3v-1m1 4.4v0.6m1 -4v-0.3m1 3.7v0.7m4 -4.1v-0.4m2 3.8v1m1 -1v0.7m1 -0.7v0.9m4 -0.9v0.5m4 -3.9v-0.4m1 3.8v0.5m3 -3.9v-0.3m0 3.7v0.5m1 -3.9v-0.6m4 0.6v-0.7m7 0.7v-0.5m3 0.5v-0.4m4 0.4v-0.4m7 0.4v-0.4m1 0.4v-0.8m2 0.8v-0.4m1 0.4v-0.5m2 0.5v-0.8m1 0.8v-0.7m2 4.1v0.8m7 -4.2v-0.5m0 3.9v1m1 -1v0.8m7 -0.8v0.9m1 -0.9v1.1m1 -1.1v0.5m1 -3.9v-0.7m1 0.7v-1.1m0 4.5v0.3m2 -3.7v-0.7m1 0.7v-0.5m5 3.9v0.6m2 -4v-0.8m2 4.2v0.9m2 -0.9v0.3m6 -3.7v-1m1 1v-0.4m0 3.8v0.4m7 -0.4v0.8m2 -4.2v-0.8m4 4.2v0.6m2 -4v-0.8m1 4.2v1m1 -1v0.8m1 -0.8v0.3m1 -0.3v0.6m5 -4v-0.7m1 4.1v0.9m1 -0.9v0.9m1 -4.3v-0.5m5 3.9v1m1 -4.4v-0.3m0 3.7v0.9m2 -0.9v1m2 -1v0.7m3 -0.7v0.4m4 -0.4v1.1m1 -1.1v0.6m1 -4v-0.5m8 0.5v-0.7m2 4.1v1.1m2 -4.5v-0.7m1 4.1v0.5m1 -3.9v-0.7m3 4.1v0.9m1 -4.3v-1.1m0 4.5v0.9m1 -0.9v0.3m2 -0.3v0.4" fill="none" stroke="#000000" stroke-width="0.9"/>
<path d="M207 449.5L207 455M212 447.5L212 453L213 447.36L213 455.39L214 448.08L214 454.23L215 443.26L215 458.26L216 438.65L216 463.8L217 436.1L217 463.79L218 440.23L218 462.99L219 435.19L219 469.66L220 444.19L220 457.85L221 444.11L221 459.21L222 435.98L222 469.67L223 437.39L223 466.92L224 445.15L224 457.93L225 441.22L225 461.51L226 441.96L226 460.65L227 439.52L227 462.29L228 441.89L228 461.92L229 441.17L229 463.79L230 442.17L230 461.59L231 441.44L231 460.43L232 431.31L232 471.48L233 430.16L233 476.14L234 433.5L234 469.52L235 427.13L235 474.09L236 434.81L236 472.07L237 447.49L237 454.8L238 448.51L238 453.97L239 449L239 453.32L240 442.97L240 462.24L241 442.36L241 461.52L242 431.6L242 476.06L243 432.98L243 471.66L244 430.55L244 475.69L245 436.58L245 468.1L246 442.19L246 461.49L247 440.06L247 464.13L248 440.96L248 464.15L249 437.47L249 468.31L250 432.14L250 473.52L251 434.66L251 474.83L252 428.66L252 476.47L253 437.66L253 465.36L254 435.24L254 469.39L255 441.33L255 462.87L256 444.05L256 459.53L257 442.56L257 460.09L258 429.23L258 477.64L259 440.5L259 465.62L260 441.46L260 464.64L261 436.64L261 468.88L262 442.87L262 462.02L263 432.47L263 475.75L264 428.45L264 479.21L265 437.25L265 472.98L266 425.93L266 484.51L267 440.31L267 465.04L268 431.39L268 476.18L269 439.67L269 466.9L270 425.88L270 480.91L271 429.5L271 473.59L272 436.3L272 467.19L273 444.14L273 459.31L274 430.66L274 472.58L275 425.94L275 480.95L276 439.15L276 465.36L277 441.73L277 463.5L278 427.48L278 476.83L279 432.12L279 469.8L280 431.47L280 473.84L281 432.03L281 472.06L282 446.18L282 458.29L283 445.54L283 458.52L284 445.22L284 458.02L285 448.33L285 455.05L286 446.33L286 458.41L287 445.19L287 458.47L288 436.75L288 467.64L289 427.38L289 478.56L290 429.3L290 480.28L291 432.24L291 473.9L292 440.18L292 465.32L293 440.19L293 463.13L294 430.14L294 476.88L295 432.91L295 470.33L296 429.16L296 477.54L297 437.57L297 469.27L298 448.82L298 453.79L299 448.7L299 453.75M301 449L301 454L302 446.5L302 455.5L303 449L303 454" fill="none" stroke="#000000" stroke-width="1.75" stroke-linejoin="round"/>
<path d="M138.5 482.82l5 -0.12l5 0.04l5 -0.07l5 0.18l5 -0.01l5 -0.11l5 -0.09l5 0.01l5 0.15l5 -0.01l5 0.01l5 -0.11l5 -0.02l5 0.03l5 0.14l5 -0.13l5 0.08l5 0.02l5 -0.17l5 0.06l5 0.12l5 -0.16l5 0.07l5 0.07l5 -0.15l5 0.13l5 -0.11l5 0.03l5 0.01l5 0.11l5 0.02l5 -0.02l5 -0.09l5 -0.02l5 0.13l5 -0.14l5 0.02l5 0.12l5 -0.22l5 0.12l5 0.09l5 -0.1l5 0.05l5 0.01l5 0.03l5 -0.08l5 -0.12l5 0.08l5 0.07l5 -0.12l5 0.14l5 0.04l5 0l5 -0.19l5 0.17l5 -0.05l5 0.02l5 -0.06l5 0.01l5 -0.08l5 0.15l5 -0.04l5 -0.08l5 0.12l5 -0.17l5 0.12l5 0.05l5 -0.15l5 0.13l5 -0.12l5 0.1l5 0.06l5 -0.13l5 0.08l5 0.01l5 0.03l5 0.04l5 -0.21l5 0.13l5 -0.15l5 0.08l5 0.09l5 0.05l5 -0.06l5 0.07l5 -0.23l5 0.03l5 -0.03l5 0.13l5 0.09l5 -0.2l5 0l5 0.08l5 0.11l5 -0.02l5 -0.07l5 -0.06l5 -0.03l5 0.07l5 0.05l5 -0.11l5 0.18l5 0l5 -0.05l5 0.03l5 0l5 -0.17l5 0.04l5 0.05l5 -0.03l5 0.06l5 -0.09l5 -0.06l5 0.15l5 -0.09l5 -0.04l5 0.04l5 0.05l5 0.03l5 -0.01l5 0.02l5 -0.04l5 0.02l5 -0.11l5 0.19l5 -0.2l5 0.14l5 -0.08l5 -0.07l5 0.16l5 0.02l5 -0.04l5 -0.02l5 0.01l5 -0.1l5 0.01l5 0.02l5 -0.05l5 0.15l5 -0.13l5 0.11l5 -0.12l5 0.02l5 0.11l5 -0.07l5 -0.08l5 0.19l5 0.02l5 -0.13l5 0.15l5 0l5 -0.23l5 0.18l5 -0.16l5 0.09l5 -0.06l5 0.07l5 -0.03l5 0.11l5 -0.16l5 0.1l5 -0.12l5 0.19l5 -0.13l5 0.01l5 -0.02l5 0.14l5 -0.05l5 0.05l5 -0.03l5 -0.16l5 0.15l5 -0.13l5 0.05l4 -0.05" fill="none" stroke="#ff0000" stroke-width="3.6"/>
<path d="M139 484.2v0.5m6 -3.5v-0.5m1 0.5v-0.4m4 0.4v-1m3 4v0.7m2 -3.7v-0.5m2 3.5v0.6m1 -0.6v1m1 -4v-0.8m1 3.8v0.4m3 -3.4v-0.7m5 3.7v0.4m7 -3.4v-0.8m5 3.8v0.8m3 -3.8v-0.8m1 0.8v-0.8m0 3.8v0.7m1 -3.7v-0.7m0 3.7v0.8m2 -3.8v-0.5m1 3.5v0.7m2 -0.7v0.5m2 -3.5v-1.1m1 1.1v-0.6m0 3.6v0.6m3 -3.6v-0.7m3 3.7v0.9m1 -3.9v-0.9m5 3.9v0.5m1 -3.5v-0.7m1 0.7v-0.4m6 3.4v0.4m4 -0.4v0.5m2 -3.5v-0.7m6 0.7v-0.3m1 3.3v1m1 -1v0.7m2 -0.7v0.4m3 -0.4v0.3m2 -0.3v0.7m5 -0.7v1.1m1 -1.1v0.4m1 -3.4v-0.9m2 3.9v0.6m2 -0.6v0.7m2 -3.7v-0.3m0 3.3v0.4m3 -3.4v-1m3 1v-0.5m1 3.5v1.1m6 -4.1v-0.5m1 0.5v-1m1 1v-1m0 4v0.5m2 -0.5v0.4m1 -3.4v-0.9m2 3.9v0.5m4 -3.5v-0.3m1 3.3v0.9m2 -0.9v1m2 -1v0.5m4 -0.5v0.7m2 -3.7v-0.5m1 0.5v-0.4m2 3.4v0.5m6 -3.5v-0.7m0 3.7v0.3m2 -3.3v-0.7m5 3.7v0.7m1 -3.7v-0.9m0 3.9v0.7m2 -3.7v-0.4m0 3.4v0.4m7 -3.4v-0.4m0 3.4v0.5m1 -3.5v-0.8m1 0.8v-0.4m4 3.4v0.9m4 -3.9v-0.8m1 3.8v0.9m2 -3.9v-0.9m2 3.9v0.6m1 -3.6v-0.9m2 3.9v1.1m6 -4.1v-0.7m2 3.7v0.6m2 -3.6v-0.3m1 3.3v0.4m1 -0.4v0.6m5 -0.6v1m11 -1v1m1 -4v-0.4m11 3.4v1.1m15 -4.1v-0.6m1 0.6v-0.6m2 3.6v0.4m1 -0.4v0.5m2 -3.5v-1m1 1v-0.8m6 3.8v0.7m2 -3.7v-0.5m5 0.5v-1m0 4v0.9m6 -3.9v-0.5m5 0.5v-0.7m1 0.7v-1m1 1v-0.4m1 3.4v0.9m2 -3.9v-0.4m1 0.4v-0.7m1 3.7v0.5m3 -3.5v-0.6m3 0.6v-0.8m3 0.8v-0.5m1 0.5v-1m6 4v0.9m3 -3.9v-0.9m1 3.9v0.6m1 -3.6v-1.1m1 4.1v0.9m2 -3.9v-0.4m2 3.4v1m3 -1v0.7m1 -3.7v-0.5m1 3.5v0.6m1 -3.6v-0.6m3 0.6v-1m0 4v0.5m6 -0.5v1m2 -4v-0.7m0 3.7v0.4m3 -3.4v-0.8m0 3.8v0.7m2 -0.7v1m1 -1v0.9m2 -0.9v0.9m5 -3.9v-0.4m0 3.4v0.7m5 -3.7v-0.6m3 0.6v-0.8m5 3.8v0.6m3 -0.6v0.5m1 -3.5v-0.4m2 0.4v-0.5m0 3.5v0.3m3 -3.3v-0.7m1 3.7v0.3m5 -0.3v1m1 -4v-0.4m0 3.4v0.8m3 -0.8v0.9m5 -3.9v-0.7m0 3.7v0.4m1 -3.4v-0.4m4 0.4v-0.4m0 3.4v0.6m3 -0.6v0.5m1 -0.5v0.7m1 -3.7v-1m0 4v0.6m2 -0.6v1m6 -4v-1m2 1v-0.5m0 3.5v0.9m1 -0.9v0.6m3 -3.6v-0.8m1 0.8v-0.3m0 3.3v0.5m3 -0.5v0.9m2 -0.9v0.5m1 -3.5v-0.9m0 3.9v0.4m2 -0.4v0.8m1 -3.8v-0.7m4 3.7v1m2 -4v-0.7m0 3.7v0.5m1 -0.5v0.3m1 -0.3v0.7m1 -0.7v0.4m3 -3.4v-0.3m7 0.3v-0.9m1 0.9v-0.9m0 3.9v0.8m1 -3.8v-0.4m2 0.4v-1m2 1v-0.8m0 3.8v0.4m1 -3.4v-0.6m4 0.6v-0.4m3 0.4v-0.5m1 3.5v0.5m4 -3.5v-0.7m6 3.7v0.4m1 -0.4v0.9m10 -0.9v0.6m2 -3.6v-0.6m2 0.6v-0.6m11 3.6v0.9m5 -0.9v1.1m2 -4.1v-1.1m1 4.1v1m3 -4v-1m2 4v0.3m3 -3.3v-1m5 1v-0.5m2 0.5v-1.1m6 4.1v1m5 -4v-0.5m3 3.5v0.8m2 -0.8v0.7m1 -3.7v-1m0 4v1.1m1 -1.1v0.8m1 -0.8v0.5m6 -3.5v-0.8m0 3.8v0.4m1 -0.4v1.1m2 -4.1v-0.5m2 3.5v1m5 -4v-0.8m3 3.8v0.9m3 -3.9v-1m0 4v0.9m6 -3.9v-0.6m7 0.6v-0.5m3 3.5v0.4m5 -3.4v-0.7m1 0.7v-1m1 1v-0.5m1 3.5v0.4m1 -3.4v-1m1 1v-0.7m1 3.7v0.5m2 -3.5v-0.7m4 0.7v-0.4m10 0.4v-0.9m2 3.9v0.8m3 -0.8v0.4m7 -3.4v-1m1 1v-0.9m1 0.9v-1.1m2 4.1v0.4m4 -3.4v-0.5m4 0.5v-0.4m6 3.4v1m1 -4v-0.4m4 0.4v-1.1m0 4.1v0.8m1 -0.8v0.7m1 -3.7v-1.1m4 1.1v-0.9m0 3.9v0.8m1 -3.8v-0.6m0 3.6v0.3m2 -3.3v-0.9m1 3.9v0.7m1 -3.7v-0.7m0 3.7v0.4m2 -3.4v-0.4m2 3.4v1.1m2 -1.1v0.5m6 -0.5v0.5m3 -3.5v-0.5m2 0.5v-0.9m0 3.9v0.9m6 -3.9v-1m0 4v0.5m3 -0.5v0.9m2 -0.9v0.4m2 -3.4v-0.5m11 3.5v0.6m5 -3.6v-0.8m5 3.8v0.7m4 -0.7v1m1 -4v-1m2 4v0.7m1 -3.7v-0.5m0 3.5v1m1 -4v-0.4m1 0.4v-1m5 4v1m2 -4v-1m3 1v-0.4m1 0.4v-0.6m2 3.6v0.6m2 -0.6v0.3m4 -0.3v0.9m1 -3.9v-0.6m1 0.6v-0.4m2 0.4v-0.3m0 3.3v0.7m1 -0.7v0.9m5 -3.9v-0.8m5 0.8v-1m1 4v0.4m3 -0.4v0.9m4 -3.9v-0.7m2 0.7v-0.9m2 0.9v-0.9m2 0.9v-0.9m1 3.9v0.4m3 -0.4v0.8m2 -3.8v-0.5m2 0.5v-0.5m1 0.5v-0.7m6 0.7v-1m2 1v-0.5m3 3.5v1m1 -4v-0.4m2 3.4v0.8m2 -0.8v0.9m3 -0.9v0.6m1 -3.6v-0.6m6 0.6v-1m1 1v-0.7m5 0.7v-0.9m1 3.9v1.1m3 -4.1v-0.8m2 3.8v0.6m1 -3.6v-0.4m2 0.4v-0.6m2 0.6v-0.8m2 3.8v1m4 -4v-0.9m2 0.9v-1.1m5 1.1v-1m0 4v0.9m1 -0.9v0.3m10 -3.3v-0.5m5 3.5v0.4m5 -0.4v0.4m1 -3.4v-0.5m4 0.5v-0.8m8 3.8v1.1m2 -4.1v-0.7m3 3.7v0.6m1 -3.6v-0.9m3 3.9v0.5m2 -3.5v-0.8m0 3.8v0.8m2 -3.8v-0.4m1 0.4v-0.6m1 0.6v-0.6m1 0.6v-1m0 4v1.1m2 -4.1v-0.4m1 0.4v-0.4m4 0.4v-1m3 4v0.6m1 -3.6v-1m0 4v0.6m1 -0.6v0.8m1 -3.8v-0.5m1 3.5v0.3m1 -3.3v-0.5m0 3.5v0.5m1 -0.5v0.5m2 -0.5v0.9" fill="none" stroke="#ff0000" stroke-width="0.9"/>
<path d="M138.5 514.18l5 0.18l5 -0.14l5 0l5 0.06l5 -0.11l5 0.06l5 -0.02l5 -0.04l5 0.02l5 0.19l5 -0.11l5 0.06l5 0l5 -0.12l5 -0.02l5 0.07l5 0.02l5 -0.06l5 -0.02l5 0.15l5 -0.07l5 0l5 -0.09l5 0.19l5 -0.08l5 0.07l5 0l5 -0.04l5 -0.12l5 -0.05l5 0.01l5 0.03l5 0.01l5 0.14l5 -0.11l5 -0.07l5 0.04l5 0.08l5 0.09l5 -0.19l5 -0.02l5 0.1l5 0.09l5 -0.01l5 -0.1l5 0.05l5 0.02l5 -0.12l5 0.18l5 -0.01l5 -0.14l5 0.08l5 0.06l5 0l5 -0.14l5 0l5 -0.04l5 0.18l5 -0.1l5 -0.09l5 0.09l5 0.02l5 -0.05l5 0.02l5 0.04l5 0l5 -0.03l5 -0.04l5 0.05l5 0.11l5 -0.21l5 0.01l5 0.01l5 0.04l5 -0.03l5 0.1l5 -0.07l5 0l5 -0.07l5 0.15l5 -0.06l5 0.01l5 0.03l5 -0.07l5 0.05l5 -0.04l5 -0.04l5 -0.03l5 0.12l5 0.09l5 -0.17l5 0.01l5 0.14l5 -0.02l5 -0.01l5 0.03l5 -0.04l5 -0.13l5 0.2l5 -0.02l5 0.02l5 -0.05l5 0.06l5 -0.22l5 0.2l5 -0.14l5 0.1l5 -0.08l5 0.07l5 -0.13l5 0.15l5 -0.13l5 -0.05l5 0.03l5 -0.01l5 0.03l5 0l5 -0.03l5 0.1l5 -0.06l5 0.09l5 -0.01l5 -0.06l5 0.1l5 -0.04l5 -0.1l5 0.11l5 0.03l5 -0.06l5 -0.13l5 0.01l5 0.13l5 -0.09l5 -0.02l5 0.11l5 -0.08l5 -0.05l5 0.06l5 -0.03l5 0.03l5 0.11l5 -0.16l5 0.08l5 0l5 0.03l5 0.06l5 0.01l5 -0.07l5 -0.08l5 0.08l5 0.01l5 -0.1l5 0.17l5 0l5 -0.1l5 0.01l5 -0.03l5 0.09l5 -0.07l5 -0.06l5 -0.04l5 0.14l5 -0.13l5 0.22l5 -0.11l5 0.06l5 -0.04l5 0.04l5 -0.03l5 0.02l5 0l5 0.03l5 -0.19l5 0.16l4 -0.07" fill="none" stroke="#0000ff" stroke-width="3.6"/>
<path d="M144 512.8v-0.8m2 0.8v-0.8m0 3.8v0.8m1 -3.8v-0.8m4 3.8v1m1 -1v0.8m1 -0.8v0.7m6 -0.7v0.5m9 -3.5v-0.9m2 3.9v0.7m7 -3.7v-0.5m1 3.5v0.6m3 -0.6v0.8m4 -3.8v-1.1m0 4.1v0.8m3 -3.8v-0.5m2 3.5v0.5m3 -0.5v0.4m1 -3.4v-0.9m0 3.9v0.7m3 -3.7v-0.7m2 0.7v-0.6m3 3.6v0.8m1 -3.8v-0.8m7 3.8v1.1m1 -4.1v-1m0 4v0.7m2 -3.7v-0.6m1 0.6v-0.6m3 3.6v0.8m1 -3.8v-0.3m0 3.3v0.6m2 -0.6v0.7m4 -3.7v-0.3m1 3.3v1m2 -1v1.1m3 -1.1v1m1 -4v-0.6m0 3.6v0.5m1 -0.5v0.6m2 -3.6v-1m0 4v1m2 -4v-0.5m1 0.5v-0.8m3 0.8v-0.8m1 3.8v0.4m1 -3.4v-0.8m0 3.8v0.7m7 -3.7v-0.7m6 3.7v0.7m4 -0.7v1m1 -1v0.4m3 -0.4v0.8m9 -0.8v0.6m1 -0.6v0.3m1 -0.3v0.9m1 -0.9v0.9m1 -0.9v0.7m1 -0.7v0.7m3 -0.7v0.9m2 -0.9v1m5 -1v0.8m3 -3.8v-0.8m1 0.8v-0.6m5 3.6v0.4m1 -3.4v-0.3m3 3.3v0.9m2 -3.9v-0.8m8 3.8v0.6m1 -0.6v0.5m1 -3.5v-0.8m0 3.8v0.3m2 -0.3v0.7m1 -0.7v0.3m4 -3.3v-0.8m2 0.8v-0.9m3 0.9v-0.8m1 0.8v-0.8m4 3.8v1.1m3 -1.1v0.3m2 -3.3v-0.5m3 0.5v-1m0 4v0.4m2 -0.4v0.3m2 -3.3v-0.8m0 3.8v1m1 -1v0.7m1 -0.7v0.7m1 -0.7v0.4m1 -3.4v-0.4m3 3.4v0.8m2 -3.8v-1m3 1v-0.7m2 3.7v0.3m2 -3.3v-1m1 1v-0.9m1 3.9v0.9m7 -3.9v-0.4m12 3.4v0.5m6 -3.5v-0.7m3 3.7v0.9m2 -0.9v0.3m3 -0.3v0.8m1 -3.8v-1m1 4v0.7m4 -0.7v0.9m4 -3.9v-0.8m1 0.8v-0.9m0 3.9v0.5m2 -3.5v-0.9m1 0.9v-0.3m0 3.3v0.7m2 -3.7v-0.5m3 0.5v-0.5m1 0.5v-0.6m5 0.6v-0.6m1 0.6v-0.9m7 0.9v-1m1 4v0.6m1 -0.6v0.6m7 -3.6v-1m2 1v-0.3m6 0.3v-0.6m1 0.6v-0.4m3 3.4v0.5m1 -3.5v-0.8m2 3.8v0.6m2 -0.6v0.8m4 -3.8v-0.6m2 3.6v0.3m1 -3.3v-1m1 1v-1m0 4v1m1 -1v1.1m5 -4.1v-0.7m2 0.7v-0.7m1 0.7v-0.8m6 0.8v-0.7m1 0.7v-1.1m1 1.1v-0.3m1 0.3v-0.8m5 0.8v-0.7m0 3.7v0.8m13 -3.8v-0.4m0 3.4v1.1m1 -1.1v0.4m3 -3.4v-0.9m2 3.9v0.7m4 -3.7v-0.8m1 3.8v0.4m5 -3.4v-0.5m1 0.5v-0.9m5 0.9v-0.4m0 3.4v1m2 -4v-0.5m2 0.5v-0.9m17 0.9v-0.4m3 0.4v-0.7m4 3.7v0.6m2 -0.6v0.7m8 -3.7v-0.6m8 0.6v-0.3m0 3.3v1m4 -1v0.7m2 -3.7v-0.7m0 3.7v0.8m2 -0.8v0.5m2 -3.5v-0.8m0 3.8v0.4m2 -3.4v-0.7m14 3.7v0.7m4 -3.7v-0.8m1 0.8v-1.1m0 4.1v0.7m1 -0.7v1m1 -4v-1m1 4v0.4m1 -3.4v-0.8m3 0.8v-0.4m5 3.4v0.7m1 -0.7v0.9m2 -0.9v0.6m1 -3.6v-0.8m13 0.8v-0.9m0 3.9v0.5m1 -3.5v-1m4 1v-0.6m1 0.6v-0.6m1 0.6v-0.8m0 3.8v0.8m12 -3.8v-0.3m7 0.3v-1m2 4v0.6m2 -3.6v-0.9m0 3.9v0.6m2 -3.6v-1m1 4v0.8m1 -0.8v0.6m2 -0.6v0.3m4 -3.3v-0.3m4 3.3v0.6m1 -3.6v-0.3m0 3.3v0.5m9 -3.5v-0.6m1 0.6v-0.5m1 3.5v0.4m3 -3.4v-1m4 4v0.3m1 -0.3v0.6m1 -0.6v1m1 -1v1m1 -1v1m3 -1v0.9m3 -0.9v1.1m7 -4.1v-0.4m3 0.4v-0.5m3 3.5v1m4 -4v-1m1 1v-0.8m0 3.8v1.1m6 -1.1v0.5m1 -3.5v-1m3 1v-0.6m6 0.6v-0.6m1 3.6v0.7m3 -0.7v0.9m1 -3.9v-0.7m4 3.7v0.6m2 -3.6v-0.8m1 0.8v-0.4m0 3.4v0.6m1 -0.6v0.7m7 -3.7v-0.8m1 0.8v-1.1m2 1.1v-0.9m4 0.9v-0.7m1 0.7v-0.4m2 3.4v0.9m1 -0.9v0.6m1 -0.6v0.7m3 -3.7v-0.8m1 0.8v-0.9m0 3.9v0.3m2 -3.3v-0.8m0 3.8v0.4m2 -0.4v0.4m5 -0.4v0.5m8 -3.5v-1m1 4v0.4m2 -3.4v-0.4m1 3.4v1m2 -1v0.5m6 -0.5v0.5m1 -0.5v0.4m8 -0.4v0.4m8 -0.4v1m4 -1v0.5m1 -3.5v-0.6m0 3.6v0.6m1 -3.6v-0.3m0 3.3v0.9m1 -0.9v1.1m2 -1.1v0.9m1 -3.9v-1m8 4v0.9m4 -3.9v-0.4m3 0.4v-0.3m0 3.3v0.9m2 -3.9v-0.7m2 3.7v0.8m4 -3.8v-0.3m3 0.3v-0.9m5 3.9v0.9m1 -3.9v-0.5m1 3.5v0.5m3 -3.5v-0.5m3 3.5v0.9m7 -3.9v-0.8m1 0.8v-0.6m2 0.6v-1m1 1v-0.3m1 0.3v-1m3 1v-0.6m8 0.6v-0.6m6 3.6v0.3m4 -0.3v0.9m1 -3.9v-0.9m1 0.9v-1.1m0 4.1v1.1m2 -4.1v-0.6m4 0.6v-1.1m3 4.1v0.4m1 -0.4v0.5m2 -0.5v0.5m8 -0.5v0.7m2 -0.7v0.7m1 -0.7v0.8m4 -0.8v0.3m1 -3.3v-1m5 1v-0.5m4 3.5v0.7m1 -3.7v-0.9m2 0.9v-0.5m1 3.5v0.6m4 -0.6v0.7m5 -3.7v-0.6m1 3.6v1m3 -1v0.8m2 -3.8v-1m2 4v0.7m2 -0.7v1m4 -1v0.3m4 -0.3v0.6m2 -3.6v-0.8m1 3.8v0.7m3 -3.7v-0.8m1 3.8v0.8m1 -0.8v0.5m4 -3.5v-0.9m1 3.9v0.9m1 -3.9v-0.7m3 0.7v-0.9m1 0.9v-0.8m0 3.8v1.1m3 -1.1v0.6m7 -0.6v0.8m1 -0.8v0.8m1 -0.8v0.9m2 -3.9v-0.5m3 0.5v-0.7m1 3.7v0.3m1 -3.3v-0.6m2 3.6v0.9m2 -3.9v-0.3m4 0.3v-0.5m2 3.5v1.1" fill="none" stroke="#0000ff" stroke-width="0.9"/>
<path d="M138.5 545.72l5 0.19l5 -0.15l5 0.12l5 -0.12l5 0.1l5 -0.09l5 0.05l5 -0.05l5 0.12l5 -0.11l5 0.12l5 0.03l5 -0.02l5 0.02l5 -0.14l5 0.1l5 0.05l5 -0.14l5 0.05l5 0.09l5 -0.09l5 0.02l5 -0.1l5 0.03l5 0.11l5 -0.08l5 0.11l5 -0.03l5 -0.02l5 -0.16l5 0.18l5 -0.13l5 -0.06l5 0.22l5 -0.07l5 -0.14l5 0.02l5 0.03l5 0.13l5 -0.04l5 -0.08l5 -0.05l5 0.07l5 0.1l5 -0.08l5 0.01l5 0.1l5 -0.01l5 -0.04l5 -0.08l5 -0.06l5 0.04l5 0.14l5 -0.09l5 -0.07l5 0.01l5 0l5 -0.03l5 0.14l5 -0.01l5 -0.16l5 -0.01l5 0.13l5 -0.09l5 -0.02l5 0.2l5 -0.2l5 0.17l5 -0.05l5 -0.08l5 0.07l5 -0.06l5 0.01l5 -0.04l5 -0.03l5 0.19l5 -0.09l5 -0.03l5 0.14l5 -0.04l5 0.03l5 0.02l5 -0.18l5 -0.03l5 0.11l5 -0.09l5 0.1l5 0.03l5 0.02l5 0.01l5 -0.17l5 -0.01l5 0.07l5 -0.02l5 0.02l5 -0.04l5 0.02l5 0.06l5 -0.06l5 0.07l5 -0.05l5 -0.02l5 0.03l5 0l5 -0.01l5 -0.04l5 -0.04l5 0.08l5 -0.08l5 0.09l5 0.05l5 0.02l5 -0.09l5 -0.02l5 -0.04l5 -0.01l5 0.03l5 0.12l5 -0.06l5 0.08l5 -0.08l5 0.11l5 -0.21l5 0.22l5 -0.15l5 -0.06l5 0.12l5 -0.05l5 -0.02l5 0.1l5 -0.16l5 0.13l5 0.01l5 0.05l5 -0.18l5 0.05l5 -0.05l5 0.01l5 0.06l5 0.04l5 0.05l5 -0.15l5 0.11l5 0.09l5 -0.05l5 0.06l5 -0.05l5 -0.15l5 0.12l5 0.02l5 -0.09l5 0.15l5 -0.13l5 0.07l5 -0.1l5 0.01l5 0.12l5 -0.06l5 0.09l5 -0.2l5 0.03l5 0.09l5 -0.05l5 0.09l5 -0.08l5 0.08l5 -0.1l5 0.14l5 -0.07l5 -0.15l5 0.17l5 0.05l5 -0.13l5 -0.1l4 0.2" fill="none" stroke="#008000" stroke-width="3.6"/>
<path d="M143 547.3v1m1 -1v0.5m8 -3.5v-0.8m11 3.8v0.6m5 -3.6v-0.8m5 0.8v-0.8m2 0.8v-0.8m2 3.8v1m1 -1v0.6m7 -0.6v0.5m3 -3.5v-0.5m3 3.5v0.8m1 -0.8v1.1m2 -1.1v0.9m4 -3.9v-0.6m1 3.6v0.8m1 -3.8v-0.4m4 0.4v-1.1m9 4.1v0.3m7 -3.3v-0.9m1 0.9v-1.1m1 4.1v1m3 -1v0.8m3 -3.8v-0.3m2 3.3v0.8m1 -3.8v-0.8m1 0.8v-1m0 4v0.8m1 -3.8v-0.5m5 0.5v-0.9m0 3.9v1.1m3 -1.1v0.8m2 -0.8v0.4m1 -3.4v-0.7m6 0.7v-0.3m3 3.3v0.3m1 -3.3v-0.9m6 0.9v-0.4m2 3.4v0.9m2 -3.9v-0.6m0 3.6v0.8m3 -0.8v0.6m2 -0.6v1m2 -4v-1.1m0 4.1v0.7m3 -0.7v0.3m1 -0.3v0.6m2 -3.6v-1.1m1 4.1v0.8m8 -0.8v0.6m2 -0.6v0.4m1 -3.4v-0.7m0 3.7v1m1 -4v-0.6m2 0.6v-0.4m1 0.4v-0.9m1 0.9v-1m2 1v-1.1m0 4.1v0.7m6 -0.7v1m4 -4v-0.6m2 3.6v0.5m1 -3.5v-0.6m2 0.6v-0.5m2 0.5v-0.8m0 3.8v0.8m2 -0.8v0.3m1 -0.3v0.7m1 -3.7v-0.5m2 0.5v-0.3m8 0.3v-0.4m3 0.4v-0.9m1 0.9v-0.9m1 0.9v-0.6m6 3.6v0.5m3 -0.5v0.6m1 -3.6v-0.6m0 3.6v0.5m2 -3.5v-0.7m3 0.7v-0.9m0 3.9v0.8m1 -0.8v0.3m1 -3.3v-0.8m4 0.8v-0.5m1 0.5v-0.6m1 0.6v-0.6m2 3.6v0.4m1 -3.4v-1.1m3 4.1v0.7m1 -0.7v1m3 -4v-0.9m1 3.9v0.8m2 -0.8v0.3m5 -0.3v0.6m2 -0.6v0.8m9 -3.8v-1m4 1v-0.3m6 0.3v-0.6m1 3.6v0.8m4 -3.8v-0.9m0 3.9v0.4m3 -3.4v-0.4m7 3.4v0.8m8 -3.8v-0.4m2 3.4v1.1m3 -4.1v-0.5m6 3.5v0.8m8 -3.8v-0.9m2 0.9v-0.8m2 0.8v-1m1 4v0.9m1 -0.9v0.9m1 -3.9v-0.5m3 0.5v-0.7m2 3.7v0.8m5 -0.8v0.9m2 -0.9v0.8m1 -3.8v-0.5m2 3.5v0.9m1 -0.9v0.8m6 -0.8v0.9m1 -0.9v0.7m1 -3.7v-1m2 4v0.7m1 -0.7v0.6m1 -0.6v0.7m5 -0.7v0.9m1 -3.9v-0.8m1 0.8v-0.6m1 3.6v0.7m5 -3.7v-1.1m5 1.1v-0.5m1 0.5v-0.4m0 3.4v0.7m1 -3.7v-1m3 4v0.7m1 -0.7v0.6m6 -3.6v-0.3m3 3.3v1.1m5 -1.1v0.5m3 -3.5v-0.5m5 0.5v-0.9m1 0.9v-0.6m1 3.6v0.7m1 -0.7v0.8m1 -0.8v0.8m2 -3.8v-0.8m3 0.8v-0.6m1 0.6v-1.1m0 4.1v0.7m2 -3.7v-1m1 1v-0.9m2 0.9v-1m3 1v-1m1 1v-0.8m1 3.8v0.6m3 -0.6v0.4m2 -0.4v0.5m1 -3.5v-0.5m0 3.5v1.1m1 -4.1v-0.8m6 0.8v-0.5m2 0.5v-0.9m7 0.9v-0.9m1 0.9v-0.3m6 3.3v0.9m8 -3.9v-0.8m3 0.8v-0.3m9 0.3v-1m0 4v0.8m3 -0.8v1m3 -1v1m1 -4v-1m0 4v1m2 -1v0.3m1 -3.3v-0.9m5 0.9v-0.9m1 0.9v-0.7m2 3.7v1m3 -1v0.7m1 -3.7v-0.8m1 3.8v0.5m6 -3.5v-0.7m4 0.7v-0.8m3 3.8v0.5m5 -3.5v-0.6m2 0.6v-1m0 4v0.5m11 -3.5v-0.5m0 3.5v0.7m1 -0.7v0.8m2 -3.8v-0.8m1 0.8v-0.5m5 0.5v-0.6m0 3.6v1.1m3 -1.1v0.4m1 -3.4v-0.3m0 3.3v0.8m1 -3.8v-0.9m0 3.9v0.8m1 -0.8v1m2 -4v-0.3m1 0.3v-0.9m2 0.9v-1m8 4v0.3m1 -3.3v-0.7m0 3.7v0.4m1 -3.4v-0.4m1 0.4v-0.8m3 3.8v0.3m1 -3.3v-0.9m1 0.9v-1.1m4 4.1v1.1m1 -4.1v-0.6m3 3.6v0.4m1 -3.4v-0.7m1 0.7v-1m1 1v-0.7m2 3.7v0.5m3 -3.5v-0.9m5 0.9v-0.9m2 3.9v0.7m6 -0.7v0.4m2 -3.4v-0.4m1 3.4v0.7m6 -3.7v-0.4m0 3.4v0.9m3 -3.9v-0.6m1 0.6v-0.5m1 0.5v-0.8m3 3.8v0.3m1 -3.3v-0.5m1 0.5v-0.5m2 0.5v-1m2 4v0.4m5 -0.4v0.4m6 -0.4v0.4m4 -0.4v0.5m7 -0.5v0.3m5 -0.3v1.1m1 -4.1v-0.5m9 0.5v-0.5m8 3.5v0.8m1 -0.8v0.3m4 -0.3v1m3 -1v0.8m1 -3.8v-1.1m1 1.1v-0.8m4 3.8v0.4m2 -3.4v-0.9m2 0.9v-0.6m2 3.6v0.5m3 -0.5v0.8m7 -3.8v-0.4m2 0.4v-0.3m4 0.3v-1.1m2 4.1v0.6m1 -3.6v-0.8m3 0.8v-0.9m8 3.9v0.6m4 -0.6v1m4 -4v-0.5m2 3.5v0.6m2 -0.6v0.9m6 -3.9v-0.9m7 0.9v-0.6m2 0.6v-1.1m0 4.1v0.9m1 -0.9v0.8m2 -3.8v-1m1 4v0.5m1 -0.5v0.5m4 -3.5v-0.8m0 3.8v0.8m4 -0.8v0.9m3 -0.9v1m5 -4v-0.4m2 0.4v-0.7m2 0.7v-0.5m2 0.5v-0.3m1 3.3v1m7 -1v0.7m1 -0.7v0.4m1 -3.4v-0.7m0 3.7v0.7m2 -3.7v-0.9m4 3.9v0.6m1 -0.6v0.5m3 -0.5v0.6m4 -0.6v0.5m11 -3.5v-0.6m4 0.6v-0.4m5 3.4v0.9m4 -3.9v-0.4m2 0.4v-0.5m0 3.5v0.4m1 -0.4v0.5m1 -3.5v-0.9m2 3.9v0.4m1 -0.4v0.9m1 -3.9v-0.6m0 3.6v1m4 -4v-0.8m4 0.8v-1.1m0 4.1v0.7m4 -3.7v-0.6m3 3.6v0.6m1 -3.6v-0.6m1 3.6v0.8m2 -0.8v0.6m1 -0.6v0.9m1 -3.9v-0.9m6 3.9v0.8m2 -3.8v-0.7m1 0.7v-0.4m3 0.4v-0.9m1 0.9v-1m2 1v-1m0 4v0.4m4 -3.4v-0.8m2 3.8v0.3m1 -0.3v0.6m3 -3.6v-0.7m1 0.7v-0.8m1 0.8v-0.3m0 3.3v0.8m1 -3.8v-0.8m2 0.8v-1.1m5 1.1v-0.8m1 0.8v-0.9m1 0.9v-0.9m2 0.9v-1.1m2 1.1v-0.4m2 0.4v-0.6m3 0.6v-0.3m2 3.3v0.6m8 -3.6v-0.8m1 3.8v0.5m1 -0.5v0.4" fill="none" stroke="#008000" stroke-width="0.9"/>
<path d="M138.5 577.48l5 -0.14l5 0l5 0.07l5 -0.06l5 0.01l5 -0.08l5 0.08l5 0.09l5 -0.01l5 -0.09l5 -0.09l5 0.11l5 -0.11l5 0l5 0.04l5 0.14l5 -0.13l5 0.11l5 -0.09l5 -0.04l5 0l5 0.03l5 0.06l5 0.09l5 -0.21l5 0.07l5 0.12l5 -0.13l5 0.14l5 -0.18l5 0.16l5 0.04l5 -0.14l5 0.1l5 0.01l5 -0.15l5 0.18l5 -0.14l5 0.01l5 -0.01l5 0.13l5 -0.12l5 -0.05l5 0.11l5 -0.01l5 -0.15l5 0.03l5 -0.02l5 0.21l5 -0.18l5 -0.01l5 0.04l5 0.14l5 0.01l5 -0.03l5 -0.17l5 0.15l5 -0.07l5 0.06l5 -0.15l5 0.04l5 0.08l5 -0.02l5 0.01l5 -0.06l5 0.02l5 0.11l5 -0.05l5 -0.02l5 0.09l5 -0.11l5 0.05l5 0.09l5 -0.04l5 0.04l5 -0.02l5 -0.11l5 -0.09l5 0.07l5 0.04l5 0.09l5 -0.21l5 0.15l5 -0.09l5 0.12l5 -0.04l5 0.03l5 0l5 -0.05l5 0.11l5 -0.19l5 0.16l5 -0.19l5 0.22l5 -0.02l5 -0.17l5 0.09l5 -0.03l5 0.07l5 -0.16l5 0.21l5 -0.04l5 0.05l5 -0.14l5 0.1l5 -0.04l5 0.01l5 -0.14l5 -0.01l5 0.14l5 0.02l5 0.02l5 -0.04l5 -0.15l5 0.07l5 -0.03l5 0.05l5 -0.08l5 0.01l5 0.17l5 -0.04l5 0.03l5 -0.19l5 0.03l5 0.17l5 -0.09l5 0.12l5 -0.18l5 0.11l5 -0.08l5 0.08l5 0.07l5 -0.17l5 0.05l5 -0.05l5 0.15l5 -0.14l5 0.08l5 -0.15l5 0.05l5 0.15l5 0.02l5 -0.04l5 -0.12l5 0.03l5 -0.08l5 0.18l5 -0.03l5 -0.06l5 0.12l5 -0.01l5 -0.16l5 0.05l5 -0.08l5 0.03l5 0.05l5 0.04l5 0.03l5 -0.02l5 -0.1l5 -0.02l5 0.15l5 -0.15l5 0.16l5 -0.03l5 -0.12l5 0.08l5 0.08l5 -0.08l5 0.1l5 -0.06l5 -0.12l5 -0.03l5 0.15l4 -0.11" fill="none" stroke="#000000" stroke-width="4.02"/>
<path d="M141 579.1v0.8m4 -4.2v-0.4m1 0.4v-0.7m0 4.1v0.9m1 -4.3v-0.8m0 4.2v1m1 -1v0.8m2 -0.8v0.3m3 -0.3v0.6m2 -4v-1.1m5 4.5v0.7m1 -0.7v0.4m1 -0.4v0.7m7 -0.7v0.9m6 -0.9v1m1 -4.4v-1m2 1v-0.9m2 4.3v1.1m3 -4.5v-0.5m4 0.5v-0.7m8 4.1v0.9m1 -4.3v-0.7m0 4.1v0.3m5 -0.3v0.9m2 -4.3v-0.3m0 3.7v0.8m2 -4.2v-0.8m0 4.2v0.6m1 -0.6v1m1 -4.4v-0.5m3 0.5v-0.4m3 0.4v-0.3m0 3.7v0.8m3 -4.2v-0.4m0 3.8v0.9m5 -0.9v0.8m3 -0.8v0.9m3 -4.3v-0.6m3 4v0.3m10 -3.7v-0.5m2 0.5v-1m4 4.4v0.9m2 -4.3v-0.4m3 3.8v0.6m1 -0.6v0.7m5 -4.1v-0.5m2 3.9v0.4m3 -0.4v1.1m7 -4.5v-1m5 4.4v0.4m4 -3.8v-0.6m1 4v1.1m2 -4.5v-0.5m7 3.9v0.6m1 -4v-0.8m2 0.8v-0.5m2 3.9v1m5 -1v0.8m6 -0.8v0.8m1 -0.8v0.5m7 -0.5v0.7m2 -4.1v-1.1m3 1.1v-0.5m1 3.9v1.1m1 -1.1v0.4m1 -0.4v0.8m2 -4.2v-0.5m0 3.9v0.3m1 -3.7v-0.6m0 4v0.7m2 -4.1v-0.6m2 0.6v-0.4m2 3.8v0.6m1 -4v-1m4 4.4v0.7m10 -0.7v0.6m1 -4v-0.8m4 0.8v-0.3m1 0.3v-0.8m0 4.2v1m6 -1v0.8m2 -0.8v0.9m3 -4.3v-0.8m4 4.2v0.4m1 -0.4v0.5m6 -0.5v1m2 -4.4v-0.7m1 0.7v-0.6m4 0.6v-0.7m0 4.1v0.8m1 -0.8v0.6m1 -0.6v0.7m3 -4.1v-1m0 4.4v1.1m2 -1.1v0.9m2 -4.3v-0.6m1 0.6v-0.6m3 0.6v-0.5m1 3.9v0.8m3 -4.2v-0.5m3 3.9v1m1 -4.4v-0.7m1 0.7v-1m1 1v-0.5m1 3.9v0.5m1 -3.9v-0.6m1 4v0.6m3 -0.6v1m3 -1v0.6m5 -4v-0.5m2 0.5v-1.1m0 4.5v0.7m2 -0.7v0.9m1 -4.3v-0.6m0 4v0.6m11 -4v-0.7m4 4.1v0.9m2 -0.9v0.6m4 -4v-0.6m1 0.6v-0.6m0 4v0.3m1 -3.7v-1.1m0 4.5v0.9m2 -0.9v0.7m1 -0.7v0.3m4 -3.7v-0.5m1 3.9v0.7m5 -4.1v-0.9m2 0.9v-0.3m1 0.3v-0.7m0 4.1v0.7m1 -4.1v-0.5m0 3.9v0.6m1 -4v-0.8m2 0.8v-0.5m3 3.9v0.4m1 -3.8v-0.9m3 0.9v-0.8m1 4.2v0.6m1 -4v-1m1 1v-1.1m5 1.1v-0.8m0 4.2v0.7m1 -4.1v-0.7m1 0.7v-0.7m0 4.1v0.6m3 -0.6v0.7m2 -0.7v0.8m1 -4.2v-0.7m3 0.7v-0.5m3 0.5v-0.6m0 4v0.5m1 -0.5v0.9m3 -0.9v1.1m6 -1.1v0.7m6 -0.7v1m6 -4.4v-0.8m2 0.8v-0.7m1 4.1v0.8m1 -0.8v0.4m5 -3.8v-0.9m5 0.9v-0.7m0 4.1v0.9m1 -4.3v-0.4m1 0.4v-0.6m0 4v0.9m1 -4.3v-1m1 4.4v0.5m4 -3.9v-0.5m2 3.9v1.1m6 -4.5v-0.7m0 4.1v0.7m3 -4.1v-0.9m6 0.9v-0.3m2 0.3v-0.6m1 4v1m2 -4.4v-0.4m1 0.4v-1m3 4.4v0.8m5 -4.2v-0.5m10 0.5v-0.6m1 0.6v-0.9m6 4.3v0.8m2 -0.8v0.9m2 -0.9v1m1 -4.4v-0.7m7 4.1v1.1m3 -4.5v-0.4m2 0.4v-0.7m7 4.1v0.9m1 -4.3v-0.9m0 4.3v0.3m7 -3.7v-0.6m1 4v1.1m3 -1.1v0.5m2 -0.5v0.9m3 -0.9v0.5m1 -0.5v0.8m1 -0.8v0.6m1 -0.6v1m1 -4.4v-0.7m5 0.7v-1m4 4.4v0.4m2 -3.8v-0.4m3 0.4v-1.1m1 4.5v0.8m2 -4.2v-0.8m1 0.8v-0.9m1 4.3v0.6m1 -0.6v0.9m1 -0.9v0.8m2 -4.2v-0.5m1 3.9v0.8m13 -0.8v1.1m1 -4.5v-0.5m11 0.5v-0.3m2 0.3v-1m1 1v-0.5m0 3.9v0.4m2 -3.8v-1.1m1 1.1v-0.5m3 3.9v0.8m1 -4.2v-0.7m0 4.1v1m3 -4.4v-0.9m0 4.3v1.1m1 -1.1v0.6m3 -4v-0.4m1 3.8v1m2 -4.4v-0.4m0 3.8v0.3m1 -3.7v-0.4m0 3.8v0.9m1 -0.9v0.7m2 -4.1v-1.1m1 4.5v1m1 -1v1m2 -4.4v-0.8m0 4.2v1m1 -4.4v-0.4m13 3.8v0.9m1 -0.9v0.8m1 -0.8v0.4m1 -3.8v-1m2 4.4v0.9m1 -0.9v0.4m7 -3.8v-0.8m3 0.8v-0.9m0 4.3v1.1m4 -1.1v0.6m1 -0.6v0.8m2 -4.2v-0.5m1 3.9v1m2 -1v1m3 -4.4v-0.3m0 3.7v0.9m1 -0.9v0.9m2 -0.9v0.5m1 -3.9v-0.5m13 0.5v-0.9m1 0.9v-1.1m0 4.5v0.5m2 -0.5v0.5m4 -0.5v0.4m1 -3.8v-0.8m1 4.2v0.8m1 -4.2v-0.5m0 3.9v0.3m7 -3.7v-1m4 4.4v0.9m1 -0.9v1m1 -1v0.5m1 -3.9v-0.4m2 3.8v0.9m1 -4.3v-0.9m0 4.3v0.8m1 -4.2v-0.6m2 4v0.5m1 -0.5v0.6m4 -4v-0.5m0 3.9v0.5m1 -0.5v0.7m4 -0.7v0.8m5 -0.8v0.4m8 -3.8v-0.7m1 4.1v0.8m1 -4.2v-0.8m1 4.2v1.1m2 -4.5v-0.6m2 4v0.4m1 -3.8v-0.5m1 3.9v0.5m1 -0.5v0.8m1 -0.8v0.7m3 -4.1v-0.9m3 0.9v-0.9m3 0.9v-0.4m1 0.4v-1.1m1 4.5v0.4m4 -3.8v-0.9m6 4.3v0.9m2 -4.3v-0.4m2 0.4v-1.1m3 1.1v-0.3m4 0.3v-0.3m2 3.7v1m3 -4.4v-0.6m3 0.6v-0.8m2 4.2v0.9m2 -4.3v-1m3 4.4v1m3 -4.4v-1.1m0 4.5v0.6m4 -4v-0.3m1 3.7v1.1m2 -4.5v-0.6m6 0.6v-0.3m1 3.7v0.8m8 -0.8v1m6 -1v0.8m1 -4.2v-0.7m0 4.1v0.4m3 -3.8v-0.4m2 3.8v0.4m6 -3.8v-0.5m1 0.5v-1m2 1v-0.9m2 0.9v-0.5m3 3.9v1.1m2 -4.5v-0.7m1 0.7v-0.4m2 0.4v-0.4m1 0.4v-0.4m2 3.8v0.3m4 -0.3v0.8m2 -4.2v-0.7m3 0.7v-0.8m2 0.8v-0.5m1 0.5v-0.8m1 0.8v-0.5m2 3.9v1.1m1 -4.5v-0.5m3 0.5v-0.7m5 4.1v0.5m2 -3.9v-0.6m3 0.6v-0.7m4 4.1v0.3m3 -3.7v-0.5m3 3.9v0.4m2 -0.4v0.4m3 -0.4v1.1m1 -1.1v0.5m1 -3.9v-1.1m14 4.5v0.3m1 -3.7v-0.9m3 4.3v0.5m5 -0.5v1.1m4 -1.1v0.5m1 -3.9v-0.7" fill="none" stroke="#000000" stroke-width="0.9"/>
<path d="M138.5 611.23l5 -0.28l5 -0.29l5 -0.1l5 -0.08l5 -0.18l5 -0.27l5 -0.12l5 -0.12l5 -0.09l5 0.06l5 -0.05l5 -0.23l5 0.08l5 -0.16l5 0.01l5 -0.12l5 0.05l5 -0.21l5 0.16l5 -0.03l5 -0.15l5 0l5 -0.05l5 0.08l5 0.03l5 -0.12l5 0.05l5 0l5 -0.17l5 0.11l5 0.06l5 -0.17l5 0.06l5 -0.04l5 -0.04l5 0.1l5 -0.03l5 -0.07l5 -0.08l5 0.05l5 0.15l5 -0.2l5 0.15l5 -0.16l5 0.12l5 -0.1l5 0.03l5 -0.04l5 0.17l5 -0.16l5 -0.03l5 0.23l5 -0.08l5 0.02l5 -0.1l5 -0.02l5 0.12l5 0.06l5 -0.08l5 -0.13l5 0.09l5 -0.05l5 -0.02l5 0.06l5 -0.11l5 0.17l5 0.05l5 -0.04l5 -0.02l5 -0.13l5 0.12l5 -0.05l5 0.01l5 0.05l5 0.01l5 -0.06l5 -0.01l5 0.05l5 -0.08l5 -0.01l5 0.1l5 0l5 -0.03l5 -0.06l5 0.12l5 -0.01l5 -0.13l5 0.09l5 -0.13l5 -0.01l5 0.19l5 -0.04l5 0.08l5 -0.03l5 -0.03l5 -0.1l5 0.16l5 -0.02l5 0l5 0.01l5 -0.01l5 -0.02l5 0.01l5 -0.06l5 0.09l5 -0.09l5 -0.14l5 0.22l5 -0.1l5 0.1l5 -0.04l5 0.01l5 0.02l5 -0.12l5 0.1l5 -0.01l5 -0.16l5 0.18l5 -0.12l5 -0.08l5 0.17l5 0.02l5 -0.03l5 -0.02l5 -0.01l5 -0.06l5 -0.06l5 0.14l5 -0.11l5 0.13l5 -0.04l5 -0.04l5 0.1l5 -0.19l5 0.21l5 -0.07l5 0.04l5 0.05l5 -0.09l5 -0.09l5 -0.01l5 0.06l5 -0.04l5 0.15l5 -0.04l5 -0.12l5 0.1l5 0.07l5 -0.02l5 -0.09l5 -0.11l5 0.15l5 0.08l5 -0.17l5 0.07l5 0.05l5 -0.04l5 0.06l5 -0.12l5 0.08l5 -0.07l5 -0.01l5 0.15l5 -0.2l5 0.07l5 0l5 -0.1l5 0.04l5 0.08l5 0.07l5 0l5 -0.06l5 0.09l5 -0.2l4 0.07" fill="none" stroke="#ff0000" stroke-width="3.6"/>
<path d="M141 612.6v0.6m1 -0.7v0.4m1 -3.4v-0.8m3 3.7v0.9m5 -1.1v1m3 -1.2v0.8m7 -4v-1m1 4v0.4m19 -0.9v0.6m1 -3.6v-0.4m6 0.3v-0.6m2 0.5v-0.6m0 3.6v0.4m6 -3.4v-0.9m1 0.8v-0.7m3 0.7v-0.8m7 0.7v-0.6m1 0.6v-0.5m11 0.4v-1m5 1v-1.1m6 1v-0.3m0 3.3v0.3m6 -3.3v-1.1m1 1.1v-0.7m1 0.7v-1.1m3 1.1v-0.5m4 0.4v-0.6m1 0.6v-0.9m1 0.9v-0.4m6 0.4v-0.4m5 3.4v0.5m2 -0.5v0.3m4 -0.3v0.7m1 -3.7v-0.8m0 3.8v0.3m2 -0.4v0.9m2 -0.9v0.5m4 -3.5v-0.7m1 0.7v-0.4m1 3.4v1.1m1 -4.1v-0.7m2 3.7v0.8m2 -3.8v-1m0 4v0.5m3 -3.5v-0.4m0 3.4v0.8m6 -0.8v0.4m3 -0.4v0.4m3 -3.4v-0.3m1 0.3v-0.4m0 3.4v0.4m2 -3.4v-0.4m0 3.4v0.4m3 -3.4v-0.3m0 3.3v0.8m1 -0.8v0.3m2 -3.3v-0.9m3 0.9v-1.1m0 4.1v0.3m1 -0.3v0.6m2 -3.6v-1m1 1v-0.6m1 0.6v-0.5m4 0.5v-0.6m2 0.6v-0.5m8 3.5v0.7m2 -3.8v-0.9m4 0.9v-0.9m0 3.9v0.7m1 -3.7v-0.4m0 3.4v0.8m1 -0.8v0.9m3 -3.9v-0.7m0 3.7v1m6 -1v0.8m4 -0.8v0.4m1 -3.4v-0.8m1 0.8v-0.4m5 0.4v-1m3 4v0.4m1 -3.4v-0.3m1 0.3v-1m4 1v-0.4m4 3.4v1m2 -1v0.8m1 -3.8v-0.9m2 3.9v1.1m2 -1.1v0.5m3 -3.5v-0.3m2 0.3v-0.6m1 0.6v-0.9m2 0.9v-0.5m4 0.5v-0.8m1 0.8v-0.8m2 0.8v-0.6m1 0.6v-0.5m6 0.5v-0.5m1 0.5v-0.4m0 3.4v0.8m1 -0.8v0.9m6 -3.9v-0.6m2 3.6v0.6m2 -3.6v-1.1m4 1.1v-1.1m3 1.1v-0.7m0 3.7v0.6m6 -3.6v-0.4m5 3.4v1m3 -1v0.3m2 -3.3v-0.9m2 3.9v0.4m2 -3.4v-0.4m4 0.4v-1m2 1v-0.4m0 3.4v1.1m6 -1.1v0.6m5 -3.6v-1m2 1v-0.4m4 0.4v-0.9m3 0.9v-1m4 1v-0.9m6 0.9v-0.8m1 3.8v0.7m2 -0.7v0.8m7 -0.8v1.1m10 -4.1v-0.9m1 3.9v0.9m1 -3.9v-0.4m1 0.4v-0.5m0 3.5v0.7m2 -3.7v-0.6m1 0.6v-0.5m1 3.5v0.3m6 -3.3v-0.3m1 3.3v0.5m6 -0.5v0.4m1 -3.4v-0.4m0 3.4v0.6m3 -3.6v-0.6m2 0.6v-0.9m1 3.9v0.5m4 -3.5v-0.4m0 3.4v0.4m1 -0.4v0.7m3 -0.7v0.5m2 -0.5v0.7m2 -0.7v0.9m1 -0.9v0.7m2 -0.7v0.4m2 -3.4v-0.9m0 3.9v0.3m7 -0.3v0.6m1 -3.6v-0.8m1 3.8v0.9m2 -3.9v-0.4m2 3.4v0.7m4 -3.7v-1.1m2 4.1v0.4m2 -3.4v-0.7m3 3.7v0.9m1 -3.9v-0.5m2 3.5v0.5m2 -3.5v-0.6m2 3.6v0.8m4 -3.8v-1m0 4v0.5m1 -0.5v1.1m2 -4.1v-0.8m1 3.8v0.9m1 -0.9v1.1m2 -4.1v-0.3m2 0.3v-0.5m1 0.5v-1m4 1v-0.3m1 0.3v-0.9m4 0.9v-0.7m3 3.7v0.4m3 -3.4v-1m1 1v-0.9m2 0.9v-0.4m2 3.4v0.6m2 -3.6v-0.4m1 0.4v-0.4m1 3.4v1m2 -1v1.1m3 -4.1v-1m1 1v-1m8 4v0.4m1 -3.4v-0.8m4 3.8v0.4m4 -0.4v0.4m7 -0.4v0.4m2 -3.4v-0.8m0 3.8v0.4m1 -0.4v0.8m2 -3.8v-0.9m1 3.9v1m1 -4v-0.7m1 0.7v-1.1m3 1.1v-0.6m0 3.6v1.1m3 -4.1v-0.4m0 3.4v0.8m2 -0.8v0.7m3 -3.7v-1m0 4v0.9m1 -3.9v-0.4m3 3.4v0.7m4 -3.7v-0.4m6 3.4v0.9m2 -3.9v-0.4m2 0.4v-1.1m8 1.1v-0.9m2 0.9v-0.8m3 0.8v-0.9m4 3.9v1m6 -4v-1m1 1v-0.4m1 0.4v-0.6m5 0.6v-1m0 4v0.5m2 -3.5v-0.3m0 3.3v1m1 -4v-1m2 4v1m5 -4v-1.1m8 4.1v0.6m1 -3.6v-1m3 4v0.7m5 -3.7v-0.5m6 3.5v0.4m2 -3.4v-0.9m7 0.9v-0.6m1 3.6v0.6m7 -3.6v-1m1 4v0.3m1 -0.3v0.5m1 -3.5v-0.7m2 0.7v-0.5m6 0.5v-0.6m0 3.6v0.9m4 -0.9v0.4m2 -3.4v-0.9m0 3.9v0.6m3 -3.6v-0.4m3 0.4v-1m6 4v0.8m2 -3.8v-0.8m6 3.8v1m2 -4v-0.4m4 0.4v-0.3m0 3.3v0.9m4 -3.9v-0.8m3 3.8v0.5m6 -0.5v0.3m3 -3.3v-0.3m1 0.3v-0.9m2 0.9v-1m0 4v0.9m3 -3.9v-0.7m7 0.7v-0.9m14 0.9v-0.7m1 3.7v1.1m5 -4.1v-0.7m8 0.7v-0.9m2 0.9v-0.9m3 0.9v-0.8m0 3.8v0.8m1 -3.8v-0.5m2 0.5v-0.7m1 0.7v-0.7m2 0.7v-0.4m2 3.4v1m5 -4v-0.5m7 3.5v0.6m1 -3.6v-1.1m3 4.1v0.5m1 -3.5v-0.4m1 0.4v-1m2 1v-0.6m1 0.6v-0.3m2 0.3v-0.7m7 0.7v-0.5m2 0.5v-0.7m2 3.7v1.1m10 -4.1v-0.4m5 0.4v-1m1 1v-0.3m3 0.3v-1.1m1 4.1v0.5m2 -3.5v-0.5m1 0.5v-0.7m0 3.7v0.4m4 -3.4v-0.8m1 0.8v-0.9m1 0.9v-1m2 1v-0.8m9 3.8v0.3m7 -0.3v1m1 -1v0.4m5 -3.4v-0.8m2 3.8v0.5m3 -3.5v-0.8m3 3.8v0.7m2 -3.7v-0.5m0 3.5v0.6m4 -3.6v-1m4 4v0.5m4 -3.5v-0.6m7 0.6v-0.4m0 3.4v0.6m1 -0.6v1.1m2 -1.1v0.7m2 -3.7v-0.8m1 3.8v0.6m6 -0.6v0.6m2 -3.6v-0.8m1 0.8v-0.5m3 3.5v0.4m4 -0.4v0.5m2 -3.5v-0.7m0 3.7v0.9m2 -0.9v0.7m2 -0.7v0.6m2 -0.6v0.9m2 -3.9v-0.4" fill="none" stroke="#ff0000" stroke-width="0.9"/>
<path d="M138.5 640.4l5 0l5 0.13l5 -0.06l5 -0.12l5 0.04l5 0.19l5 -0.21l5 0.06l5 -0.04l5 -0.01l5 0.11l5 -0.15l5 0.19l5 -0.15l5 0.03l5 0.14l5 -0.13l5 -0.06l5 0.07l5 -0.08l5 0.13l5 0l5 0.04l5 0.04l5 -0.18l5 0.14l5 -0.09l5 0.03l5 -0.09l5 0.19l5 -0.01l5 -0.12l5 -0.01l5 0.03l5 -0.11l5 0.03l5 0.17l5 -0.05l5 0.02l5 -0.11l5 0.1l5 -0.05l5 0.01l5 0.05l5 -0.08l5 0.03l5 0.07l5 -0.04l5 0.09l5 -0.03l5 -0.08l5 -0.06l5 0.01l5 -0.03l5 0.07l5 0.1l5 -0.1l5 0.07l5 -0.08l5 0.09l5 -0.15l5 0.08l5 -0.01l5 -0.07l5 0.08l5 -0.09l5 0.03l5 0.02l5 0.02l5 -0.09l5 0.03l5 0.09l5 -0.06l5 -0.04l5 0.16l5 -0.09l5 -0.04l5 0.1l5 0.04l5 -0.18l5 0.03l5 0.15l5 -0.06l5 -0.11l5 0.16l5 -0.01l5 -0.04l5 -0.14l5 0.16l5 -0.11l5 0.03l5 0.14l5 -0.14l5 0.06l5 -0.06l5 0.1l5 0.01l5 -0.1l5 0.12l5 -0.09l5 -0.12l5 0.09l5 -0.02l5 0l5 -0.02l5 0.1l5 -0.05l5 0.13l5 -0.22l5 0.17l5 -0.13l5 -0.03l5 -0.03l5 0.06l5 0.01l5 -0.02l5 0.04l5 -0.05l5 0.08l5 0l5 -0.08l5 0.06l5 0l5 -0.1l5 0.16l5 -0.09l5 -0.01l5 0.02l5 -0.06l5 0.21l5 -0.04l5 -0.11l5 -0.07l5 0.2l5 -0.2l5 0.11l5 0.08l5 -0.13l5 0.12l5 0.03l5 -0.04l5 0.04l5 -0.01l5 -0.17l5 0.15l5 -0.03l5 0.06l5 0.01l5 -0.17l5 -0.01l5 -0.02l5 0l5 0.14l5 -0.09l5 -0.01l5 0.1l5 -0.15l5 0.03l5 0.14l5 -0.08l5 0.09l5 -0.1l5 0.02l5 -0.03l5 0.06l5 -0.05l5 0.02l5 -0.1l5 0.19l5 0l5 -0.16l5 0.15l5 0.03l5 -0.16l4 0.14" fill="none" stroke="#0000ff" stroke-width="3.6"/>
<path d="M139 642v0.7m1 -3.7v-0.7m2 3.7v0.8m2 -0.8v0.9m1 -3.9v-0.4m6 3.4v0.8m3 -0.8v0.7m6 -3.7v-0.3m1 0.3v-1m6 4v0.6m4 -3.6v-0.5m0 3.5v0.9m15 -0.9v0.4m2 -0.4v0.8m1 -3.8v-0.9m1 0.9v-0.5m1 0.5v-0.5m0 3.5v0.4m2 -3.4v-0.9m0 3.9v1m1 -4v-0.5m1 0.5v-0.5m0 3.5v0.7m2 -0.7v0.9m2 -3.9v-0.7m1 3.7v0.4m2 -3.4v-0.9m2 0.9v-0.4m0 3.4v1.1m2 -1.1v0.9m6 -3.9v-0.7m6 3.7v0.9m6 -0.9v0.4m1 -0.4v0.6m1 -3.6v-0.5m1 0.5v-0.7m0 3.7v1m5 -4v-0.8m0 3.8v0.7m2 -0.7v0.6m9 -3.6v-0.7m1 3.7v0.5m1 -0.5v0.6m2 -0.6v0.8m4 -3.8v-1m2 4v0.7m3 -3.7v-0.8m2 0.8v-0.7m0 3.7v0.5m1 -3.5v-0.9m4 0.9v-0.4m6 3.4v0.8m2 -3.8v-1m0 4v0.5m5 -3.5v-0.4m2 0.4v-0.3m2 0.3v-0.7m2 0.7v-0.4m0 3.4v0.4m3 -3.4v-0.7m5 0.7v-0.4m8 3.4v0.9m2 -3.9v-0.7m4 3.7v0.5m1 -0.5v0.7m2 -3.7v-0.9m4 0.9v-0.9m1 0.9v-0.8m2 0.8v-0.8m2 0.8v-0.5m3 0.5v-0.7m1 3.7v0.5m1 -3.5v-0.6m3 0.6v-0.9m1 0.9v-0.4m5 0.4v-0.5m2 3.5v0.4m3 -3.4v-0.4m2 3.4v0.8m8 -3.8v-1.1m3 4.1v0.6m6 -0.6v1m1 -1v1m1 -4v-0.5m0 3.5v0.5m1 -3.5v-0.5m1 3.5v0.6m5 -3.6v-0.4m5 0.4v-0.9m4 0.9v-1.1m2 1.1v-0.7m1 0.7v-0.5m0 3.5v0.9m5 -3.9v-0.7m3 0.7v-0.4m1 0.4v-0.6m3 0.6v-0.8m0 3.8v0.7m1 -0.7v0.6m2 -3.6v-0.6m1 0.6v-0.7m4 3.7v0.4m1 -3.4v-0.7m2 3.7v0.8m4 -3.8v-0.4m5 0.4v-0.4m4 0.4v-0.9m1 3.9v0.6m2 -3.6v-0.8m1 0.8v-0.6m1 0.6v-0.4m2 0.4v-0.5m1 0.5v-0.7m0 3.7v1m2 -4v-0.9m2 3.9v0.8m3 -0.8v0.5m1 -3.5v-0.5m0 3.5v0.7m4 -3.7v-0.4m2 0.4v-0.8m1 3.8v1.1m1 -1.1v1.1m1 -4.1v-0.3m0 3.3v0.3m9 -0.3v0.6m1 -3.6v-1m7 4v0.9m1 -0.9v0.8m2 -3.8v-0.3m1 0.3v-0.4m4 3.4v0.5m1 -3.5v-0.7m1 0.7v-1.1m1 1.1v-1m1 4v0.5m2 -3.5v-0.5m2 0.5v-0.7m0 3.7v0.8m6 -0.8v0.4m3 -3.4v-0.4m0 3.4v0.5m1 -0.5v1.1m1 -1.1v0.8m8 -3.8v-0.7m2 0.7v-1m3 1v-0.4m3 0.4v-0.6m0 3.6v0.4m2 -3.4v-0.9m0 3.9v0.6m1 -3.6v-0.8m7 3.8v0.5m1 -3.5v-0.5m1 0.5v-0.4m0 3.4v0.6m2 -3.6v-0.6m5 3.6v0.5m3 -0.5v0.5m11 -3.5v-0.5m2 0.5v-0.6m2 0.6v-0.6m0 3.6v0.7m2 -3.7v-0.7m1 3.7v0.3m2 -3.3v-1.1m1 1.1v-1m1 4v1m1 -4v-1m9 4v1m4 -4v-0.5m0 3.5v0.8m4 -3.8v-0.5m2 0.5v-0.5m3 3.5v1m3 -1v0.8m4 -0.8v0.7m1 -3.7v-0.9m2 3.9v1.1m2 -4.1v-0.7m2 0.7v-1m2 1v-0.6m3 3.6v0.3m1 -3.3v-0.6m3 3.6v0.6m6 -0.6v0.5m3 -3.5v-0.7m1 3.7v0.6m6 -0.6v0.8m4 -3.8v-0.8m2 3.8v0.9m1 -3.9v-0.6m5 0.6v-0.6m1 0.6v-0.8m1 3.8v0.5m4 -0.5v0.9m1 -3.9v-0.6m2 0.6v-0.3m0 3.3v0.9m3 -0.9v0.4m2 -0.4v1m5 -4v-0.7m1 3.7v0.8m6 -3.8v-0.9m0 3.9v1.1m2 -1.1v0.8m4 -3.8v-0.8m4 0.8v-0.4m5 0.4v-0.3m3 0.3v-1.1m0 4.1v0.7m1 -0.7v0.7m8 -0.7v1m4 -4v-0.4m9 3.4v0.4m1 -3.4v-0.6m0 3.6v0.4m1 -3.4v-0.3m5 0.3v-0.4m0 3.4v1m1 -1v0.6m1 -3.6v-0.3m3 3.3v0.6m1 -3.6v-1.1m1 1.1v-0.9m8 0.9v-0.6m1 3.6v0.7m5 -0.7v1m5 -4v-0.7m2 0.7v-0.6m2 3.6v0.8m3 -3.8v-0.8m2 3.8v0.4m1 -3.4v-1m2 1v-0.6m0 3.6v0.5m7 -3.5v-0.7m5 0.7v-0.8m1 0.8v-0.6m5 3.6v1.1m2 -1.1v1m1 -1v0.8m3 -0.8v1.1m1 -1.1v0.7m8 -0.7v0.5m4 -0.5v0.6m3 -0.6v0.4m3 -0.4v0.8m3 -3.8v-0.6m0 3.6v1m2 -1v0.5m1 -0.5v1.1m6 -4.1v-0.8m3 3.8v0.3m2 -3.3v-0.9m0 3.9v1m2 -4v-0.4m1 3.4v0.4m2 -0.4v0.4m1 -3.4v-1.1m0 4.1v0.8m1 -3.8v-0.7m1 0.7v-0.5m1 0.5v-0.6m0 3.6v0.4m1 -3.4v-0.8m0 3.8v0.9m2 -3.9v-0.3m4 3.3v0.6m3 -0.6v0.7m1 -3.7v-0.7m1 3.7v0.6m2 -0.6v0.3m2 -3.3v-0.5m6 0.5v-0.8m2 3.8v0.4m2 -3.4v-0.6m1 0.6v-0.4m1 3.4v1m3 -4v-1m0 4v1m5 -1v0.5m2 -0.5v0.3m5 -0.3v0.3m5 -0.3v0.5m2 -0.5v0.5m2 -3.5v-0.6m1 3.6v0.3m2 -0.3v0.7m3 -0.7v0.4m3 -3.4v-0.4m1 3.4v0.4m1 -3.4v-1m0 4v0.8m6 -3.8v-0.9m2 0.9v-0.5m0 3.5v1m1 -1v0.7m2 -0.7v0.7m7 -3.7v-0.9m4 0.9v-0.7m2 0.7v-1m8 1v-1m0 4v0.6m1 -0.6v0.3m1 -0.3v1.1m2 -1.1v1m1 -1v1m1 -1v0.8m1 -3.8v-0.3m3 3.3v0.9m7 -3.9v-0.9m1 0.9v-0.4m1 3.4v0.8m3 -3.8v-1m2 1v-0.9m3 3.9v0.5m2 -3.5v-0.7m2 0.7v-0.8m2 0.8v-0.8m1 0.8v-0.9m2 3.9v0.5m2 -3.5v-0.5m12 0.5v-0.5m4 0.5v-0.5m0 3.5v0.9m1 -3.9v-0.6m2 3.6v0.7m2 -0.7v0.6m1 -3.6v-0.5m6 0.5v-0.7m2 0.7v-0.9m9 0.9v-0.4m0 3.4v0.4m1 -3.4v-0.4m2 3.4v0.8m1 -0.8v1m7 -1v0.5m1 -3.5v-0.8m0 3.8v1m10 -1v1m8 -4v-0.5m4 0.5v-0.9m0 3.9v1m1 -1v0.8m3 -3.8v-1m1 4v1.1m1 -4.1v-0.6m3 0.6v-0.5" fill="none" stroke="#0000ff" stroke-width="0.9"/>
<path d="M1004 637L1004 645L1005 634.5L1005 647L1006 636L1006 645" fill="none" stroke="#0000ff" stroke-width="1.75" stroke-linejoin="round"/>
<path d="M138.5 672.08l5 -0.05l5 -0.09l5 0.17l5 -0.02l5 -0.16l5 0.07l5 0.11l5 -0.17l5 0.06l5 -0.07l5 0.01l5 0.11l5 -0.15l5 0.09l5 0.04l5 0.05l5 -0.16l5 0.02l5 0.13l5 0.03l5 -0.18l5 0.02l5 0.04l5 -0.01l5 0.05l5 -0.08l5 -0.05l5 0.1l5 0.01l5 -0.06l5 0.17l5 -0.09l5 -0.1l5 0.15l5 -0.13l5 0.15l5 -0.02l5 0.03l5 -0.11l5 0.1l5 -0.04l5 0l5 -0.16l5 0.06l5 0.09l5 0.02l5 -0.03l5 -0.09l5 0.14l5 -0.15l5 0.11l5 0l5 -0.08l5 0.07l5 0.06l5 -0.13l5 0.16l5 -0.18l5 -0.04l5 0.21l5 -0.22l5 0.21l5 -0.02l5 0.03l5 -0.09l5 -0.05l5 0.03l5 0.12l5 -0.01l5 -0.15l5 0l5 0.09l5 0l5 -0.11l5 0.06l5 -0.02l5 0.08l5 0.02l5 -0.12l5 0.03l5 -0.1l5 0.2l5 -0.06l5 -0.12l5 0.09l5 -0.07l5 0.06l5 0.03l5 0.1l5 -0.11l5 0.02l5 -0.12l5 0.18l5 -0.04l5 -0.14l5 0.03l5 -0.02l5 0.01l5 0.17l5 -0.14l5 -0.04l5 0.17l5 -0.11l5 0.11l5 -0.05l5 -0.15l5 0l5 0.22l5 0.01l5 -0.1l5 0.08l5 -0.12l5 0.12l5 0.02l5 -0.08l5 -0.07l5 -0.06l5 0.04l5 -0.02l5 0.15l5 -0.07l5 0.04l5 -0.1l5 -0.03l5 0.15l5 -0.16l5 0.12l5 0.01l5 0.02l5 -0.13l5 0.02l5 0.09l5 -0.03l5 -0.11l5 0.03l5 0.15l5 -0.15l5 0.18l5 -0.19l5 0.08l5 -0.03l5 0.02l5 -0.02l5 0.03l5 0.07l5 -0.13l5 0l5 -0.05l5 0.21l5 -0.19l5 0.21l5 0l5 -0.13l5 -0.05l5 0l5 0.15l5 -0.06l5 -0.05l5 -0.04l5 0.03l5 -0.06l5 0.02l5 0.12l5 -0.13l5 -0.02l5 0.17l5 0.04l5 -0.16l5 0.1l5 0.04l5 -0.19l5 0.1l5 0.05l5 0.03l4 0" fill="none" stroke="#008000" stroke-width="3.6"/>
<path d="M142 670.5v-0.8m3 0.8v-0.9m1 0.9v-0.6m0 3.6v1m1 -4v-0.5m9 3.5v0.5m2 -0.5v0.9m5 -3.9v-1.1m2 4.1v0.7m2 -3.7v-1.1m4 4.1v0.7m1 -0.7v0.5m3 -3.5v-0.6m0 3.6v0.5m1 -3.5v-0.8m3 0.8v-0.3m2 3.3v0.8m2 -3.8v-0.9m1 0.9v-1.1m1 4.1v0.4m1 -0.4v0.4m3 -3.4v-0.6m3 3.6v0.7m2 -3.7v-0.4m2 0.4v-0.9m3 3.9v0.9m2 -3.9v-0.6m0 3.6v1m4 -4v-0.8m2 3.8v0.4m5 -0.4v0.9m1 -3.9v-1m6 4v0.5m1 -3.5v-0.5m0 3.5v0.6m4 -3.6v-0.4m4 3.4v1m4 -4v-0.5m1 3.5v0.9m1 -0.9v0.6m4 -3.6v-0.8m1 3.8v0.6m3 -3.6v-1m0 4v0.8m1 -0.8v0.9m1 -0.9v0.8m2 -0.8v0.7m1 -3.7v-0.4m4 0.4v-1m2 1v-0.4m1 0.4v-0.6m0 3.6v1m12 -1v0.8m2 -3.8v-1.1m1 4.1v0.7m2 -0.7v0.9m4 -3.9v-0.9m0 3.9v0.7m2 -3.7v-0.7m2 3.7v0.9m1 -3.9v-0.9m6 3.9v0.5m2 -3.5v-0.5m2 0.5v-0.5m4 0.5v-0.7m1 3.7v1.1m2 -1.1v0.4m2 -0.4v0.4m2 -0.4v0.6m1 -3.6v-1m2 1v-0.7m6 0.7v-0.8m0 3.8v0.3m5 -0.3v0.9m2 -0.9v0.8m1 -0.8v0.9m5 -3.9v-0.4m5 0.4v-0.7m0 3.7v0.6m1 -3.6v-0.8m2 3.8v1m5 -1v0.9m3 -3.9v-0.8m8 0.8v-0.3m1 0.3v-0.5m5 0.5v-0.5m3 3.5v0.6m3 -3.6v-0.6m1 0.6v-1m2 1v-0.8m0 3.8v0.4m2 -3.4v-0.7m2 3.7v0.6m1 -0.6v0.9m4 -0.9v0.3m2 -3.3v-0.8m3 3.8v0.8m2 -3.8v-1m1 1v-0.7m0 3.7v0.4m3 -0.4v1m7 -4v-0.6m1 0.6v-0.4m1 0.4v-0.8m0 3.8v0.5m5 -3.5v-0.9m0 3.9v1.1m1 -4.1v-0.3m2 3.3v1.1m1 -1.1v0.8m3 -3.8v-0.4m2 0.4v-1.1m2 1.1v-0.4m5 3.4v0.4m2 -0.4v1m5 -1v0.7m1 -3.7v-1m2 4v0.7m4 -0.7v0.7m2 -3.7v-0.9m0 3.9v0.9m1 -3.9v-0.8m1 0.8v-0.7m11 3.7v1.1m5 -4.1v-0.4m2 3.4v1m13 -1v0.6m1 -3.6v-0.8m1 0.8v-0.5m0 3.5v0.5m3 -3.5v-0.9m1 0.9v-1m0 4v0.6m5 -0.6v0.9m1 -0.9v0.5m1 -3.5v-0.8m5 3.8v0.9m1 -0.9v0.8m3 -3.8v-0.8m1 3.8v1.1m2 -4.1v-0.9m1 0.9v-0.3m2 3.3v0.9m2 -3.9v-0.7m1 3.7v0.7m1 -0.7v0.9m1 -3.9v-0.6m7 0.6v-0.5m2 3.5v0.3m2 -0.3v0.7m3 -0.7v0.3m7 -0.3v0.3m1 -0.3v1m1 -1v1m1 -1v1m2 -1v1m1 -1v0.9m7 -0.9v0.9m1 -0.9v0.4m1 -3.4v-0.7m1 0.7v-0.9m3 0.9v-0.4m7 0.4v-0.4m12 3.4v1.1m1 -4.1v-0.9m1 3.9v0.9m1 -3.9v-0.8m1 3.8v0.8m6 -3.8v-0.3m1 0.3v-0.9m2 0.9v-0.6m5 0.6v-0.9m0 3.9v1.1m2 -4.1v-0.8m7 0.8v-0.8m4 0.8v-1.1m8 1.1v-0.4m3 3.4v0.6m1 -0.6v1m6 -4v-1.1m1 1.1v-0.4m3 0.4v-0.3m2 0.3v-1.1m1 1.1v-0.6m1 0.6v-1m7 1v-0.9m1 3.9v0.7m1 -0.7v0.7m4 -3.7v-1m2 4v0.6m1 -0.6v1.1m3 -1.1v0.7m1 -0.7v1m5 -4v-0.9m1 3.9v1.1m2 -1.1v0.6m2 -3.6v-0.4m1 0.4v-0.4m2 0.4v-1m2 1v-0.4m7 0.4v-0.5m0 3.5v0.5m1 -0.5v1.1m5 -1.1v0.3m1 -3.3v-0.3m2 0.3v-0.5m9 3.5v0.4m2 -3.4v-1.1m4 4.1v0.6m4 -0.6v0.8m1 -3.8v-0.6m5 0.6v-0.8m4 0.8v-0.6m0 3.6v0.5m2 -3.5v-0.6m1 3.6v0.5m3 -3.5v-1.1m6 4.1v1.1m4 -4.1v-0.5m3 0.5v-1m1 4v0.5m1 -0.5v0.4m10 -3.4v-0.8m1 0.8v-0.7m4 3.7v0.4m1 -0.4v1.1m2 -1.1v0.7m2 -0.7v0.5m5 -3.5v-0.9m2 0.9v-0.4m0 3.4v1.1m3 -1.1v1m3 -4v-1.1m1 1.1v-1m13 1v-0.6m5 3.6v0.9m2 -0.9v0.4m1 -3.4v-1m1 4v0.5m1 -3.5v-0.9m0 3.9v0.5m3 -3.5v-1m2 1v-1m1 4v0.5m5 -3.5v-0.6m2 3.6v1m2 -1v1.1m4 -1.1v0.5m2 -3.5v-1m5 4v0.5m3 -3.5v-0.9m0 3.9v0.9m1 -3.9v-1m6 4v0.8m2 -0.8v0.7m1 -0.7v0.4m1 -0.4v0.6m2 -0.6v0.4m4 -3.4v-0.9m0 3.9v0.7m2 -3.7v-0.7m3 3.7v1m8 -1v1m2 -1v0.6m5 -0.6v0.4m1 -3.4v-0.6m3 0.6v-0.5m2 0.5v-0.7m0 3.7v0.5m4 -0.5v0.6m1 -3.6v-0.9m3 0.9v-0.7m3 3.7v0.4m3 -3.4v-0.9m7 0.9v-0.5m0 3.5v1.1m6 -4.1v-1m1 1v-0.4m11 3.4v0.8m1 -0.8v1.1m1 -1.1v0.6m5 -0.6v1.1m1 -4.1v-0.8m1 0.8v-0.6m5 3.6v0.3m2 -3.3v-0.6m1 3.6v0.6m1 -0.6v0.5m5 -3.5v-1.1m1 1.1v-0.6m1 0.6v-0.7m0 3.7v0.6m3 -3.6v-0.6m2 3.6v0.9m7 -0.9v1.1m5 -1.1v0.4m1 -3.4v-0.6m1 3.6v0.5m2 -3.5v-0.4m1 3.4v0.7m1 -3.7v-0.5m0 3.5v1.1m8 -1.1v0.6m7 -3.6v-0.7m1 0.7v-0.6m7 3.6v1.1m9 -1.1v1m3 -4v-0.9m0 3.9v0.6m1 -3.6v-0.9m1 3.9v0.7m1 -0.7v0.4m3 -0.4v0.4m1 -3.4v-0.6m1 3.6v1m2 -4v-0.6m0 3.6v0.7m1 -3.7v-1m2 4v0.6m2 -3.6v-0.4m4 0.4v-0.4m3 0.4v-0.7m1 0.7v-0.4m1 0.4v-0.6m2 3.6v0.6m2 -3.6v-0.3m1 0.3v-0.6m1 3.6v1.1m4 -4.1v-0.3m3 0.3v-0.5m0 3.5v0.8m2 -3.8v-0.8m1 3.8v0.8m9 -3.8v-1.1m1 1.1v-0.7" fill="none" stroke="#008000" stroke-width="0.9"/>
<path d="M138.5 703.14l5 0.04l5 0.02l5 0.07l5 0.01l5 -0.02l5 -0.16l5 0.11l5 -0.07l5 0.15l5 -0.04l5 -0.02l5 -0.03l5 0.09l5 -0.2l5 0.19l5 0.02l5 -0.09l5 -0.11l5 0.09l5 0.05l5 0.05l5 0.01l5 -0.14l5 0.01l5 -0.05l5 -0.01l5 0.18l5 0.03l5 -0.1l5 -0.02l5 0l5 0.1l5 -0.02l5 -0.09l5 -0.02l5 0.12l5 -0.06l5 -0.04l5 -0.06l5 -0.03l5 0.18l5 -0.04l5 -0.08l5 0.01l5 0.01l5 0.03l5 0.05l5 -0.1l5 0.04l5 -0.1l5 0.13l5 -0.15l5 0.12l5 -0.14l5 -0.04l5 0.14l5 -0.11l5 -0.15l5 0.04l5 -0.15l5 -0.04l5 -0.09l5 -0.02l5 -0.15l5 -0.03l5 -0.07l5 0.01l5 0.12l5 0.14l5 0.05l5 0.04l5 0.25l5 -0.04l5 0.19l5 0.08l5 0.34l5 -0.06l5 0.13l5 0l5 0.18l5 0.03l5 -0.02l5 0.06l5 0l5 -0.09l5 0.13l5 0.05l5 -0.05l5 -0.14l5 0.05l5 -0.01l5 0.19l5 -0.06l5 0.03l5 -0.03l5 -0.18l5 0.16l5 -0.04l5 0.04l5 -0.04l5 0.05l5 -0.17l5 0.18l5 -0.16l5 0.08l5 0l5 0.11l5 -0.03l5 -0.03l5 0.06l5 -0.04l5 -0.07l5 -0.02l5 0.08l5 -0.09l5 0.09l5 0.05l5 -0.2l5 0.09l5 -0.06l5 0.02l5 0.02l5 0.11l5 -0.18l5 0.11l5 -0.1l5 0.11l5 0.07l5 -0.14l5 0.02l5 0l5 -0.02l5 0.14l5 -0.17l5 0.12l5 0l5 -0.09l5 0.07l5 -0.08l5 0.12l5 -0.02l5 -0.03l5 -0.08l5 0.17l5 -0.1l5 0.07l5 -0.16l5 -0.01l5 0.21l5 -0.18l5 0.06l5 0.06l5 -0.06l5 -0.03l5 0.04l5 0.05l5 0.01l5 -0.02l5 -0.14l5 0.05l5 0.01l5 0.06l5 -0.1l5 0.18l5 -0.15l5 -0.03l5 0.14l5 -0.12l5 0.01l5 0.08l5 0.06l5 -0.14l5 0.08l5 -0.09l4 -0.02" fill="none" stroke="#000000" stroke-width="4.02"/>
<path d="M140 701.5v-0.6m3 0.6v-0.5m2 3.9v0.6m9 -4v-0.9m3 0.9v-0.8m0 4.2v1.1m3 -4.5v-0.5m0 3.9v1m2 -4.4v-0.7m3 0.7v-0.5m1 0.5v-1.1m0 4.5v0.3m1 -0.3v0.8m7 -0.8v0.8m1 -4.2v-0.9m4 4.3v0.9m3 -4.3v-0.8m3 4.2v0.3m2 -0.3v0.7m1 -4.1v-0.5m1 0.5v-1.1m3 4.5v1m1 -4.4v-0.4m0 3.8v0.4m1 -3.8v-0.8m0 4.2v0.5m1 -3.9v-1.1m4 1.1v-1m3 4.4v0.9m2 -0.9v0.6m2 -4v-1m1 1v-0.4m1 3.8v1.1m4 -1.1v1.1m6 -1.1v0.5m3 -0.5v0.8m3 -4.2v-0.9m0 4.3v0.9m1 -4.3v-0.6m1 0.6v-0.9m1 4.3v0.4m3 -0.4v1.1m1 -4.5v-1m4 4.4v0.5m4 -3.9v-0.7m10 4.1v0.8m1 -0.8v0.8m1 -0.8v0.5m4 -0.5v0.5m5 -0.5v0.5m3 -3.9v-1m2 1v-0.5m7 3.9v0.7m1 -0.7v0.4m2 -3.8v-0.7m3 0.7v-0.9m1 0.9v-1.1m5 4.5v0.8m2 -0.8v0.9m1 -0.9v0.3m4 -3.7v-0.4m5 3.8v0.6m4 -4v-0.4m0 3.8v0.8m2 -4.2v-0.5m0 3.9v1m3 -1v0.9m1 -4.3v-0.9m0 4.3v0.9m4 -0.9v0.5m1 -3.9v-0.9m3 0.9v-0.7m0 4.1v0.7m1 -4.1v-0.8m1 4.2v0.5m1 -0.5v0.8m5 -4.2v-1m1 1v-1m0 4.4v0.7m10 -0.7v0.7m13 -4.1v-1.1m7 4.5v0.4m1 -0.4v0.8m2 -0.8v0.9m3 -4.3v-1m0 4.4v0.6m3 -0.6v1.1m2 -4.5v-0.4m1 3.8v0.4m1 -0.4v0.3m1 -3.7v-0.8m1 0.8v-0.7m3 4.1v0.8m1 -4.2v-0.9m1 4.3v0.8m1 -4.2v-0.6m13 4v0.9m1 -0.9v0.6m6 -4v-0.5m2 0.5v-0.5m0 3.9v0.9m2 -4.3v-1.1m5 1v-0.7m0 4.2v0.7m1 -0.7v1m1 -1v0.7m6 -0.8v1m16 -1.1v0.3m2 -3.8v-0.9m1 0.9v-0.8m1 4.2v1m1 -1v1m1 -1v1m4 -4.5v-0.3m3 0.3v-1.1m6 1v-0.4m4 0.3v-1m3 1v-1.1m3 1.1v-0.8m4 4.2v1m3 -4.5v-0.5m2 0.5v-0.8m0 4.2v0.7m6 -4.1v-0.3m1 3.7v1.1m4 -4.5v-1m0 4.4v0.8m2 -4.2v-0.4m5 3.9v0.6m1 -4v-0.4m2 3.9v0.7m1 -0.7v0.6m1 -4v-0.7m1 4.1v0.6m3 -4v-0.9m2 4.4v0.8m1 -4.2v-0.5m0 3.9v0.5m5 -0.4v0.4m1 -3.8v-0.8m7 1v-0.7m0 4.2v0.9m1 -4.3v-1m1 1v-0.5m4 4v0.8m3 -0.7v0.4m3 -3.7v-0.3m0 3.7v0.8m5 -0.7v0.9m2 -0.8v0.8m1 -4.2v-0.9m3 0.9v-0.5m3 0.5v-0.8m1 0.9v-1m1 1v-0.9m3 4.3v0.7m2 -4.1v-0.8m1 0.8v-0.8m7 0.9v-0.5m3 3.9v0.9m2 -4.3v-1.1m0 4.5v0.6m2 -0.6v0.3m5 -3.7v-0.8m3 4.2v0.7m1 -4.1v-0.8m1 4.2v0.7m1 -4.1v-0.4m8 0.4v-0.6m0 4v0.3m1 -3.7v-1m0 4.4v0.7m2 -4.1v-0.3m8 0.3v-0.4m1 0.4v-0.7m4 4.1v0.6m2 -0.6v0.5m7 -0.5v0.7m6 -4.1v-0.6m2 0.6v-0.5m2 3.9v0.6m2 -4v-0.4m2 3.8v0.9m3 -0.9v0.5m2 -3.9v-1m2 1v-1m5 4.4v0.6m1 -0.6v1.1m1 -1.1v0.6m4 -4v-0.8m2 0.8v-0.7m1 0.7v-0.5m5 0.5v-0.7m3 4.1v0.4m2 -0.4v1m2 -4.4v-0.5m0 3.9v0.5m2 -3.9v-0.7m2 0.7v-0.7m0 4.1v0.9m5 -0.9v0.8m2 -4.2v-0.9m1 4.3v0.5m5 -3.9v-0.6m3 0.6v-0.7m1 0.7v-0.4m0 3.8v0.6m2 -4v-0.5m2 0.5v-0.7m0 4.1v0.4m1 -0.4v0.7m1 -4.1v-0.9m1 4.3v0.6m3 -4v-0.9m1 4.3v0.4m5 -3.8v-0.5m0 3.9v0.7m1 -0.7v1.1m12 -4.5v-0.6m2 0.6v-1m0 4.4v0.9m1 -4.3v-1.1m2 4.5v0.7m5 -4.1v-0.6m1 4v0.4m2 -3.8v-0.7m0 4.1v0.9m2 -4.3v-1m2 1v-0.7m0 4.1v0.4m3 -0.4v0.7m4 -4.1v-0.4m4 3.8v0.7m2 -4.1v-0.7m2 4.1v0.8m2 -4.2v-1m1 1v-0.6m1 0.6v-0.5m1 0.5v-0.9m1 0.9v-1m2 1v-0.4m3 3.8v1m3 -4.4v-0.7m1 0.7v-0.8m1 0.8v-0.6m1 4v1m5 -4.4v-1m1 4.4v0.3m4 -0.3v0.3m2 -0.3v0.7m2 -0.7v0.5m11 -3.9v-0.6m9 0.6v-0.4m6 0.4v-0.6m3 4v0.7m1 -4.1v-0.6m1 0.6v-0.9m0 4.3v0.9m1 -4.3v-0.6m1 0.6v-0.5m3 0.5v-1.1m2 1.1v-0.8m2 0.8v-0.5m2 0.5v-0.4m1 0.4v-0.5m0 3.9v0.5m1 -0.5v0.7m1 -0.7v1m1 -1v0.6m1 -0.6v0.8m7 -4.2v-1.1m2 4.5v0.7m1 -4.1v-0.7m1 4.1v0.6m1 -4v-0.5m2 3.9v0.4m4 -3.8v-0.9m0 4.3v0.4m3 -3.8v-0.9m1 0.9v-0.6m3 4v0.5m3 -0.5v0.7m4 -4.1v-0.8m2 4.2v0.9m4 -4.3v-0.4m1 3.8v0.6m2 -4v-0.9m3 4.3v0.9m2 -4.3v-0.3m1 3.7v1m6 -1v0.4m1 -0.4v1.1m2 -1.1v0.7m1 -0.7v0.8m1 -4.2v-0.7m2 4.1v0.6m3 -4v-0.9m1 0.9v-0.3m3 0.3v-0.4m0 3.8v0.7m7 -4.1v-1m2 1v-0.6m1 0.6v-1m2 1v-0.4m1 0.4v-0.3m1 0.3v-0.7m0 4.1v0.7m1 -4.1v-0.6m2 0.6v-0.7m1 4.1v0.4m2 -3.8v-0.7m3 0.7v-0.3m3 3.7v0.9m3 -4.3v-0.7m0 4.1v0.8m3 -0.8v1.1m2 -1.1v1m2 -4.4v-0.9m0 4.3v0.6m2 -4v-0.4m2 0.4v-0.5m1 0.5v-1m0 4.4v0.3m2 -3.7v-0.7m1 0.7v-0.8m0 4.2v0.8m3 -0.8v0.9m4 -0.9v1m3 -4.4v-0.5m1 0.5v-0.5m3 3.9v0.6m1 -4v-1m2 1v-0.7m1 0.7v-0.3m1 3.7v0.4m3 -3.8v-0.7m0 4.1v0.5m4 -3.9v-0.5m2 0.5v-0.8m10 4.2v0.7m1 -4.1v-0.4m4 3.8v0.8m4 -4.2v-1m2 1v-1.1m2 4.5v0.4m2 -3.8v-0.3m1 3.7v0.3m3 -3.7v-0.4m0 3.8v0.4m1 -3.8v-0.4m4 3.8v0.8m1 -4.2v-0.5m4 3.9v0.4m4 -3.8v-0.7m1 0.7v-0.7m1 0.7v-0.4m3 0.4v-0.8m4 0.8v-1m0 4.4v0.6m7 -0.6v1.1m2 -1.1v0.4m1 -3.8v-0.4m1 3.8v0.5m1 -3.9v-0.6m1 0.6v-0.4" fill="none" stroke="#000000" stroke-width="0.9"/>
<path d="M138.5 735.15l5 0.03l5 -0.09l5 -0.08l5 -0.02l5 0.17l5 0.04l5 -0.17l5 -0.02l5 -0.01l5 0l5 0.14l5 0.03l5 -0.03l5 0.07l5 -0.01l5 -0.09l5 -0.12l5 -0.01l5 0.16l5 -0.15l5 0.08l5 0.12l5 -0.07l5 -0.07l5 0.08l5 -0.09l5 0.13l5 -0.11l5 0.04l5 0l5 0.09l5 -0.14l5 0.16l5 -0.03l5 -0.18l5 0.06l5 0.07l5 0.01l5 -0.05l5 -0.04l5 0.13l5 0.02l5 -0.01l5 -0.07l5 0.04l5 -0.03l5 -0.03l5 0.03l5 -0.14l5 0.19l5 0l5 0.02l5 -0.14l5 0.02l5 0.02l5 0l5 -0.02l5 0.13l5 -0.23l5 0.05l5 0.13l5 -0.05l5 0.03l5 0.06l5 -0.02l5 -0.14l5 0.03l5 0.03l5 0.1l5 -0.19l5 0.2l5 -0.06l5 -0.12l5 0.12l5 -0.12l5 0.12l5 0.05l5 -0.11l5 -0.11l5 0.08l5 -0.04l5 -0.04l5 0.01l5 0.04l5 0.07l5 -0.1l5 0.16l5 0.03l5 -0.06l5 -0.06l5 0.1l5 -0.16l5 0.18l5 -0.02l5 0.02l5 -0.18l5 0.01l5 0.11l5 0.01l5 0.06l5 -0.06l5 0l5 -0.11l5 0l5 0.06l5 0.02l5 -0.04l5 0.06l5 0.08l5 -0.2l5 0.17l5 -0.1l5 0.03l5 -0.04l5 -0.07l5 0.1l5 -0.09l5 0.07l5 0l5 -0.04l5 0.1l5 -0.16l5 0.1l5 0.04l5 -0.02l5 -0.07l5 0.03l5 0.14l5 -0.13l5 -0.03l5 0.03l5 -0.09l5 0.21l5 -0.02l5 -0.19l5 0.03l5 0.09l5 -0.07l5 0.18l5 -0.13l5 0.07l5 -0.11l5 0.12l5 -0.07l5 -0.01l5 0.13l5 -0.01l5 -0.13l5 0.01l5 0.09l5 -0.03l5 -0.06l5 -0.01l5 -0.05l5 -0.02l5 0.19l5 -0.18l5 0.09l5 -0.06l5 -0.04l5 0.02l5 0.1l5 -0.05l5 0.08l5 -0.05l5 0.08l5 -0.2l5 0.06l5 0.15l5 -0.13l5 0.04l5 0.03l5 0.06l5 -0.1l4 -0.08" fill="none" stroke="#ff0000" stroke-width="3.6"/>
<path d="M146 733.6v-0.3m3 0.3v-0.5m3 0.5v-0.8m4 3.8v0.5m1 -3.5v-1.1m1 1.1v-0.6m2 0.6v-0.5m6 0.5v-0.4m1 3.4v0.5m7 -3.5v-0.8m5 0.8v-0.7m4 3.7v0.4m1 -3.4v-0.3m4 3.3v0.9m1 -0.9v0.7m2 -0.7v0.7m2 -0.7v1m11 -4v-0.4m2 0.4v-0.3m5 3.3v0.8m1 -0.8v0.4m1 -0.4v0.3m2 -0.3v1m1 -4v-0.8m0 3.8v0.4m2 -3.4v-0.7m0 3.7v0.4m1 -0.4v0.3m2 -3.3v-0.5m2 0.5v-0.5m2 0.5v-0.4m1 3.4v0.7m3 -0.7v0.6m2 -3.6v-0.6m0 3.6v0.3m2 -3.3v-0.7m0 3.7v0.8m1 -0.8v0.3m4 -3.3v-0.8m1 0.8v-0.3m0 3.3v0.9m2 -0.9v0.9m11 -3.9v-0.7m3 0.7v-0.6m3 0.6v-0.8m6 0.8v-0.6m2 0.6v-0.6m1 0.6v-1m1 4v1m1 -4v-0.8m0 3.8v0.8m1 -3.8v-0.4m1 0.4v-0.4m0 3.4v0.6m1 -0.6v1m7 -4v-0.8m0 3.8v1m1 -1v0.7m4 -3.7v-0.9m0 3.9v1.1m5 -1.1v0.3m1 -0.3v0.6m2 -0.6v0.5m4 -3.5v-0.3m3 3.3v1m4 -1v0.8m2 -0.8v0.8m3 -3.8v-1.1m0 4.1v1.1m2 -4.1v-0.8m3 0.8v-0.3m4 0.3v-1m1 4v1m1 -1v0.8m1 -3.8v-0.7m2 0.7v-0.9m3 3.9v0.4m5 -0.4v0.5m5 -0.5v0.6m3 -3.6v-0.6m0 3.6v0.5m3 -3.5v-0.5m2 3.5v0.8m1 -3.8v-0.5m1 0.5v-0.3m5 0.3v-0.7m1 3.7v0.3m2 -0.3v0.4m4 -0.4v0.3m3 -3.3v-0.3m6 0.3v-0.3m4 0.3v-0.4m1 3.4v1m1 -4v-1.1m1 1.1v-0.4m5 0.4v-0.8m2 0.8v-0.6m1 0.6v-1.1m2 4.1v1m2 -1v0.3m12 -3.3v-1m1 4v0.4m2 -3.4v-0.6m1 3.6v0.4m7 -3.4v-0.5m0 3.5v0.6m2 -3.6v-0.4m5 0.4v-1.1m0 4.1v0.5m3 -3.5v-1.1m2 4.1v0.4m6 -0.4v0.8m2 -3.8v-0.4m10 3.4v0.5m3 -0.5v0.4m1 -3.4v-0.9m0 3.9v0.5m2 -3.5v-0.7m2 3.7v1m1 -1v0.7m1 -3.7v-0.5m2 0.5v-0.6m3 0.6v-0.7m2 3.7v0.3m8 -3.3v-0.5m0 3.5v0.7m4 -0.7v0.7m2 -3.7v-0.8m1 0.8v-0.9m6 3.9v1m5 -4v-0.9m3 0.9v-0.7m1 3.7v0.3m5 -3.3v-1.1m6 1.1v-0.9m4 3.9v1.1m2 -4.1v-1m1 1v-0.9m2 0.9v-0.5m2 0.5v-0.7m2 3.7v0.7m1 -0.7v0.5m1 -0.5v0.8m1 -3.8v-0.7m3 3.7v1m2 -4v-0.5m1 3.5v1m1 -1v0.4m2 -0.4v1m5 -4v-0.4m5 0.4v-0.4m0 3.4v0.7m2 -0.7v0.9m5 -0.9v0.5m2 -0.5v0.9m1 -0.9v0.5m1 -3.5v-0.4m1 0.4v-0.4m1 3.4v0.8m1 -0.8v0.6m2 -3.6v-0.5m0 3.5v0.5m3 -3.5v-0.5m3 3.5v0.6m4 -3.6v-0.5m0 3.5v0.8m2 -3.8v-0.3m4 3.3v0.6m7 -3.6v-1m1 4v0.3m1 -3.3v-0.7m2 0.7v-1m0 4v0.4m1 -3.4v-0.9m1 0.9v-0.8m1 0.8v-0.5m0 3.5v0.9m2 -3.9v-0.6m0 3.6v0.8m1 -3.8v-1m6 4v0.8m2 -0.8v1.1m1 -4.1v-0.4m3 3.4v0.7m2 -3.7v-0.5m2 0.5v-0.4m2 3.4v0.5m1 -3.5v-0.9m2 0.9v-0.7m1 3.7v0.4m1 -0.4v1m5 -4v-1m2 4v0.3m2 -3.3v-1m0 4v0.5m2 -3.5v-0.9m2 0.9v-1.1m2 4.1v0.4m4 -0.4v0.9m4 -3.9v-0.6m0 3.6v1.1m3 -4.1v-1m1 1v-1m0 4v1m2 -4v-0.4m4 3.4v0.9m1 -3.9v-1.1m13 1.1v-0.6m6 3.6v0.4m2 -0.4v0.9m1 -3.9v-0.5m1 3.5v0.4m9 -3.4v-1m2 1v-0.6m4 0.6v-0.8m0 3.8v0.6m2 -0.6v1.1m2 -4.1v-0.9m5 3.9v0.7m3 -3.7v-0.8m0 3.8v0.7m2 -0.7v0.4m6 -0.4v1m3 -1v0.3m2 -0.3v0.8m8 -3.8v-0.5m2 3.5v0.3m1 -0.3v0.8m6 -0.8v0.3m2 -0.3v0.8m1 -3.8v-1m8 1v-1m0 4v0.6m1 -3.6v-0.9m2 0.9v-0.6m5 0.6v-0.3m2 3.3v0.6m1 -0.6v0.4m2 -0.4v0.4m1 -3.4v-0.8m1 0.8v-0.9m1 3.9v0.3m8 -0.3v0.6m1 -0.6v0.3m3 -3.3v-0.6m1 3.6v0.6m3 -3.6v-0.4m5 0.4v-1.1m5 4.1v1m3 -4v-0.6m0 3.6v0.7m4 -3.7v-0.4m4 0.4v-0.9m0 3.9v0.3m1 -3.3v-0.3m1 3.3v0.5m1 -3.5v-0.7m5 0.7v-0.8m1 3.8v0.8m5 -3.8v-1m1 4v0.4m3 -0.4v0.9m4 -3.9v-0.3m0 3.3v1m1 -1v0.8m5 -0.8v0.9m1 -0.9v1.1m3 -4.1v-0.3m1 3.3v0.4m2 -0.4v0.9m9 -3.9v-0.5m1 0.5v-0.6m1 0.6v-0.7m0 3.7v1m2 -4v-0.8m3 3.8v0.5m4 -0.5v0.3m4 -0.3v0.5m3 -3.5v-0.7m3 3.7v0.6m3 -3.6v-1m3 1v-0.4m1 3.4v0.8m3 -0.8v0.8m1 -3.8v-0.7m7 0.7v-0.9m2 3.9v1m2 -1v1m2 -1v0.7m2 -3.7v-0.4m3 0.4v-0.5m4 0.5v-0.8m7 3.8v0.4m1 -3.4v-0.4m0 3.4v0.4m1 -0.4v0.8m1 -0.8v1m1 -4v-0.8m2 0.8v-0.8m0 3.8v1m1 -4v-0.8m5 0.8v-0.8m1 0.8v-0.4m2 0.4v-0.4m4 3.4v0.7m1 -3.7v-0.7m4 3.7v0.9m2 -0.9v0.6m3 -0.6v0.6m4 -3.6v-0.7m3 0.7v-1m6 1v-0.7m1 3.7v0.8m3 -3.8v-0.5m0 3.5v0.7m1 -3.7v-0.9m1 3.9v0.7m6 -3.7v-0.9m1 0.9v-0.9m2 0.9v-0.6m8 0.6v-1m0 4v0.4m2 -3.4v-0.6m1 0.6v-1.1m2 4.1v0.6m1 -0.6v0.4m1 -3.4v-0.9m3 3.9v0.7m2 -0.7v0.7m5 -3.7v-1m3 4v0.9m3 -0.9v0.9m2 -0.9v0.6m4 -0.6v0.8m3 -0.8v1.1m2 -1.1v0.8m2 -0.8v0.8m4 -0.8v0.4m10 -3.4v-0.4m1 0.4v-0.5m10 0.5v-0.3m0 3.3v0.7" fill="none" stroke="#ff0000" stroke-width="0.9"/>
<path d="M138.5 766.67l5 -0.06l5 0.11l5 -0.19l5 0.16l5 0.01l5 -0.14l5 0.16l5 -0.01l5 0.03l5 0.02l5 -0.07l5 -0.03l5 -0.07l5 0.04l5 0.09l5 -0.04l5 -0.11l5 -0.04l5 0l5 0.19l5 -0.14l5 -0.03l5 0.02l5 0.02l5 -0.02l5 0l5 0.05l5 -0.01l5 -0.02l5 -0.01l5 -0.01l5 0.15l5 -0.16l5 0.01l5 0.01l5 0.14l5 -0.03l5 0.02l5 -0.15l5 0.1l5 -0.09l5 0.03l5 0.03l5 -0.09l5 0.11l5 -0.12l5 0.02l5 0.03l5 0.05l5 0.06l5 0l5 -0.1l5 0.03l5 0.1l5 -0.11l5 0.08l5 -0.17l5 0.18l5 -0.05l5 -0.12l5 0.11l5 0.09l5 -0.17l5 0.13l5 -0.13l5 0.13l5 -0.12l5 -0.05l5 0.02l5 0.19l5 -0.19l5 0.07l5 0.13l5 0l5 -0.08l5 0l5 -0.04l5 0.05l5 0.04l5 -0.01l5 -0.15l5 0.13l5 -0.02l5 0.04l5 -0.07l5 0.11l5 -0.18l5 0.13l5 -0.1l5 0.09l5 0.01l5 0.05l5 -0.11l5 -0.02l5 -0.09l5 0.22l5 -0.12l5 -0.1l5 0.02l5 0.01l5 0.13l5 0.05l5 -0.07l5 -0.02l5 0.11l5 -0.08l5 -0.05l5 0.08l5 -0.12l5 0.15l5 0.02l5 -0.19l5 0.17l5 -0.07l5 -0.06l5 -0.06l5 0.17l5 -0.12l5 0.14l5 -0.18l5 0.08l5 0.12l5 0.01l5 -0.09l5 0.05l5 -0.17l5 0.17l5 -0.2l5 0.2l5 -0.09l5 0.05l5 -0.04l5 0.11l5 0l5 0l5 -0.18l5 0.1l5 -0.11l5 -0.04l5 0.14l5 0.02l5 -0.07l5 0.15l5 0l5 -0.11l5 0.02l5 -0.08l5 0.01l5 0.05l5 -0.07l5 0.16l5 -0.06l5 -0.14l5 0.16l5 -0.05l5 0.01l5 0.09l5 -0.19l5 0.14l5 -0.17l5 0.05l5 0.12l5 -0.1l5 0.16l5 -0.05l5 -0.12l5 0.05l5 -0.08l5 0.1l5 0.03l5 -0.1l5 0.16l5 -0.16l5 0.1l4 -0.01" fill="none" stroke="#0000ff" stroke-width="3.6"/>
<path d="M139 765.1v-0.4m5 3.4v0.6m6 -0.6v1m1 -4v-0.6m1 3.6v0.6m4 -3.6v-0.5m2 3.5v0.9m1 -0.9v0.8m1 -0.8v0.9m2 -3.9v-0.4m2 3.4v1m2 -1v0.9m3 -0.9v0.3m1 -0.3v0.5m1 -3.5v-0.3m1 3.3v0.9m2 -3.9v-0.7m1 3.7v1.1m3 -4.1v-0.3m1 0.3v-0.4m0 3.4v0.4m3 -0.4v0.4m4 -0.4v0.9m1 -0.9v0.6m2 -3.6v-0.6m0 3.6v0.4m5 -3.4v-1.1m1 1.1v-0.8m0 3.8v1m1 -1v0.7m3 -0.7v1m1 -1v0.9m4 -3.9v-0.8m4 0.8v-0.5m2 3.5v0.4m4 -3.4v-0.9m1 0.9v-0.7m5 3.7v0.6m3 -0.6v0.5m1 -0.5v0.9m2 -0.9v1.1m4 -1.1v1.1m6 -1.1v0.9m2 -0.9v0.4m5 -3.4v-0.4m0 3.4v0.5m2 -0.5v0.6m2 -3.6v-0.7m1 3.7v1m1 -4v-0.9m2 0.9v-0.4m0 3.4v0.5m4 -3.5v-0.5m1 3.5v0.7m6 -3.7v-0.9m4 0.9v-1m0 4v0.6m5 -3.6v-0.9m4 0.9v-0.3m1 0.3v-1.1m1 4.1v0.4m6 -0.4v0.6m1 -0.6v0.8m5 -0.8v1.1m2 -1.1v0.7m3 -0.7v0.7m2 -0.7v0.5m1 -0.5v0.5m1 -0.5v0.8m2 -0.8v0.6m5 -3.6v-0.9m0 3.9v0.6m2 -3.6v-1.1m1 1.1v-0.9m4 0.9v-1m0 4v0.8m10 -0.8v0.5m1 -0.5v0.4m2 -3.4v-0.5m0 3.5v0.3m3 -0.3v0.4m1 -0.4v0.9m4 -3.9v-0.6m1 0.6v-0.9m2 3.9v0.6m2 -3.6v-0.3m0 3.3v0.7m3 -0.7v0.4m3 -3.4v-0.7m0 3.7v0.7m1 -3.7v-0.9m1 3.9v0.8m1 -0.8v0.4m1 -3.4v-0.4m1 0.4v-0.7m5 0.7v-1m0 4v0.6m6 -3.6v-0.6m2 3.6v0.4m4 -3.4v-1.1m5 4.1v1m2 -1v0.4m3 -0.4v0.8m1 -3.8v-0.8m0 3.8v0.9m3 -3.9v-0.4m7 0.4v-0.5m4 3.5v0.9m3 -0.9v0.8m1 -3.8v-0.9m7 3.9v0.3m2 -3.3v-0.5m0 3.5v0.8m3 -3.8v-0.6m2 3.6v0.9m1 -0.9v0.4m1 -0.4v0.4m1 -0.4v1m3 -4v-0.8m1 0.8v-0.6m1 3.6v0.3m3 -0.3v0.5m1 -0.5v1m2 -1v0.5m1 -0.5v1.1m4 -1.1v1.1m4 -4.1v-0.8m1 0.8v-0.7m1 3.7v0.8m3 -3.8v-0.6m2 3.6v0.5m7 -0.5v0.3m1 -0.3v0.8m7 -0.8v0.7m4 -3.7v-0.7m5 3.7v0.4m4 -3.4v-0.3m1 3.3v1m2 -1v0.4m1 -3.4v-0.7m3 3.7v0.8m6 -3.8v-1m4 1v-0.3m3 3.3v0.8m4 -0.8v1.1m5 -1.1v0.9m1 -3.9v-1m2 4v0.7m3 -0.7v0.7m2 -3.7v-0.9m4 3.9v0.8m5 -3.8v-0.8m0 3.8v0.5m1 -0.5v1m4 -1v0.5m4 -3.5v-1.1m3 1.1v-1m2 4v0.8m1 -0.8v0.3m8 -3.3v-0.8m2 0.8v-0.9m2 0.9v-0.4m2 3.4v1.1m1 -4.1v-0.4m6 3.4v0.6m6 -3.6v-0.9m0 3.9v0.8m2 -3.8v-1m1 1v-0.8m4 3.8v0.6m1 -3.6v-0.4m3 0.4v-0.5m1 3.5v0.7m2 -0.7v0.6m5 -3.6v-0.7m3 0.7v-0.8m1 3.8v0.6m6 -3.6v-0.6m0 3.6v0.8m4 -3.8v-0.7m10 3.7v0.6m1 -3.6v-0.9m1 0.9v-0.4m3 3.4v0.3m1 -0.3v0.8m5 -3.8v-0.9m2 3.9v0.8m2 -3.8v-0.4m0 3.4v0.3m2 -3.3v-0.9m4 3.9v0.6m2 -3.6v-0.3m0 3.3v0.6m4 -0.6v0.3m3 -3.3v-0.3m1 0.3v-1m3 4v0.9m1 -3.9v-0.7m1 3.7v0.5m1 -3.5v-0.3m2 0.3v-1.1m1 1.1v-0.6m1 0.6v-0.9m1 3.9v0.7m2 -0.7v0.5m2 -0.5v0.7m1 -0.7v0.9m1 -3.9v-0.5m0 3.5v0.6m1 -0.6v1.1m1 -1.1v1m1 -1v0.6m5 -0.6v0.6m2 -0.6v1m2 -1v0.3m1 -3.3v-0.8m0 3.8v0.9m2 -3.9v-0.5m1 0.5v-0.7m2 0.7v-0.4m0 3.4v0.4m4 -0.4v0.7m1 -0.7v0.5m1 -3.5v-0.6m0 3.6v0.3m3 -3.3v-0.4m1 0.4v-0.4m3 3.4v0.6m3 -3.6v-0.9m2 3.9v0.8m1 -0.8v1m2 -1v0.9m1 -3.9v-0.5m1 3.5v0.4m5 -3.4v-0.6m2 0.6v-0.4m1 0.4v-1m4 4v1m2 -4v-0.6m0 3.6v0.5m1 -0.5v0.8m5 -0.8v0.9m3 -3.9v-1m3 1v-0.8m5 3.8v0.3m3 -3.3v-0.7m1 0.7v-0.3m0 3.3v0.7m2 -0.7v0.4m1 -3.4v-0.5m1 3.5v0.6m3 -3.6v-0.3m1 0.3v-0.7m4 0.7v-1m3 4v0.6m1 -0.6v0.6m2 -3.6v-0.7m3 0.7v-0.9m1 3.9v1.1m1 -1.1v1m2 -4v-0.7m0 3.7v0.8m1 -0.8v0.8m6 -3.8v-0.6m0 3.6v0.9m4 -3.9v-0.4m1 0.4v-0.4m2 0.4v-1m1 4v0.8m7 -0.8v0.9m2 -0.9v0.4m2 -3.4v-0.8m2 3.8v1m9 -4v-1m4 4v0.4m1 -0.4v0.6m6 -3.6v-0.7m1 3.7v0.9m1 -3.9v-0.9m5 3.9v0.8m2 -3.8v-0.6m1 0.6v-0.8m0 3.8v0.7m2 -3.7v-0.5m1 0.5v-1m4 4v0.7m5 -0.7v0.5m2 -3.5v-0.5m1 0.5v-0.4m1 0.4v-0.8m1 0.8v-0.4m0 3.4v0.8m3 -0.8v1.1m1 -4.1v-0.8m3 0.8v-0.9m0 3.9v0.9m2 -0.9v1m1 -1v1.1m3 -4.1v-1m1 1v-1.1m0 4.1v0.8m6 -0.8v0.5m2 -3.5v-0.9m1 3.9v0.9m2 -0.9v0.8m7 -3.8v-0.4m1 0.4v-0.4m1 3.4v1m11 -4v-0.7m2 0.7v-0.4m11 0.4v-1.1m5 4.1v0.7m1 -3.7v-0.7m2 3.7v0.3m3 -0.3v1.1m3 -4.1v-0.7m0 3.7v0.8m1 -3.8v-0.8m1 0.8v-0.6m0 3.6v0.9m6 -3.9v-1m3 4v0.7m2 -3.7v-0.8m6 0.8v-0.7m6 3.7v0.8m5 -3.8v-0.7m1 3.7v0.5m2 -0.5v0.9m2 -3.9v-0.4m7 0.4v-0.6m0 3.6v0.9m1 -0.9v0.8m4 -3.8v-0.5m0 3.5v0.4m7 -3.4v-1.1m1 1.1v-0.4m2 3.4v0.9m4 -3.9v-0.5m0 3.5v0.5m6 -3.5v-0.9m0 3.9v0.6m4 -0.6v0.4m2 -0.4v1m9 -4v-1.1m1 4.1v0.5m3 -0.5v1.1m2 -4.1v-0.4m1 3.4v1m3 -1v0.3m3 -0.3v0.4m2 -3.4v-0.6m4 0.6v-1.1m0 4.1v0.6m7 -3.6v-0.4m2 3.4v0.4m2 -3.4v-0.4m1 0.4v-0.4m3 3.4v0.9" fill="none" stroke="#0000ff" stroke-width="0.9"/>
<path d="M514 760L514 772L515 759.5L515 773.7L516 761L516 773.7L517 761.5L517 770L518 763L518 770L519 755L519 773.7L520 756L520 773.7L521 759L521 773L522 762L522 770L523 764L523 769" fill="none" stroke="#0000ff" stroke-width="1.75" stroke-linejoin="round"/>
<path d="M138.5 800.83l5 -0.25l5 -0.29l5 -0.13l5 -0.37l5 0.03l5 -0.27l5 -0.22l5 -0.03l5 -0.04l5 -0.12l5 -0.02l5 -0.12l5 -0.17l5 -0.16l5 0l5 -0.04l5 -0.03l5 0.04l5 -0.01l5 -0.15l5 0.05l5 -0.16l5 0.08l5 -0.14l5 -0.04l5 0.14l5 -0.02l5 -0.04l5 -0.03l5 -0.09l5 0.02l5 -0.05l5 0.08l5 0.03l5 -0.18l5 0.04l5 0.16l5 -0.04l5 0.04l5 -0.07l5 -0.1l5 0.02l5 -0.04l5 0.1l5 -0.04l5 0.02l5 -0.06l5 0.13l5 0l5 -0.11l5 -0.07l5 0.17l5 -0.11l5 0.04l5 0.04l5 0.01l5 -0.07l5 -0.11l5 0l5 0.2l5 -0.15l5 0.1l5 0.02l5 -0.14l5 0.06l5 -0.09l5 0.02l5 0.17l5 -0.11l5 -0.01l5 -0.07l5 0.13l5 -0.12l5 0.2l5 -0.05l5 -0.05l5 -0.07l5 0.02l5 -0.07l5 0.04l5 0.05l5 -0.02l5 0.09l5 -0.15l5 0.21l5 -0.03l5 -0.03l5 -0.1l5 0.13l5 -0.09l5 0.01l5 -0.07l5 0.14l5 0l5 -0.18l5 0.16l5 -0.1l5 0.16l5 -0.14l5 0.03l5 -0.01l5 0.13l5 -0.05l5 -0.14l5 0.06l5 0.09l5 -0.05l5 -0.07l5 0l5 0.01l5 -0.06l5 0.03l5 0.09l5 0.07l5 -0.17l5 0.03l5 -0.03l5 0.16l5 -0.05l5 -0.09l5 0.04l5 0.02l5 -0.05l5 0.14l5 0.01l5 -0.13l5 -0.06l5 0.06l5 -0.02l5 0.13l5 -0.03l5 0.04l5 -0.05l5 -0.16l5 0.04l5 0.05l5 -0.02l5 -0.01l5 0.17l5 0l5 -0.13l5 -0.06l5 0.19l5 0l5 -0.15l5 0.06l5 0.07l5 -0.07l5 -0.1l5 -0.01l5 0.16l5 -0.12l5 -0.05l5 0.16l5 -0.01l5 -0.02l5 -0.01l5 -0.09l5 0.14l5 -0.12l5 0.08l5 -0.1l5 -0.02l5 0.1l5 0.04l5 0.06l5 -0.08l5 -0.13l5 0.21l5 -0.09l5 -0.03l5 -0.06l5 0.05l5 0l4 0.1" fill="none" stroke="#008000" stroke-width="3.6"/>
<path d="M139 802.3v0.9m1 -4v-0.7m1 3.7v1m3 -1.2v0.5m1 -0.5v0.4m6 -0.7v0.7m2 -3.8v-0.6m1 3.6v0.8m2 -3.9v-0.8m0 3.8v0.6m2 -3.7v-0.6m3 0.5v-0.6m8 3.4v1m1 -1.1v0.6m8 -3.8v-1.1m0 4.1v1m3 -4v-0.8m0 3.8v0.4m6 -0.6v0.8m1 -0.8v0.4m4 -0.5v0.5m7 -0.6v1m2 -4v-0.4m1 3.4v0.9m1 -3.9v-0.5m0 3.5v0.3m1 -3.4v-0.6m0 3.6v0.6m1 -0.6v0.8m2 -3.8v-0.7m2 0.7v-0.7m2 3.7v0.8m4 -0.9v0.3m2 -0.3v0.4m2 -0.4v0.9m1 -0.9v0.7m5 -3.8v-1m1 4v0.9m1 -0.9v0.4m4 -3.4v-0.4m3 0.3v-0.7m1 0.7v-0.9m3 3.9v0.6m4 -0.6v0.6m2 -0.6v1m2 -1v0.7m2 -3.7v-0.5m0 3.5v0.4m1 -3.5v-0.9m1 3.9v0.7m3 -3.7v-1m3 1v-0.4m1 0.4v-0.7m4 3.7v0.5m1 -3.5v-1.1m1 1.1v-0.8m2 3.8v0.4m1 -0.4v0.8m7 -3.9v-1.1m1 1.1v-1m1 1v-0.6m3 0.6v-0.5m8 0.5v-1m0 4v0.5m2 -0.5v0.8m11 -3.8v-0.4m3 3.4v0.7m4 -3.7v-1m1 4v0.9m1 -3.9v-0.8m4 3.8v1m4 -1.1v0.6m1 -0.6v0.7m2 -3.7v-0.6m1 3.6v0.3m9 -3.3v-0.7m2 3.7v0.6m1 -3.6v-0.5m0 3.5v0.7m3 -0.7v0.3m1 -0.3v0.5m1 -3.5v-0.8m2 3.8v1.1m1 -4.1v-0.3m2 0.3v-1m1 1v-0.6m1 0.6v-1.1m2 4.1v1m3 -1v0.6m4 -0.6v0.5m1 -3.5v-0.8m2 0.8v-0.9m1 0.9v-0.5m1 3.5v0.6m3 -0.6v0.4m1 -3.4v-0.6m2 0.6v-0.6m3 3.6v1m4 -1v0.9m1 -3.9v-0.5m2 3.5v0.4m3 -3.4v-0.8m0 3.8v0.7m1 -3.7v-0.6m1 3.6v0.9m1 -3.9v-0.8m2 3.8v0.6m2 -3.6v-0.8m3 0.8v-1.1m3 1.1v-1.1m1 4.1v0.3m2 -0.3v0.9m1 -3.9v-0.7m3 3.7v0.4m1 -3.4v-0.7m7 0.7v-0.9m4 0.9v-0.7m1 0.7v-1m1 4v1m5 -1v0.7m3 -3.7v-0.4m2 0.4v-1m3 4v1m4 -1v0.4m1 -0.4v1.1m2 -4.1v-1m3 4v0.8m2 -0.8v0.6m5 -0.6v0.5m1 -3.5v-0.8m2 0.8v-0.9m0 3.9v0.8m3 -3.8v-1m4 1v-0.4m6 0.4v-0.5m5 0.5v-0.5m7 3.5v0.8m6 -3.8v-0.9m1 0.9v-0.4m0 3.4v0.7m5 -0.7v0.6m2 -3.6v-0.6m1 3.6v0.3m2 -0.3v0.9m1 -0.9v0.6m4 -3.6v-0.8m2 0.8v-0.4m0 3.4v0.6m4 -0.6v0.4m3 -0.4v0.7m2 -3.7v-0.9m0 3.9v1m1 -4v-1m3 1v-0.8m0 3.8v0.8m2 -3.8v-0.8m1 0.8v-0.9m0 3.9v0.7m3 -0.7v0.5m1 -0.5v0.3m2 -0.3v0.8m2 -0.8v0.9m2 -3.9v-0.9m3 0.9v-0.6m0 3.6v0.8m2 -0.8v0.8m1 -0.8v0.6m4 -3.6v-0.5m2 0.5v-0.8m11 3.8v0.5m1 -3.5v-0.7m2 3.7v0.5m3 -3.5v-0.4m1 3.4v1m8 -1v1m7 -1v0.6m1 -3.6v-0.5m18 0.5v-0.8m3 0.8v-0.8m5 0.8v-0.6m1 0.6v-1.1m2 1.1v-0.4m2 3.4v0.4m4 -0.4v0.9m2 -0.9v1m13 -1v0.9m12 -3.9v-1m6 1v-0.9m0 3.9v0.8m3 -3.8v-0.4m1 3.4v0.8m1 -3.8v-0.7m9 3.7v0.3m1 -0.3v0.7m1 -3.7v-0.4m0 3.4v0.9m1 -0.9v0.5m2 -0.5v0.6m2 -3.6v-0.7m0 3.7v1m10 -1v0.5m3 -0.5v0.9m1 -3.9v-1m2 1v-1m1 4v0.4m1 -3.4v-0.4m1 0.4v-0.4m1 0.4v-1m1 1v-0.7m2 0.7v-0.8m1 3.8v0.4m2 -3.4v-0.3m3 3.3v0.7m3 -3.7v-0.4m7 0.4v-0.4m0 3.4v0.3m1 -0.3v0.5m1 -0.5v0.9m3 -0.9v0.6m3 -0.6v0.3m2 -3.3v-0.7m1 0.7v-0.4m4 0.4v-0.6m5 3.6v0.6m1 -3.6v-0.9m4 3.9v0.8m5 -3.8v-0.8m1 3.8v1.1m8 -1.1v0.9m1 -0.9v0.4m1 -3.4v-0.9m5 3.9v0.6m2 -3.6v-0.7m2 3.7v0.6m2 -0.6v0.8m1 -3.8v-1m2 4v0.5m1 -3.5v-0.8m2 0.8v-1m1 1v-0.6m4 3.6v0.9m1 -3.9v-0.9m3 0.9v-0.4m4 3.4v0.8m1 -3.8v-0.8m2 3.8v0.5m1 -0.5v0.4m1 -0.4v1m2 -4v-0.6m1 3.6v1m1 -4v-0.8m2 3.8v0.9m1 -3.9v-0.3m2 0.3v-0.8m2 0.8v-0.3m1 3.3v0.3m2 -0.3v0.6m1 -3.6v-0.4m3 3.4v0.8m3 -3.8v-1m2 1v-0.8m10 0.8v-0.4m0 3.4v0.6m2 -3.6v-0.4m11 0.4v-0.5m2 3.5v0.7m1 -3.7v-0.5m1 0.5v-0.5m4 0.5v-0.9m1 3.9v0.6m4 -3.6v-0.5m6 0.5v-0.6m2 0.6v-0.8m0 3.8v1m1 -1v0.7m5 -0.7v0.6m3 -3.6v-1.1m7 1.1v-0.4m3 0.4v-0.8m4 0.8v-1.1m4 4.1v0.5m4 -0.5v1m4 -4v-0.9m0 3.9v0.3m4 -3.3v-0.5m1 0.5v-0.5m3 3.5v0.7m1 -0.7v0.9m3 -3.9v-1m3 1v-0.9m0 3.9v1.1m3 -4.1v-0.8m1 3.8v0.6m2 -3.6v-0.6m5 0.6v-1.1m4 4.1v0.6m1 -0.6v0.4m2 -3.4v-0.7m2 3.7v0.6m2 -0.6v0.7m8 -3.7v-0.7m2 3.7v0.3m1 -3.3v-0.9m2 3.9v0.6m1 -3.6v-1.1m1 4.1v0.7m1 -0.7v0.6m4 -0.6v0.9m4 -3.9v-0.8m0 3.8v0.7m4 -3.7v-0.9m2 0.9v-0.6m1 3.6v0.3m3 -3.3v-0.9m1 0.9v-0.8m1 0.8v-0.8m0 3.8v0.9m3 -3.9v-0.5m1 0.5v-0.4m4 0.4v-0.9m9 3.9v1m2 -4v-1m0 4v0.5m8 -3.5v-0.9m0 3.9v0.5m1 -0.5v0.7m3 -3.7v-0.6m8 3.6v0.7m10 -3.7v-0.4m5 3.4v0.6m1 -0.6v0.9m1 -0.9v0.7m2 -0.7v0.7m8 -3.7v-0.3m2 0.3v-0.9" fill="none" stroke="#008000" stroke-width="0.9"/>
<path d="M138.5 829.74l5 0.08l5 -0.01l5 -0.09l5 0.03l5 0.03l5 -0.09l5 -0.07l5 0.11l5 -0.1l5 0.05l5 0.15l5 -0.05l5 -0.14l5 0.12l5 -0.08l5 -0.01l5 0.17l5 -0.12l5 0.07l5 0.02l5 -0.11l5 -0.08l5 0.04l5 -0.01l5 0.2l5 -0.21l5 0.03l5 0.06l5 -0.01l5 -0.08l5 0.19l5 -0.2l5 0.2l5 -0.08l5 -0.01l5 -0.11l5 0.15l5 -0.16l5 0.2l5 -0.14l5 -0.03l5 0.17l5 -0.14l5 -0.02l5 0.07l5 -0.01l5 -0.05l5 0l5 0.02l5 0.11l5 -0.03l5 0.01l5 0.06l5 -0.11l5 -0.03l5 -0.08l5 0.09l5 0.02l5 0.01l5 0.06l5 -0.05l5 -0.1l5 0.01l5 0.05l5 0.04l5 0.05l5 -0.03l5 -0.04l5 -0.12l5 0.13l5 0.06l5 -0.12l5 0.12l5 -0.17l5 -0.02l5 0.19l5 -0.14l5 -0.03l5 0.09l5 0.04l5 0.04l5 -0.1l5 0.14l5 -0.01l5 -0.09l5 0.06l5 -0.05l5 0.06l5 -0.1l5 -0.06l5 0.11l5 -0.13l5 0l5 0.04l5 -0.01l5 0.04l5 0.12l5 -0.14l5 0.01l5 0.15l5 -0.22l5 0.12l5 -0.03l3.5 -0.06" fill="none" stroke="#000000" stroke-width="3.6"/>
<path d="M141 831.2v1.1m4 -4.1v-1m0 4v0.3m2 -3.3v-0.7m1 3.7v1m3 -1v0.5m2 -3.5v-0.5m3 3.5v0.5m3 -0.5v0.9m1 -0.9v1m3 -4v-1.1m1 1.1v-0.5m1 0.5v-0.8m0 3.8v0.5m1 -0.5v0.9m1 -0.9v1m1 -1v1.1m2 -1.1v0.8m4 -3.8v-0.8m4 3.8v1m5 -1v0.7m2 -3.7v-0.6m1 3.6v0.6m4 -0.6v0.3m1 -0.3v0.7m4 -0.7v0.5m14 -3.5v-1.1m1 1.1v-0.5m0 3.5v0.5m1 -0.5v0.7m3 -3.7v-0.4m0 3.4v0.3m5 -3.3v-0.5m1 0.5v-0.8m3 0.8v-0.4m1 3.4v0.6m2 -0.6v0.9m1 -3.9v-0.9m1 0.9v-0.5m1 0.5v-0.4m2 0.4v-0.4m3 3.4v1m2 -4v-0.3m1 3.3v0.8m1 -3.8v-1m3 4v0.8m1 -3.8v-0.3m8 0.3v-0.4m0 3.4v0.5m4 -3.5v-0.4m3 0.4v-0.6m2 0.6v-0.3m4 3.3v0.4m1 -3.4v-0.3m1 3.3v0.4m3 -0.4v1m2 -1v0.5m3 -0.5v0.8m6 -0.8v0.6m3 -0.6v0.6m3 -3.6v-0.8m1 3.8v0.6m2 -0.6v0.5m1 -0.5v0.7m1 -3.7v-0.3m4 0.3v-0.9m2 3.9v0.8m4 -0.8v0.8m1 -3.8v-1m3 1v-0.6m4 3.6v0.4m2 -0.4v0.9m6 -3.9v-0.5m1 3.5v0.8m4 -0.8v0.3m9 -0.3v0.9m1 -3.9v-0.3m6 3.3v0.6m3 -3.6v-0.9m6 0.9v-1m4 4v0.9m2 -3.9v-0.7m0 3.7v0.8m1 -3.8v-0.7m0 3.7v0.6m1 -3.6v-0.8m1 0.8v-0.5m1 0.5v-1m0 4v0.7m2 -0.7v1m1 -4v-0.6m5 0.6v-0.4m3 0.4v-0.5m3 0.5v-0.9m1 0.9v-0.6m1 3.6v0.8m3 -3.8v-0.7m1 0.7v-0.5m1 0.5v-0.5m4 0.5v-0.3m1 3.3v0.5m11 -3.5v-0.7m2 3.7v0.9m1 -0.9v0.9m1 -3.9v-0.8m1 3.8v0.4m1 -3.4v-1m5 4v0.6m3 -0.6v0.7m6 -0.7v0.4m2 -0.4v0.7m2 -0.7v0.6m1 -0.6v0.7m6 -3.7v-0.9m3 3.9v0.7m5 -0.7v0.9m6 -3.9v-0.4m1 3.4v0.9m2 -3.9v-0.9m1 0.9v-0.4m1 0.4v-0.4m3 0.4v-0.5m5 0.5v-0.9m1 3.9v0.5m1 -3.5v-1.1m0 4.1v1.1m3 -4.1v-0.5m1 3.5v1m2 -4v-0.7m3 3.7v0.4m2 -3.4v-0.8m4 3.8v0.3m3 -0.3v0.9m1 -3.9v-0.6m4 0.6v-1.1m0 4.1v0.6m8 -0.6v0.5m2 -0.5v1m3 -4v-0.8m4 3.8v0.8m4 -3.8v-0.7m6 3.7v0.8m1 -3.8v-0.4m0 3.4v0.8m5 -3.8v-0.9m2 3.9v0.7m3 -0.7v0.6m1 -0.6v0.7m4 -3.7v-0.6m2 0.6v-0.9m0 3.9v0.9m2 -0.9v1m1 -4v-0.3m0 3.3v1m3 -4v-0.8m1 3.8v1.1m3 -4.1v-0.7m3 3.7v0.7m1 -3.7v-0.8m0 3.8v0.8m1 -3.8v-0.5m1 0.5v-0.9m8 0.9v-0.8m1 0.8v-0.5m2 3.5v0.4m4 -0.4v0.5m1 -3.5v-0.5m1 0.5v-1.1m0 4.1v0.4m8 -3.4v-0.4m0 3.4v0.7m3 -0.7v0.8m3 -0.8v0.8m1 -3.8v-1m3 4v0.5m1 -3.5v-1m2 1v-0.6m1 0.6v-1m1 4v1m3 -4v-1m0 4v0.9m1 -0.9v0.6m1 -3.6v-0.8m1 0.8v-0.9m1 3.9v0.5m2 -3.5v-0.6m5 0.6v-0.6m3 0.6v-0.4m3 0.4v-0.7m8 0.7v-0.8m9 3.8v0.7m1 -3.7v-0.6m4 0.6v-0.9m1 0.9v-0.5m6 0.5v-0.7m1 0.7v-0.8m0 3.8v0.5m2 -0.5v0.9m9 -0.9v0.7m6 -3.7v-1.1m5 4.1v0.8m1 -3.8v-0.7m1 3.7v0.9m2 -3.9v-0.5m2 0.5v-0.8" fill="none" stroke="#000000" stroke-width="0.9"/>
<path d="M215.3 390L215.3 522" stroke="#000" stroke-width="2.2"/><path d="M216.5 405L216.5 492" stroke="#000" stroke-width="1.9"/><path d="M220.3 406L220.3 480" stroke="#000" stroke-width="1.9"/><path d="M222.05 30L221.5 880" stroke="#000" stroke-width="2.1"/><path d="M223.1 437L223.1 481" stroke="#000" stroke-width="1.8"/><path d="M227 437L227 467" stroke="#000" stroke-width="1.8"/><path d="M230 364L230 551" stroke="#000" stroke-width="2"/><path d="M231.6 322L231.6 551" stroke="#000" stroke-width="2.2"/><path d="M234.5 411L234.5 495" stroke="#000" stroke-width="2"/><path d="M241.3 321L241.3 583" stroke="#000" stroke-width="2.2"/><path d="M245.8 342L245.8 576" stroke="#000" stroke-width="2.2"/><path d="M249.5 392L249.5 528" stroke="#000" stroke-width="1.9"/><path d="M251.2 268L251.2 593" stroke="#000" stroke-width="2.2"/><path d="M253.2 397L253.2 530" stroke="#000" stroke-width="1.9"/><path d="M255.85 30L254.95 880" stroke="#000" stroke-width="2.1"/><path d="M258.8 423L258.8 500" stroke="#000" stroke-width="1.8"/><path d="M263 422L263 500" stroke="#000" stroke-width="1.8"/><path d="M265.5 405L265.5 498" stroke="#000" stroke-width="1.9"/><path d="M268.9 203L268.9 880" stroke="#000" stroke-width="2.1"/><path d="M269.9 30L269.9 510" stroke="#000" stroke-width="2.1"/><path d="M273.7 82L273.7 712.5" stroke="#000" stroke-width="2"/><path d="M275.8 294L275.8 634" stroke="#000" stroke-width="2.2"/><path d="M279 257.4L279 627" stroke="#000" stroke-width="2.1"/><path d="M280.6 280L280.6 581" stroke="#000" stroke-width="1.7"/><path d="M282.7 429L282.7 473" stroke="#000" stroke-width="1.8"/><path d="M288 340L288 542" stroke="#000" stroke-width="2"/><path d="M289.7 405L289.7 505" stroke="#000" stroke-width="1.8"/><path d="M292.3 30L291.5 880" stroke="#000" stroke-width="2.1"/><path d="M294 336L294 570" stroke="#000" stroke-width="2"/><path d="M295.7 331L295.7 570" stroke="#000" stroke-width="2.2"/>
<path d="M585.3 328V503.6M607 399V443.4" stroke="#008000" stroke-width="2.1"/>
</g>
<rect x="138.5" y="48.4" width="874" height="807.1" fill="none" stroke="#000" stroke-width="1.15"/>
<path d="M132.6 73.5H138.5M1012.5 73.5H1018.4M132.6 104.5H138.5M1012.5 104.5H1018.4M132.6 136.5H138.5M1012.5 136.5H1018.4M132.6 167.5H138.5M1012.5 167.5H1018.4M132.6 199.5H138.5M1012.5 199.5H1018.4M132.6 231.5H138.5M1012.5 231.5H1018.4M132.6 262.5H138.5M1012.5 262.5H1018.4M132.6 294.5H138.5M1012.5 294.5H1018.4M132.6 325.5H138.5M1012.5 325.5H1018.4M132.6 357.5H138.5M1012.5 357.5H1018.4M132.6 388.5H138.5M1012.5 388.5H1018.4M132.6 420.5H138.5M1012.5 420.5H1018.4M132.6 451.5H138.5M1012.5 451.5H1018.4M132.6 483.5H138.5M1012.5 483.5H1018.4M132.6 514.5H138.5M1012.5 514.5H1018.4M132.6 546.5H138.5M1012.5 546.5H1018.4M132.6 578.5H138.5M1012.5 578.5H1018.4M132.6 609.5H138.5M1012.5 609.5H1018.4M132.6 641.5H138.5M1012.5 641.5H1018.4M132.6 672.5H138.5M1012.5 672.5H1018.4M132.6 704.5H138.5M1012.5 704.5H1018.4M132.6 735.5H138.5M1012.5 735.5H1018.4M132.6 767.5H138.5M1012.5 767.5H1018.4M132.6 798.5H138.5M1012.5 798.5H1018.4M132.6 830.5H138.5M1012.5 830.5H1018.4M138.5 855.5V861.1M357.5 855.5V861.1M575.5 855.5V861.1M794.5 855.5V861.1M1012.5 855.5V861.1" stroke="#000" stroke-width="1.1" fill="none"/>
<g font-family="DejaVu Sans, Liberation Sans, sans-serif" font-size="12.3" fill="#000"><text transform="translate(126.1 78) scale(1.08 1)" text-anchor="end">07:00:00</text><text transform="translate(1024.9 78) scale(1.072 1)">08:00:00</text><text transform="translate(126.1 109) scale(1.08 1)" text-anchor="end">08:00:00</text><text transform="translate(1024.9 109) scale(1.072 1)">09:00:00</text><text transform="translate(126.1 141) scale(1.08 1)" text-anchor="end">09:00:00</text><text transform="translate(1024.9 141) scale(1.072 1)">10:00:00</text><text transform="translate(126.1 172) scale(1.08 1)" text-anchor="end">10:00:00</text><text transform="translate(1024.9 172) scale(1.072 1)">11:00:00</text><text transform="translate(126.1 204) scale(1.08 1)" text-anchor="end">11:00:00</text><text transform="translate(1024.9 204) scale(1.072 1)">12:00:00</text><text transform="translate(126.1 235) scale(1.08 1)" text-anchor="end">12:00:00</text><text transform="translate(1024.9 235) scale(1.072 1)">13:00:00</text><text transform="translate(126.1 267) scale(1.08 1)" text-anchor="end">13:00:00</text><text transform="translate(1024.9 267) scale(1.072 1)">14:00:00</text><text transform="translate(126.1 298) scale(1.08 1)" text-anchor="end">14:00:00</text><text transform="translate(1024.9 298) scale(1.072 1)">15:00:00</text><text transform="translate(126.1 330) scale(1.08 1)" text-anchor="end">15:00:00</text><text transform="translate(1024.9 330) scale(1.072 1)">16:00:00</text><text transform="translate(126.1 362) scale(1.08 1)" text-anchor="end">16:00:00</text><text transform="translate(1024.9 362) scale(1.072 1)">17:00:00</text><text transform="translate(126.1 393) scale(1.08 1)" text-anchor="end">17:00:00</text><text transform="translate(1024.9 393) scale(1.072 1)">18:00:00</text><text transform="translate(126.1 425) scale(1.08 1)" text-anchor="end">18:00:00</text><text transform="translate(1024.9 425) scale(1.072 1)">19:00:00</text><text transform="translate(126.1 456) scale(1.08 1)" text-anchor="end">19:00:00</text><text transform="translate(1024.9 456) scale(1.072 1)">20:00:00</text><text transform="translate(126.1 488) scale(1.08 1)" text-anchor="end">20:00:00</text><text transform="translate(1024.9 488) scale(1.072 1)">21:00:00</text><text transform="translate(126.1 519) scale(1.08 1)" text-anchor="end">21:00:00</text><text transform="translate(1024.9 519) scale(1.072 1)">22:00:00</text><text transform="translate(126.1 551) scale(1.08 1)" text-anchor="end">22:00:00</text><text transform="translate(1024.9 551) scale(1.072 1)">23:00:00</text><text transform="translate(126.1 582) scale(1.08 1)" text-anchor="end">23:00:00</text><text transform="translate(1024.9 582) scale(1.072 1)">00:00:00</text><text transform="translate(126.1 614) scale(1.08 1)" text-anchor="end">00:00:00</text><text transform="translate(1024.9 614) scale(1.072 1)">01:00:00</text><text transform="translate(126.1 645) scale(1.08 1)" text-anchor="end">01:00:00</text><text transform="translate(1024.9 645) scale(1.072 1)">02:00:00</text><text transform="translate(126.1 677) scale(1.08 1)" text-anchor="end">02:00:00</text><text transform="translate(1024.9 677) scale(1.072 1)">03:00:00</text><text transform="translate(126.1 708) scale(1.08 1)" text-anchor="end">03:00:00</text><text transform="translate(1024.9 708) scale(1.072 1)">04:00:00</text><text transform="translate(126.1 740) scale(1.08 1)" text-anchor="end">04:00:00</text><text transform="translate(1024.9 740) scale(1.072 1)">05:00:00</text><text transform="translate(126.1 772) scale(1.08 1)" text-anchor="end">05:00:00</text><text transform="translate(1024.9 772) scale(1.072 1)">06:00:00</text><text transform="translate(126.1 803) scale(1.08 1)" text-anchor="end">06:00:00</text><text transform="translate(1024.9 803) scale(1.072 1)">07:00:00</text><text transform="translate(126.1 835) scale(1.08 1)" text-anchor="end">07:00:00</text><text transform="translate(1024.9 835) scale(1.072 1)">08:00:00</text></g>
<g font-family="DejaVu Sans, Liberation Sans, sans-serif" font-size="12.3" fill="#000"><text transform="translate(139.20 877) scale(1.03 1)" text-anchor="middle">0</text><text transform="translate(355.90 877) scale(1.03 1)" text-anchor="middle">15</text><text transform="translate(575.40 877) scale(1.03 1)" text-anchor="middle">30</text><text transform="translate(793.65 877) scale(1.03 1)" text-anchor="middle">45</text><text transform="translate(1012.00 877) scale(1.03 1)" text-anchor="middle">60</text></g>
<text font-family="DejaVu Sans, Liberation Sans, sans-serif" font-size="12.8" fill="#000" text-anchor="middle" transform="translate(574.7 895.6) scale(1.055 1)">time in minutes</text>
<text font-family="DejaVu Sans, Liberation Sans, sans-serif" font-size="16.6" fill="#000" text-anchor="middle" transform="translate(54 451.7) rotate(-90) scale(1 1.065)">UTC (local time = UTC - 08:00)</text>
<text font-family="DejaVu Sans, Liberation Sans, sans-serif" font-size="18.9" fill="#000" text-anchor="middle" transform="translate(575.4 33.8) scale(1.062 1)">2026-02-26 BK.BK61.00.HNZ</text>
</svg></body></html>
